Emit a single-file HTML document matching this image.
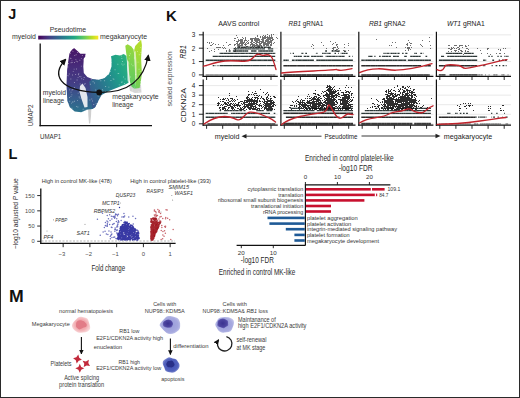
<!DOCTYPE html>
<html><head><meta charset="utf-8"><style>
html,body{margin:0;padding:0;background:#fff;width:520px;height:398px;overflow:hidden}
svg{display:block;font-family:"Liberation Sans", sans-serif}
</style></head><body>
<svg width="520" height="398" viewBox="0 0 520 398">
<rect width="520" height="398" fill="#fff"/>
<rect x="0.5" y="0.5" width="519" height="397" fill="none" stroke="#2a2a2a" stroke-width="1"/>
<text x="8.20" y="19.30" font-size="14.4" fill="#111" font-weight="bold">J</text>
<text x="49.80" y="31.80" font-size="7" fill="#333" textLength="36.20" lengthAdjust="spacingAndGlyphs">Pseudotime</text>
<text x="12.00" y="39.10" font-size="7" fill="#333" textLength="23.90" lengthAdjust="spacingAndGlyphs">myeloid</text>
<text x="100.10" y="39.10" font-size="7" fill="#333" textLength="46.90" lengthAdjust="spacingAndGlyphs">megakaryocyte</text>
<defs>
<linearGradient id="vir" x1="0" x2="1" y1="0" y2="0">
<stop offset="0" stop-color="#440154"/><stop offset="0.1" stop-color="#482475"/><stop offset="0.2" stop-color="#414487"/>
<stop offset="0.3" stop-color="#355f8d"/><stop offset="0.4" stop-color="#2a788e"/><stop offset="0.5" stop-color="#21918c"/>
<stop offset="0.6" stop-color="#22a884"/><stop offset="0.7" stop-color="#44bf70"/><stop offset="0.8" stop-color="#7ad151"/>
<stop offset="0.9" stop-color="#bddf26"/><stop offset="1" stop-color="#fde725"/></linearGradient>
<linearGradient id="lobeL" x1="0" x2="0" y1="0" y2="1">
<stop offset="0" stop-color="#471365"/><stop offset="0.3" stop-color="#472d7b"/><stop offset="0.55" stop-color="#433e85"/><stop offset="0.75" stop-color="#38598c"/><stop offset="1" stop-color="#2c748e"/></linearGradient>
<linearGradient id="lobeM" x1="0" x2="1" y1="0.8" y2="0.2">
<stop offset="0" stop-color="#39568c"/><stop offset="0.25" stop-color="#2e6d8e"/><stop offset="0.5" stop-color="#24878e"/><stop offset="0.75" stop-color="#1fa088"/><stop offset="1" stop-color="#2cb17e"/></linearGradient>
<linearGradient id="lobeR" x1="0" x2="0" y1="1" y2="0">
<stop offset="0" stop-color="#5ec962"/><stop offset="0.6" stop-color="#7bd250"/><stop offset="1" stop-color="#9ad93c"/></linearGradient>
<linearGradient id="lobeR2" x1="0" x2="0" y1="1" y2="0">
<stop offset="0" stop-color="#6fcf57"/><stop offset="0.5" stop-color="#98d83e"/><stop offset="1" stop-color="#b8de29"/></linearGradient>
<marker id="ah" viewBox="0 0 10 10" refX="8" refY="5" markerWidth="5.2" markerHeight="5.2" orient="auto-start-reverse"><path d="M0,0 L10,5 L0,10 z" fill="#111"/></marker>
</defs>
<rect x="38.20" y="35.70" width="60.10" height="3.80" fill="url(#vir)"/>
<line x1="40.20" y1="43.40" x2="40.20" y2="126.20" stroke="#111" stroke-width="1.3"/>
<line x1="39.50" y1="125.60" x2="152.00" y2="125.60" stroke="#111" stroke-width="1.3"/>
<text x="32.90" y="126.20" font-size="7.2" fill="#333" textLength="21.60" lengthAdjust="spacingAndGlyphs" transform="rotate(-90 32.90 126.20)">UMAP2</text>
<text x="40.00" y="139.40" font-size="7.2" fill="#333" textLength="21.20" lengthAdjust="spacingAndGlyphs">UMAP1</text>
<polygon points="88.0,106.0 91.5,106.0 91.0,116.0 90.2,123.5 89.0,123.5 88.3,115.0" fill="#cfcfcf"/>
<polygon points="129.0,86.0 141.0,85.0 141.5,92.5 135.0,93.0 130.0,91.0" fill="#d6d6d6"/>
<polygon points="74.0,48.1 78.1,51.5 80.4,53.8 85.6,53.8 85.2,56.7 83.8,58.5 83.3,66.5 83.8,72.9 87.3,76.9 93.1,79.2 98.0,80.0 99.5,88.0 99.0,95.0 98.4,100.8 95.1,107.3 92.7,109.0 87.8,109.5 81.2,112.2 74.7,111.4 69.8,107.3 67.3,100.8 66.5,85.0 67.1,70.0 68.3,60.8 69.4,53.8 71.1,50.4" fill="url(#lobeL)"/>
<polygon points="92.0,79.2 98.8,79.8 104.6,78.1 109.2,73.4 111.5,66.5 111.5,59.6 111.0,56.3 115.5,54.8 120.0,55.6 123.8,54.1 126.5,56.0 127.5,70.0 129.0,82.5 125.3,84.5 117.1,87.8 109.0,91.0 101.6,95.1 98.4,100.8 95.1,107.3 92.5,108.5 91.0,100.0 90.5,90.0 89.0,82.0" fill="url(#lobeM)"/>
<polygon points="125.3,45.8 127.6,44.3 131.4,46.5 133.6,49.5 134.8,60.0 135.2,75.0 136.0,88.5 134.0,88.5 131.4,86.5 129.8,81.2 128.0,65.0 126.1,52.6" fill="url(#lobeR)"/>
<polygon points="135.2,46.0 138.9,42.0 141.1,39.8 141.9,45.0 141.1,58.6 141.9,73.7 140.4,84.2 139.6,88.0 136.0,88.5 135.2,75.0 134.8,60.0 134.2,50.0" fill="url(#lobeR2)"/>
<polygon points="134.2,52.0 135.6,51.0 136.4,62.0 136.6,78.0 135.6,80.0 134.8,68.0" fill="#eef6e0" opacity="0.75"/>
<polygon points="80.0,86.0 82.5,83.5 85.5,88.0 87.5,97.0 87.5,107.0 84.5,107.5 81.5,99.0 79.5,92.0" fill="#f2f4f6" opacity="0.92"/>
<polygon points="127.0,60.0 128.5,62.0 129.5,78.0 128.5,84.0 127.5,80.0" fill="#e8f0e8" opacity="0.8"/>
<path d="M90.6 54.3h0.9v0.9h-0.9zM115.5 48.9h0.9v0.9h-0.9zM106.7 68.9h0.9v0.9h-0.9zM70.4 78.5h0.9v0.9h-0.9zM68.8 73.5h0.9v0.9h-0.9zM71.3 50.2h0.9v0.9h-0.9zM98.3 100.2h0.9v0.9h-0.9zM75.4 59.2h0.9v0.9h-0.9zM113.7 108.4h0.9v0.9h-0.9zM109.9 71.0h0.9v0.9h-0.9zM140.2 47.2h0.9v0.9h-0.9zM131.2 63.7h0.9v0.9h-0.9zM77.0 52.0h0.9v0.9h-0.9zM89.4 99.5h0.9v0.9h-0.9zM79.7 83.5h0.9v0.9h-0.9zM114.6 69.3h0.9v0.9h-0.9zM107.6 48.3h0.9v0.9h-0.9zM70.5 58.0h0.9v0.9h-0.9zM117.7 73.1h0.9v0.9h-0.9zM89.9 83.8h0.9v0.9h-0.9zM100.4 64.4h0.9v0.9h-0.9zM126.4 91.5h0.9v0.9h-0.9zM84.6 83.1h0.9v0.9h-0.9zM105.9 103.5h0.9v0.9h-0.9zM121.4 63.6h0.9v0.9h-0.9zM140.5 52.0h0.9v0.9h-0.9zM97.8 95.5h0.9v0.9h-0.9zM77.6 77.2h0.9v0.9h-0.9zM69.0 89.4h0.9v0.9h-0.9zM124.1 83.0h0.9v0.9h-0.9zM132.5 65.3h0.9v0.9h-0.9zM118.8 84.4h0.9v0.9h-0.9zM110.1 75.0h0.9v0.9h-0.9zM129.8 108.2h0.9v0.9h-0.9zM102.0 89.2h0.9v0.9h-0.9zM70.6 91.7h0.9v0.9h-0.9zM115.2 111.5h0.9v0.9h-0.9zM128.5 63.4h0.9v0.9h-0.9zM95.3 89.5h0.9v0.9h-0.9zM67.7 75.4h0.9v0.9h-0.9zM78.8 52.0h0.9v0.9h-0.9zM70.5 96.2h0.9v0.9h-0.9zM75.8 60.8h0.9v0.9h-0.9zM95.7 103.3h0.9v0.9h-0.9zM72.1 74.5h0.9v0.9h-0.9zM107.8 104.1h0.9v0.9h-0.9zM128.3 102.8h0.9v0.9h-0.9zM87.2 72.2h0.9v0.9h-0.9zM93.3 104.1h0.9v0.9h-0.9zM138.8 54.3h0.9v0.9h-0.9zM79.4 59.8h0.9v0.9h-0.9zM83.7 77.0h0.9v0.9h-0.9zM110.8 61.9h0.9v0.9h-0.9zM66.3 72.5h0.9v0.9h-0.9zM94.1 82.5h0.9v0.9h-0.9zM138.4 91.0h0.9v0.9h-0.9zM105.2 86.0h0.9v0.9h-0.9zM117.4 47.7h0.9v0.9h-0.9zM134.4 97.0h0.9v0.9h-0.9zM132.5 98.3h0.9v0.9h-0.9zM95.8 71.1h0.9v0.9h-0.9zM73.9 87.1h0.9v0.9h-0.9zM70.7 48.6h0.9v0.9h-0.9zM81.9 55.0h0.9v0.9h-0.9zM91.8 47.6h0.9v0.9h-0.9zM66.0 54.3h0.9v0.9h-0.9zM73.7 68.7h0.9v0.9h-0.9zM67.9 103.5h0.9v0.9h-0.9zM112.7 54.1h0.9v0.9h-0.9zM85.2 67.6h0.9v0.9h-0.9zM93.7 52.4h0.9v0.9h-0.9zM130.5 111.5h0.9v0.9h-0.9zM101.4 76.9h0.9v0.9h-0.9zM72.5 50.9h0.9v0.9h-0.9zM92.0 62.0h0.9v0.9h-0.9zM129.0 55.0h0.9v0.9h-0.9zM67.8 108.7h0.9v0.9h-0.9zM106.1 54.0h0.9v0.9h-0.9zM107.3 45.8h0.9v0.9h-0.9zM106.1 110.5h0.9v0.9h-0.9zM131.6 91.3h0.9v0.9h-0.9zM85.8 68.9h0.9v0.9h-0.9zM78.7 96.5h0.9v0.9h-0.9zM106.5 97.0h0.9v0.9h-0.9zM91.1 59.2h0.9v0.9h-0.9zM127.7 111.0h0.9v0.9h-0.9zM130.8 98.8h0.9v0.9h-0.9zM128.2 94.3h0.9v0.9h-0.9zM83.2 79.2h0.9v0.9h-0.9zM93.0 46.0h0.9v0.9h-0.9zM68.1 63.0h0.9v0.9h-0.9zM85.7 91.1h0.9v0.9h-0.9zM138.7 74.4h0.9v0.9h-0.9zM137.2 111.2h0.9v0.9h-0.9zM138.6 68.8h0.9v0.9h-0.9zM82.8 59.4h0.9v0.9h-0.9zM80.9 57.9h0.9v0.9h-0.9zM113.4 105.2h0.9v0.9h-0.9zM129.9 76.6h0.9v0.9h-0.9zM115.6 98.4h0.9v0.9h-0.9zM72.4 88.9h0.9v0.9h-0.9zM135.1 97.2h0.9v0.9h-0.9zM123.0 76.5h0.9v0.9h-0.9zM79.6 97.7h0.9v0.9h-0.9zM91.3 98.5h0.9v0.9h-0.9zM139.8 70.9h0.9v0.9h-0.9zM96.5 108.4h0.9v0.9h-0.9zM121.1 55.6h0.9v0.9h-0.9zM75.7 54.3h0.9v0.9h-0.9zM134.8 98.8h0.9v0.9h-0.9zM77.1 100.2h0.9v0.9h-0.9zM140.5 88.7h0.9v0.9h-0.9zM92.6 81.3h0.9v0.9h-0.9zM76.0 45.0h0.9v0.9h-0.9zM139.8 88.2h0.9v0.9h-0.9zM106.0 107.5h0.9v0.9h-0.9zM99.0 103.3h0.9v0.9h-0.9zM128.8 58.4h0.9v0.9h-0.9zM85.1 63.9h0.9v0.9h-0.9zM84.3 83.9h0.9v0.9h-0.9zM85.7 72.5h0.9v0.9h-0.9zM76.0 105.9h0.9v0.9h-0.9zM92.9 75.2h0.9v0.9h-0.9zM110.3 105.5h0.9v0.9h-0.9zM98.0 106.4h0.9v0.9h-0.9zM104.1 80.2h0.9v0.9h-0.9zM105.8 45.3h0.9v0.9h-0.9zM99.4 56.5h0.9v0.9h-0.9zM66.3 98.3h0.9v0.9h-0.9zM79.1 76.2h0.9v0.9h-0.9zM121.1 81.8h0.9v0.9h-0.9zM90.8 79.2h0.9v0.9h-0.9zM108.2 97.3h0.9v0.9h-0.9zM74.1 82.1h0.9v0.9h-0.9zM84.9 62.8h0.9v0.9h-0.9zM124.7 78.5h0.9v0.9h-0.9zM108.7 95.7h0.9v0.9h-0.9zM135.3 74.1h0.9v0.9h-0.9zM112.6 78.4h0.9v0.9h-0.9zM104.9 91.1h0.9v0.9h-0.9zM100.4 80.3h0.9v0.9h-0.9zM102.3 108.0h0.9v0.9h-0.9zM119.1 103.6h0.9v0.9h-0.9zM137.6 61.7h0.9v0.9h-0.9zM108.5 108.1h0.9v0.9h-0.9zM129.8 53.3h0.9v0.9h-0.9zM75.2 74.1h0.9v0.9h-0.9zM71.5 60.4h0.9v0.9h-0.9zM71.6 89.5h0.9v0.9h-0.9zM125.6 105.0h0.9v0.9h-0.9zM77.7 92.7h0.9v0.9h-0.9zM116.2 53.7h0.9v0.9h-0.9zM133.1 109.8h0.9v0.9h-0.9zM82.7 108.8h0.9v0.9h-0.9zM96.3 77.1h0.9v0.9h-0.9zM141.2 100.6h0.9v0.9h-0.9zM78.3 73.3h0.9v0.9h-0.9zM105.2 67.1h0.9v0.9h-0.9zM80.9 65.7h0.9v0.9h-0.9zM120.9 45.3h0.9v0.9h-0.9zM108.1 74.0h0.9v0.9h-0.9zM67.4 66.5h0.9v0.9h-0.9zM113.4 78.8h0.9v0.9h-0.9zM70.9 111.0h0.9v0.9h-0.9zM125.9 110.1h0.9v0.9h-0.9zM74.0 62.1h0.9v0.9h-0.9zM69.0 97.0h0.9v0.9h-0.9zM86.6 52.8h0.9v0.9h-0.9zM98.1 106.0h0.9v0.9h-0.9zM128.2 61.6h0.9v0.9h-0.9zM77.4 106.5h0.9v0.9h-0.9zM109.4 91.6h0.9v0.9h-0.9zM72.8 47.9h0.9v0.9h-0.9zM118.3 72.9h0.9v0.9h-0.9zM71.5 107.8h0.9v0.9h-0.9zM114.2 98.5h0.9v0.9h-0.9zM72.4 102.2h0.9v0.9h-0.9zM71.1 102.7h0.9v0.9h-0.9zM100.5 67.1h0.9v0.9h-0.9zM108.0 107.0h0.9v0.9h-0.9zM86.4 52.8h0.9v0.9h-0.9zM106.0 60.2h0.9v0.9h-0.9zM74.3 55.0h0.9v0.9h-0.9zM69.8 57.7h0.9v0.9h-0.9zM89.7 64.7h0.9v0.9h-0.9zM123.7 63.7h0.9v0.9h-0.9zM104.0 56.1h0.9v0.9h-0.9zM92.4 45.2h0.9v0.9h-0.9zM85.0 45.0h0.9v0.9h-0.9zM121.7 81.5h0.9v0.9h-0.9zM80.4 76.3h0.9v0.9h-0.9zM137.0 51.2h0.9v0.9h-0.9zM128.2 73.4h0.9v0.9h-0.9zM103.6 100.8h0.9v0.9h-0.9zM95.9 78.5h0.9v0.9h-0.9zM118.3 110.8h0.9v0.9h-0.9zM92.0 100.6h0.9v0.9h-0.9zM119.7 87.2h0.9v0.9h-0.9zM96.8 67.6h0.9v0.9h-0.9zM70.1 52.8h0.9v0.9h-0.9zM71.4 94.4h0.9v0.9h-0.9zM85.4 55.1h0.9v0.9h-0.9zM72.4 101.2h0.9v0.9h-0.9zM132.2 89.6h0.9v0.9h-0.9zM87.4 60.5h0.9v0.9h-0.9zM88.3 75.2h0.9v0.9h-0.9zM78.0 74.3h0.9v0.9h-0.9zM86.0 109.4h0.9v0.9h-0.9zM139.9 81.2h0.9v0.9h-0.9zM84.6 109.7h0.9v0.9h-0.9zM89.5 68.2h0.9v0.9h-0.9zM66.1 70.0h0.9v0.9h-0.9zM102.1 78.2h0.9v0.9h-0.9zM81.3 78.3h0.9v0.9h-0.9zM66.4 62.0h0.9v0.9h-0.9zM72.8 71.2h0.9v0.9h-0.9zM69.2 45.5h0.9v0.9h-0.9zM89.1 59.8h0.9v0.9h-0.9zM110.5 80.0h0.9v0.9h-0.9zM123.0 88.7h0.9v0.9h-0.9zM120.4 103.8h0.9v0.9h-0.9zM95.6 66.2h0.9v0.9h-0.9zM140.8 54.2h0.9v0.9h-0.9zM121.0 87.7h0.9v0.9h-0.9zM69.3 100.8h0.9v0.9h-0.9zM133.8 86.7h0.9v0.9h-0.9zM121.8 99.2h0.9v0.9h-0.9zM76.6 79.6h0.9v0.9h-0.9zM104.3 100.8h0.9v0.9h-0.9zM127.2 100.2h0.9v0.9h-0.9zM110.4 104.7h0.9v0.9h-0.9zM117.9 91.1h0.9v0.9h-0.9zM83.5 46.1h0.9v0.9h-0.9zM76.1 68.5h0.9v0.9h-0.9zM74.0 100.8h0.9v0.9h-0.9zM108.4 86.7h0.9v0.9h-0.9zM113.6 90.3h0.9v0.9h-0.9zM103.2 44.2h0.9v0.9h-0.9zM126.6 94.9h0.9v0.9h-0.9zM104.2 80.4h0.9v0.9h-0.9zM116.1 48.5h0.9v0.9h-0.9zM122.0 61.1h0.9v0.9h-0.9zM71.7 62.1h0.9v0.9h-0.9zM121.4 58.0h0.9v0.9h-0.9zM122.2 110.3h0.9v0.9h-0.9zM103.5 70.0h0.9v0.9h-0.9zM102.4 90.5h0.9v0.9h-0.9zM124.3 86.0h0.9v0.9h-0.9zM114.8 49.3h0.9v0.9h-0.9zM77.2 61.3h0.9v0.9h-0.9zM122.5 64.7h0.9v0.9h-0.9zM109.1 44.8h0.9v0.9h-0.9zM70.6 62.3h0.9v0.9h-0.9zM117.1 91.1h0.9v0.9h-0.9zM117.4 63.8h0.9v0.9h-0.9zM105.3 75.6h0.9v0.9h-0.9zM101.4 52.1h0.9v0.9h-0.9zM133.9 57.5h0.9v0.9h-0.9zM140.3 107.7h0.9v0.9h-0.9zM67.3 75.2h0.9v0.9h-0.9z" fill="#fff" opacity="0.45"/>
<path d="M 65.5,59.5 C 52,74 57,91 99,92.4 C 128,93 144,80 148.3,55.5" fill="none" stroke="#111" stroke-width="1.3" marker-start="url(#ah)" marker-end="url(#ah)"/>
<circle cx="99.2" cy="92.5" r="2.9" fill="#111"/>
<text x="42.80" y="95.30" font-size="7.0" fill="#333" textLength="23.20" lengthAdjust="spacingAndGlyphs">myeloid</text>
<text x="43.00" y="102.90" font-size="7.0" fill="#333" textLength="21.20" lengthAdjust="spacingAndGlyphs">lineage</text>
<text x="112.20" y="98.80" font-size="7.0" fill="#333" textLength="46.40" lengthAdjust="spacingAndGlyphs">megakaryocyte</text>
<text x="112.20" y="106.80" font-size="7.0" fill="#333" textLength="21.10" lengthAdjust="spacingAndGlyphs">lineage</text>
<text x="166.00" y="20.80" font-size="14.4" fill="#111" font-weight="bold" textLength="10.80" lengthAdjust="spacingAndGlyphs">K</text>
<text x="218.20" y="26.10" font-size="7" fill="#222" textLength="41.10" lengthAdjust="spacingAndGlyphs">AAVS control</text>
<text x="288.6" y="26.1" font-size="7" fill="#222" textLength="34.7" lengthAdjust="spacingAndGlyphs"><tspan font-style="italic">RB1</tspan> gRNA1</text>
<text x="369.0" y="26.1" font-size="7" fill="#222" textLength="36.5" lengthAdjust="spacingAndGlyphs"><tspan font-style="italic">RB1</tspan> gRNA2</text>
<text x="446.9" y="26.1" font-size="7" fill="#222" textLength="37.8" lengthAdjust="spacingAndGlyphs"><tspan font-style="italic">WT1</tspan> gRNA1</text>
<text x="172.00" y="106.50" font-size="6.4" fill="#555" textLength="55.10" lengthAdjust="spacingAndGlyphs" transform="rotate(-90 172.00 106.50)">scaled expression</text>
<text x="186.20" y="58.70" font-size="8.2" fill="#222" font-style="italic" textLength="13.60" lengthAdjust="spacingAndGlyphs" transform="rotate(-90 186.20 58.70)">RB1</text>
<text x="186.40" y="122.50" font-size="8.0" fill="#222" textLength="34.30" lengthAdjust="spacingAndGlyphs" transform="rotate(-90 186.40 122.50)">CDKN2A</text>
<line x1="204.20" y1="74.90" x2="277.80" y2="74.90" stroke="#e2e2e2" stroke-width="0.8"/>
<line x1="281.90" y1="74.90" x2="355.50" y2="74.90" stroke="#e2e2e2" stroke-width="0.8"/>
<line x1="359.80" y1="74.90" x2="433.40" y2="74.90" stroke="#e2e2e2" stroke-width="0.8"/>
<line x1="437.40" y1="74.90" x2="511.00" y2="74.90" stroke="#e2e2e2" stroke-width="0.8"/>
<line x1="204.20" y1="61.55" x2="277.80" y2="61.55" stroke="#e2e2e2" stroke-width="0.8"/>
<line x1="281.90" y1="61.55" x2="355.50" y2="61.55" stroke="#e2e2e2" stroke-width="0.8"/>
<line x1="359.80" y1="61.55" x2="433.40" y2="61.55" stroke="#e2e2e2" stroke-width="0.8"/>
<line x1="437.40" y1="61.55" x2="511.00" y2="61.55" stroke="#e2e2e2" stroke-width="0.8"/>
<line x1="204.20" y1="48.20" x2="277.80" y2="48.20" stroke="#e2e2e2" stroke-width="0.8"/>
<line x1="281.90" y1="48.20" x2="355.50" y2="48.20" stroke="#e2e2e2" stroke-width="0.8"/>
<line x1="359.80" y1="48.20" x2="433.40" y2="48.20" stroke="#e2e2e2" stroke-width="0.8"/>
<line x1="437.40" y1="48.20" x2="511.00" y2="48.20" stroke="#e2e2e2" stroke-width="0.8"/>
<line x1="204.20" y1="34.85" x2="277.80" y2="34.85" stroke="#e2e2e2" stroke-width="0.8"/>
<line x1="281.90" y1="34.85" x2="355.50" y2="34.85" stroke="#e2e2e2" stroke-width="0.8"/>
<line x1="359.80" y1="34.85" x2="433.40" y2="34.85" stroke="#e2e2e2" stroke-width="0.8"/>
<line x1="437.40" y1="34.85" x2="511.00" y2="34.85" stroke="#e2e2e2" stroke-width="0.8"/>
<line x1="204.20" y1="123.80" x2="277.80" y2="123.80" stroke="#e2e2e2" stroke-width="0.8"/>
<line x1="281.90" y1="123.80" x2="355.50" y2="123.80" stroke="#e2e2e2" stroke-width="0.8"/>
<line x1="359.80" y1="123.80" x2="433.40" y2="123.80" stroke="#e2e2e2" stroke-width="0.8"/>
<line x1="437.40" y1="123.80" x2="511.00" y2="123.80" stroke="#e2e2e2" stroke-width="0.8"/>
<line x1="204.20" y1="114.25" x2="277.80" y2="114.25" stroke="#e2e2e2" stroke-width="0.8"/>
<line x1="281.90" y1="114.25" x2="355.50" y2="114.25" stroke="#e2e2e2" stroke-width="0.8"/>
<line x1="359.80" y1="114.25" x2="433.40" y2="114.25" stroke="#e2e2e2" stroke-width="0.8"/>
<line x1="437.40" y1="114.25" x2="511.00" y2="114.25" stroke="#e2e2e2" stroke-width="0.8"/>
<line x1="204.20" y1="104.70" x2="277.80" y2="104.70" stroke="#e2e2e2" stroke-width="0.8"/>
<line x1="281.90" y1="104.70" x2="355.50" y2="104.70" stroke="#e2e2e2" stroke-width="0.8"/>
<line x1="359.80" y1="104.70" x2="433.40" y2="104.70" stroke="#e2e2e2" stroke-width="0.8"/>
<line x1="437.40" y1="104.70" x2="511.00" y2="104.70" stroke="#e2e2e2" stroke-width="0.8"/>
<line x1="204.20" y1="95.15" x2="277.80" y2="95.15" stroke="#e2e2e2" stroke-width="0.8"/>
<line x1="281.90" y1="95.15" x2="355.50" y2="95.15" stroke="#e2e2e2" stroke-width="0.8"/>
<line x1="359.80" y1="95.15" x2="433.40" y2="95.15" stroke="#e2e2e2" stroke-width="0.8"/>
<line x1="437.40" y1="95.15" x2="511.00" y2="95.15" stroke="#e2e2e2" stroke-width="0.8"/>
<line x1="204.20" y1="85.60" x2="277.80" y2="85.60" stroke="#e2e2e2" stroke-width="0.8"/>
<line x1="281.90" y1="85.60" x2="355.50" y2="85.60" stroke="#e2e2e2" stroke-width="0.8"/>
<line x1="359.80" y1="85.60" x2="433.40" y2="85.60" stroke="#e2e2e2" stroke-width="0.8"/>
<line x1="437.40" y1="85.60" x2="511.00" y2="85.60" stroke="#e2e2e2" stroke-width="0.8"/>
<path d="M205.7 74.90h4.1M209.9 74.90h3.1M213.1 74.90h1.6M214.8 74.90h3.6M218.5 74.90h1.4M220.0 74.90h3.3M223.4 74.90h2.0M225.4 74.90h1.7M227.2 74.90h4.4M231.7 74.90h3.8M235.5 74.90h3.2M238.8 74.90h4.0M242.9 74.90h3.7M246.7 74.90h1.5M248.2 74.90h2.7M250.9 74.90h3.0M254.0 74.90h2.7M256.8 74.90h4.3M261.2 74.90h1.9M263.2 74.90h1.1M264.4 74.90h4.3M268.7 74.90h3.8M272.7 74.90h2.2M274.9 74.90h0.4" stroke="#8a8a8a" stroke-width="1.5" fill="none"/>
<path d="M205.7 65.65h0.8M212.7 65.65h1.5M214.7 65.65h0.7M216.8 65.65h0.5M217.8 65.65h0.7" stroke="#2d3838" stroke-width="1.3" fill="none"/>
<path d="M219.6 65.65h4.0M223.7 65.65h3.9M227.6 65.65h4.6M232.3 65.65h2.8M235.1 65.65h2.0M237.1 65.65h3.5M240.7 65.65h2.9M243.7 65.65h3.7M247.4 65.65h2.8M250.3 65.65h2.5M252.9 65.65h3.5M256.4 65.65h3.5M260.0 65.65h4.1M264.1 65.65h2.5M266.8 65.65h4.1M271.0 65.65h2.2M273.2 65.65h1.3M274.6 65.65h0.7" stroke="#2d3838" stroke-width="1.3" fill="none"/>
<path d="M205.7 60.23h3.9M209.7 60.23h3.8M213.6 60.23h2.5M216.1 60.23h1.1M217.3 60.23h2.2M219.6 60.23h3.8M223.5 60.23h2.3M225.9 60.23h2.0M227.9 60.23h2.0M230.0 60.23h1.4M231.5 60.23h3.5M235.1 60.23h2.2M237.4 60.23h3.3M240.8 60.23h1.9M242.8 60.23h2.6M245.4 60.23h2.8M248.4 60.23h3.3M251.7 60.23h4.4M256.2 60.23h1.6M257.9 60.23h1.4M259.3 60.23h1.8M261.2 60.23h1.4M262.7 60.23h1.2M264.0 60.23h3.4M267.6 60.23h4.1M271.8 60.23h1.3M273.1 60.23h2.2" stroke="#2d3838" stroke-width="1.3" fill="none"/>
<path d="M212.7 56.40h2.1M214.8 56.40h2.2M217.1 56.40h1.5M218.8 56.40h2.5M221.4 56.40h3.3M224.8 56.40h1.5M226.4 56.40h3.2M229.7 56.40h3.5M233.3 56.40h2.7M236.0 56.40h2.8M238.9 56.40h1.9M240.9 56.40h3.6M244.5 56.40h3.8M248.5 56.40h4.4M252.9 56.40h3.6M256.6 56.40h2.6M259.3 56.40h1.5M260.8 56.40h2.2M263.1 56.40h4.1M267.2 56.40h1.2M268.5 56.40h2.6M271.2 56.40h3.8M275.1 56.40h0.2" stroke="#2d3838" stroke-width="1.3" fill="none"/>
<path d="M219.6 53.42h1.2M220.9 53.42h2.6M223.7 53.42h4.1M227.9 53.42h1.6M229.5 53.42h3.7M233.3 53.42h1.4M234.8 53.42h2.2M237.1 53.42h1.9M239.1 53.42h1.6M240.8 53.42h3.2M244.1 53.42h1.7M246.0 53.42h1.5M247.6 53.42h1.2M249.0 53.42h4.0M253.1 53.42h2.5M255.7 53.42h3.2M259.0 53.42h4.1M263.3 53.42h4.1M267.5 53.42h2.8M270.4 53.42h1.6M272.2 53.42h2.0M274.3 53.42h1.0" stroke="#2d3838" stroke-width="1.3" fill="none"/>
<path d="M228.7 50.98h1.9M232.9 50.98h3.1M236.1 50.98h2.3M238.5 50.98h3.8M242.5 50.98h1.7M244.4 50.98h1.7M246.2 50.98h2.0M251.1 50.98h2.8M254.0 50.98h2.5M258.3 50.98h1.3M259.7 50.98h3.2M263.0 50.98h2.0M265.1 50.98h3.2M268.5 50.98h1.6M270.2 50.98h3.0" stroke="#2d3838" stroke-width="1.3" fill="none"/>
<path d="M233.5 48.92h3.5M237.1 48.92h2.4M239.7 48.92h2.9M242.7 48.92h1.8M244.7 48.92h2.3M247.1 48.92h2.6M249.8 48.92h1.9M251.9 48.92h3.5M255.5 48.92h3.5M259.2 48.92h2.3M261.7 48.92h3.3M267.9 48.92h2.3M270.3 48.92h1.6M272.0 48.92h1.2" stroke="#2d3838" stroke-width="1.3" fill="none"/>
<path d="M237.0 47.15h1.7M239.0 47.15h1.5M240.8 47.15h2.4M243.4 47.15h1.7M245.3 47.15h2.5M247.9 47.15h2.0M250.1 47.15h1.8M252.1 47.15h2.7M255.1 47.15h2.0M257.5 47.15h2.5M260.1 47.15h1.3M261.6 47.15h1.9M263.8 47.15h1.4M265.5 47.15h1.7M267.6 47.15h1.7M269.5 47.15h1.1" stroke="#2d3838" stroke-width="1.3" fill="none"/>
<path d="M283.4 74.90h2.6M286.1 74.90h4.1M290.2 74.90h2.7M293.0 74.90h2.0M295.1 74.90h3.1M298.2 74.90h3.1M301.4 74.90h3.5M304.9 74.90h1.8M306.9 74.90h1.4M308.3 74.90h2.8M311.2 74.90h4.3M315.5 74.90h2.7M318.2 74.90h4.2M322.5 74.90h4.2M326.8 74.90h1.9M328.7 74.90h2.8M331.5 74.90h1.8M333.4 74.90h2.2M335.7 74.90h3.6M339.4 74.90h3.9M343.4 74.90h3.1M346.4 74.90h2.7M349.2 74.90h1.4M350.7 74.90h2.3" stroke="#555" stroke-width="2.0" fill="none"/>
<path d="M283.4 65.65h3.7M287.2 65.65h2.6M289.9 65.65h2.7M292.6 65.65h3.6M296.3 65.65h1.3M297.7 65.65h3.8M301.5 65.65h4.3M305.9 65.65h4.5M310.4 65.65h4.1M314.5 65.65h3.3M317.8 65.65h2.1M320.1 65.65h3.4M323.5 65.65h2.7M326.3 65.65h2.5M328.9 65.65h3.4M332.4 65.65h3.0M335.5 65.65h3.7M339.2 65.65h2.3M341.6 65.65h4.4M346.1 65.65h2.1M348.2 65.65h1.8M350.2 65.65h2.4M352.7 65.65h0.3" stroke="#2a2a2a" stroke-width="1.5" fill="none"/>
<path d="M283.4 60.23h1.8M285.4 60.23h2.4M288.1 60.23h0.7M291.9 60.23h2.1M294.3 60.23h1.2M295.8 60.23h1.5" stroke="#2d3838" stroke-width="1.3" fill="none"/>
<path d="M297.3 60.23h4.1M301.5 60.23h1.2M302.8 60.23h2.7M305.5 60.23h2.0M307.6 60.23h1.6M309.3 60.23h4.6M316.3 60.23h2.1M318.5 60.23h2.1M320.7 60.23h1.4M322.1 60.23h3.0M325.2 60.23h2.1M327.4 60.23h4.2M331.7 60.23h2.2M333.9 60.23h3.6M337.5 60.23h3.6M341.2 60.23h4.4M345.6 60.23h3.0M348.7 60.23h4.2M353.0 60.23h0.0" stroke="#2d3838" stroke-width="1.3" fill="none"/>
<path d="M293.8 56.40h1.8M295.9 56.40h1.1M297.4 56.40h1.8M299.4 56.40h2.5M303.7 56.40h2.7M306.8 56.40h2.5M311.1 56.40h1.9M313.2 56.40h2.9M316.4 56.40h1.5M318.1 56.40h1.2M319.5 56.40h1.6M321.2 56.40h0.8M322.2 56.40h0.9M325.6 56.40h0.8M326.7 56.40h2.2M329.0 56.40h2.3M331.5 56.40h0.8M332.4 56.40h2.8M335.5 56.40h1.4M337.3 56.40h1.4M339.1 56.40h2.5M341.8 56.40h2.8M348.7 56.40h1.5M352.4 56.40h0.6" stroke="#2d3838" stroke-width="1.3" fill="none"/>
<path d="M290.4 53.42h0.7M292.7 53.42h1.3M301.1 53.42h0.6M302.1 53.42h1.3M305.3 53.42h1.7M315.9 53.42h0.8M317.0 53.42h0.5M322.1 53.42h1.4M323.8 53.42h0.8M324.8 53.42h0.9M325.9 53.42h0.6M326.9 53.42h0.8M328.2 53.42h1.8M330.2 53.42h0.7M334.5 53.42h1.5M338.1 53.42h0.7M340.7 53.42h0.5M341.7 53.42h1.7M343.6 53.42h1.8M345.7 53.42h1.9" stroke="#2d3838" stroke-width="1.3" fill="none"/>
<path d="M325.2 50.98h1.8M331.6 50.98h2.1M334.3 50.98h1.1M335.6 50.98h1.5M337.4 50.98h1.4M339.2 50.98h0.7M344.2 50.98h1.0M345.7 50.98h0.4" stroke="#2d3838" stroke-width="1.3" fill="none"/>
<path d="M361.3 74.90h2.3M363.6 74.90h2.9M366.6 74.90h4.4M371.1 74.90h4.6M375.7 74.90h4.3M380.1 74.90h2.4M382.5 74.90h3.9M386.5 74.90h2.7M389.3 74.90h3.1M392.4 74.90h2.2M394.7 74.90h2.8M397.6 74.90h1.7M399.4 74.90h1.5M401.0 74.90h2.6M403.7 74.90h2.0M405.8 74.90h3.5M409.3 74.90h2.4M411.8 74.90h3.1M414.9 74.90h1.5M416.5 74.90h2.6M419.1 74.90h4.4M423.6 74.90h2.9M426.5 74.90h1.5M428.1 74.90h1.6" stroke="#606060" stroke-width="2.0" fill="none"/>
<path d="M361.3 65.65h4.3M365.7 65.65h4.3M370.1 65.65h2.9M373.0 65.65h2.0M375.1 65.65h2.1M377.3 65.65h3.6M380.9 65.65h4.4M385.4 65.65h2.9M388.3 65.65h4.8M393.1 65.65h3.0M396.2 65.65h3.4M399.7 65.65h2.8M402.6 65.65h3.5M406.1 65.65h2.8M408.9 65.65h3.2M412.2 65.65h2.9M415.1 65.65h2.8M418.0 65.65h3.2M424.4 65.65h3.4M428.0 65.65h2.0M430.1 65.65h0.8" stroke="#2a2a2a" stroke-width="1.5" fill="none"/>
<path d="M361.3 60.23h1.7M363.1 60.23h1.1M364.4 60.23h1.0M365.6 60.23h1.8M367.5 60.23h3.8M371.4 60.23h1.3M372.8 60.23h2.2M375.2 60.23h1.3M376.5 60.23h3.2M379.9 60.23h1.4M381.4 60.23h2.6M384.1 60.23h2.1M386.2 60.23h1.9M388.2 60.23h3.8M392.2 60.23h2.6M394.9 60.23h2.8M397.9 60.23h1.0M399.0 60.23h3.0M402.1 60.23h1.2M403.4 60.23h2.8M407.8 60.23h4.0M411.8 60.23h1.2M413.2 60.23h2.2M415.5 60.23h3.9M419.5 60.23h2.8M422.4 60.23h1.9M424.5 60.23h3.6M428.2 60.23h2.7" stroke="#2d3838" stroke-width="1.3" fill="none"/>
<path d="M368.3 56.40h1.4M369.8 56.40h2.7M374.3 56.40h1.2M379.1 56.40h1.6M381.9 56.40h1.0M383.1 56.40h2.6M385.9 56.40h2.7M389.0 56.40h1.9M393.0 56.40h2.9M396.2 56.40h2.7M404.2 56.40h2.6M410.2 56.40h2.4M412.8 56.40h2.5M415.4 56.40h2.8M418.4 56.40h2.3M425.5 56.40h1.7" stroke="#2d3838" stroke-width="1.3" fill="none"/>
<path d="M383.4 53.42h0.9M384.6 53.42h0.7M385.6 53.42h0.8M386.8 53.42h1.1M388.1 53.42h1.0M389.6 53.42h0.9M390.9 53.42h1.6M392.7 53.42h1.2M394.2 53.42h1.8M396.4 53.42h1.0M397.8 53.42h1.8M402.1 53.42h1.5M405.3 53.42h2.1M414.3 53.42h1.4M416.0 53.42h0.9M420.3 53.42h1.9M423.6 53.42h0.4" stroke="#2d3838" stroke-width="1.3" fill="none"/>
<path d="M438.9 74.90h2.1M441.1 74.90h4.4M449.5 74.90h2.5M452.1 74.90h2.9M455.1 74.90h2.8M458.0 74.90h1.8M459.9 74.90h2.4M462.3 74.90h1.2M463.6 74.90h3.7M467.3 74.90h1.5M468.9 74.90h2.7M471.7 74.90h4.6M476.3 74.90h0.9" stroke="#5a5a5a" stroke-width="1.6" fill="none"/>
<path d="M477.2 74.90h0.7M478.2 74.90h1.9M480.5 74.90h2.2M485.0 74.90h0.8M488.7 74.90h0.8M493.3 74.90h2.3M495.9 74.90h1.6M501.1 74.90h0.6M502.2 74.90h2.3M507.6 74.90h0.9" stroke="#777" stroke-width="1.4" fill="none"/>
<path d="M438.9 65.65h2.2M441.1 65.65h2.8M444.0 65.65h1.6M445.7 65.65h2.8M448.6 65.65h3.2M451.8 65.65h4.4M456.3 65.65h2.2M458.6 65.65h2.0M460.6 65.65h3.9M464.6 65.65h4.4M469.0 65.65h1.9M471.0 65.65h3.9M475.0 65.65h2.2" stroke="#2a2a2a" stroke-width="1.5" fill="none"/>
<path d="M479.5 65.65h0.7M482.9 65.65h1.0M484.2 65.65h1.1M491.6 65.65h1.1M495.6 65.65h1.7M499.0 65.65h1.3M502.5 65.65h1.8M505.7 65.65h0.9" stroke="#2d3838" stroke-width="1.3" fill="none"/>
<path d="M438.9 60.23h3.2M442.2 60.23h3.7M445.9 60.23h4.3M450.3 60.23h3.6M454.0 60.23h2.6M456.7 60.23h2.6M459.3 60.23h4.2M463.6 60.23h3.0M466.8 60.23h4.3M471.2 60.23h2.6M473.8 60.23h3.4" stroke="#2d3838" stroke-width="1.3" fill="none"/>
<path d="M483.1 60.23h1.8M485.4 60.23h0.8M492.3 60.23h1.8M498.8 60.23h1.2M502.0 60.23h1.7M504.8 60.23h2.0" stroke="#2d3838" stroke-width="1.3" fill="none"/>
<path d="M441.0 56.40h3.1M447.2 56.40h2.1M449.5 56.40h2.0M451.5 56.40h2.6M454.3 56.40h3.2M457.6 56.40h2.3M460.0 56.40h1.3M461.4 56.40h3.6M465.0 56.40h1.4M466.5 56.40h4.4M471.0 56.40h1.7M472.8 56.40h1.3M474.1 56.40h3.1" stroke="#2d3838" stroke-width="1.3" fill="none"/>
<path d="M488.4 56.40h1.4M491.3 56.40h1.3M497.4 56.40h1.3M500.0 56.40h0.6M501.1 56.40h0.8M504.4 56.40h1.1M506.0 56.40h0.8M507.3 56.40h1.2" stroke="#2d3838" stroke-width="1.3" fill="none"/>
<path d="M445.9 53.42h1.0M447.1 53.42h2.1M449.2 53.42h3.3M452.7 53.42h2.0M454.8 53.42h3.6M458.5 53.42h1.9M460.5 53.42h1.7M464.1 53.42h3.6M467.8 53.42h3.6M471.7 53.42h2.0" stroke="#2d3838" stroke-width="1.3" fill="none"/>
<path d="M207.4 123.80h2.8M210.3 123.80h3.2M213.5 123.80h3.8M217.3 123.80h2.9M220.3 123.80h2.6M223.0 123.80h1.2M224.3 123.80h3.1M227.5 123.80h3.8M231.4 123.80h1.5M233.0 123.80h3.6M236.6 123.80h2.9M239.6 123.80h1.5M241.2 123.80h4.2M245.5 123.80h2.1M247.7 123.80h4.1M251.9 123.80h2.3M254.3 123.80h3.6M258.1 123.80h4.6M262.7 123.80h4.8M267.5 123.80h4.0M271.6 123.80h3.7" stroke="#6a6a6a" stroke-width="1.8" fill="none"/>
<path d="M205.7 117.18h3.2M209.0 117.18h1.3M210.4 117.18h3.8M214.4 117.18h4.2M218.6 117.18h3.8M222.5 117.18h3.0M225.5 117.18h4.1M229.7 117.18h4.5M234.3 117.18h1.2M235.7 117.18h3.9M239.7 117.18h3.0M242.7 117.18h2.5M245.3 117.18h2.0M247.3 117.18h4.5M251.9 117.18h4.6M256.5 117.18h3.3M260.0 117.18h1.3M261.3 117.18h2.8M264.1 117.18h2.4M266.6 117.18h1.9M268.5 117.18h1.8M270.4 117.18h3.9M274.4 117.18h0.9" stroke="#2f3a3a" stroke-width="1.6" fill="none"/>
<path d="M205.7 113.30h2.4M208.3 113.30h3.8M212.1 113.30h2.3M214.7 113.30h2.6M217.4 113.30h1.7M219.2 113.30h3.0M222.3 113.30h2.7M225.1 113.30h1.1M226.3 113.30h1.4M231.1 113.30h1.2M232.5 113.30h2.8M235.6 113.30h2.1M237.8 113.30h2.7M240.7 113.30h2.9M243.8 113.30h2.7M246.6 113.30h3.7M250.5 113.30h1.5M252.1 113.30h3.1M255.4 113.30h1.5M257.0 113.30h3.0M260.2 113.30h2.0M262.3 113.30h3.0M265.4 113.30h2.4M268.0 113.30h2.0M273.7 113.30h1.6" stroke="#2d3838" stroke-width="1.3" fill="none"/>
<path d="M219.6 110.56h1.5M224.1 110.56h3.0M227.2 110.56h1.8M229.2 110.56h2.9M232.4 110.56h2.4M235.1 110.56h3.1M238.5 110.56h0.8M239.6 110.56h2.6M243.5 110.56h2.0M256.3 110.56h1.6M258.1 110.56h2.9M261.2 110.56h2.6M266.5 110.56h3.0M269.7 110.56h2.6" stroke="#2d3838" stroke-width="1.3" fill="none"/>
<path d="M283.4 123.80h1.6M285.1 123.80h2.0M287.1 123.80h3.9M291.0 123.80h3.4M294.5 123.80h3.1M297.7 123.80h2.4M300.2 123.80h4.4M304.7 123.80h1.8M306.5 123.80h1.3M307.9 123.80h3.2M311.2 123.80h4.6M315.9 123.80h4.6M320.5 123.80h3.2M323.7 123.80h4.7M328.5 123.80h4.2M332.8 123.80h3.2M336.0 123.80h3.8M339.9 123.80h1.8M341.7 123.80h3.3M345.1 123.80h2.9M348.0 123.80h2.8M350.9 123.80h2.1" stroke="#333" stroke-width="2.0" fill="none"/>
<path d="M285.9 117.18h1.6M287.5 117.18h2.5M290.0 117.18h1.6M291.6 117.18h1.3M293.0 117.18h1.9M294.9 117.18h4.1M299.1 117.18h1.9M301.1 117.18h4.5M305.7 117.18h4.3M310.1 117.18h3.0M313.2 117.18h1.6M314.8 117.18h2.9M317.8 117.18h1.7M319.6 117.18h4.1M323.8 117.18h3.9M327.8 117.18h1.5M329.4 117.18h3.7M333.2 117.18h3.6M336.9 117.18h2.7M342.9 117.18h4.2M347.2 117.18h4.5M351.8 117.18h1.2" stroke="#2a2a2a" stroke-width="1.6" fill="none"/>
<path d="M283.4 113.30h2.0M285.4 113.30h3.6M289.1 113.30h1.5M290.7 113.30h1.7M292.4 113.30h1.5M293.9 113.30h4.4M298.4 113.30h2.1M300.5 113.30h2.9M303.5 113.30h4.1M307.7 113.30h3.6M311.4 113.30h4.4M315.8 113.30h1.5M317.4 113.30h3.4M320.9 113.30h4.0M325.0 113.30h1.6M326.7 113.30h2.6M329.4 113.30h3.1M332.5 113.30h2.0M334.5 113.30h4.8M339.4 113.30h4.1M343.5 113.30h3.3M346.9 113.30h4.0M351.0 113.30h2.0" stroke="#2a2a2a" stroke-width="1.4" fill="none"/>
<path d="M283.4 110.56h4.0M287.6 110.56h2.7M290.3 110.56h4.0M294.4 110.56h2.2M296.8 110.56h2.4M299.3 110.56h3.5M302.9 110.56h1.1M304.0 110.56h2.1M306.2 110.56h3.2M309.5 110.56h1.3M310.9 110.56h3.6M316.8 110.56h2.5M319.4 110.56h1.9M321.5 110.56h2.3M324.0 110.56h1.2M325.3 110.56h2.5M327.9 110.56h1.8M329.8 110.56h2.9M332.9 110.56h2.8M335.8 110.56h3.3M339.1 110.56h3.8M343.2 110.56h1.6M344.8 110.56h2.7M347.6 110.56h3.4M351.1 110.56h1.9" stroke="#2d3838" stroke-width="1.3" fill="none"/>
<path d="M290.4 108.43h1.3M291.8 108.43h3.2M295.1 108.43h2.7M298.0 108.43h3.1M305.2 108.43h2.8M308.1 108.43h3.7M311.9 108.43h2.3M314.3 108.43h2.9M317.4 108.43h2.6M320.0 108.43h3.8M324.0 108.43h1.6M325.7 108.43h2.6M328.3 108.43h2.3M330.8 108.43h1.5M332.4 108.43h1.4M333.9 108.43h3.6M337.6 108.43h3.8M341.5 108.43h1.0M342.6 108.43h1.7M344.4 108.43h2.9M347.5 108.43h3.0M350.6 108.43h2.4" stroke="#2d3838" stroke-width="1.3" fill="none"/>
<path d="M361.3 123.80h4.2M365.6 123.80h2.3M367.9 123.80h2.3M370.3 123.80h1.4M371.8 123.80h1.7M373.5 123.80h4.3M377.9 123.80h3.8M381.8 123.80h3.1M385.0 123.80h1.6M386.7 123.80h3.4M390.2 123.80h2.6M392.8 123.80h4.6M397.5 123.80h3.8M401.4 123.80h2.7M404.1 123.80h2.8M407.0 123.80h2.3M409.4 123.80h3.0M414.2 123.80h1.9M416.2 123.80h4.5M420.7 123.80h1.2M422.0 123.80h4.7M426.8 123.80h1.2M428.1 123.80h2.8" stroke="#3a3a3a" stroke-width="2.0" fill="none"/>
<path d="M361.3 117.18h4.1M365.5 117.18h4.8M370.3 117.18h3.9M374.3 117.18h3.4M377.8 117.18h3.7M381.6 117.18h3.8M385.5 117.18h1.5M387.0 117.18h1.7M388.8 117.18h3.1M392.0 117.18h4.8M396.8 117.18h3.9M400.8 117.18h3.4M404.3 117.18h4.5M408.8 117.18h4.0M412.9 117.18h4.0M417.0 117.18h3.3M420.3 117.18h2.3M422.7 117.18h3.0M425.8 117.18h3.9M429.7 117.18h1.2" stroke="#2a2a2a" stroke-width="1.6" fill="none"/>
<path d="M361.3 113.30h3.9M365.3 113.30h2.6M367.9 113.30h1.4M369.4 113.30h3.7M373.2 113.30h1.7M375.0 113.30h4.2M379.3 113.30h1.5M380.9 113.30h4.1M385.1 113.30h1.8M387.0 113.30h2.3M389.4 113.30h2.8M392.3 113.30h3.2M395.6 113.30h4.3M400.0 113.30h1.2M401.3 113.30h2.0M403.4 113.30h2.0M405.5 113.30h3.6M409.1 113.30h1.9M411.1 113.30h1.6M412.8 113.30h2.3M415.2 113.30h1.7M416.9 113.30h2.8M419.8 113.30h2.3M422.2 113.30h2.0M424.2 113.30h3.7M428.0 113.30h2.9" stroke="#2d3838" stroke-width="1.3" fill="none"/>
<path d="M364.8 110.56h1.4M366.3 110.56h3.1M369.6 110.56h3.0M372.6 110.56h1.1M373.9 110.56h1.7M375.8 110.56h2.0M377.9 110.56h1.2M379.2 110.56h2.9M382.3 110.56h2.7M385.1 110.56h4.0M389.3 110.56h1.4M390.7 110.56h3.2M394.0 110.56h3.6M397.8 110.56h2.5M400.4 110.56h2.8M403.4 110.56h3.0M406.5 110.56h1.8M408.5 110.56h2.8M411.4 110.56h3.9M415.4 110.56h1.5M417.0 110.56h4.0M421.1 110.56h1.7M423.0 110.56h3.0M426.2 110.56h3.9M430.2 110.56h0.7" stroke="#2d3838" stroke-width="1.3" fill="none"/>
<path d="M375.8 108.43h1.6M381.1 108.43h1.9M383.2 108.43h1.1M384.6 108.43h1.9M386.7 108.43h1.2M388.1 108.43h3.2M391.5 108.43h2.6M396.6 108.43h1.0M398.0 108.43h2.9M401.1 108.43h2.9M404.1 108.43h1.3M405.6 108.43h1.8M407.5 108.43h3.6M411.3 108.43h3.3M414.8 108.43h3.3M418.3 108.43h1.8M420.2 108.43h3.5M423.8 108.43h3.4M427.3 108.43h1.6M429.1 108.43h1.8" stroke="#2d3838" stroke-width="1.3" fill="none"/>
<path d="M438.9 123.80h1.6M440.8 123.80h3.2M444.2 123.80h3.1M449.1 123.80h1.5M451.0 123.80h1.8M456.3 123.80h2.8M459.5 123.80h1.8M461.6 123.80h1.2M462.9 123.80h1.1M464.3 123.80h2.4M466.9 123.80h1.2M468.2 123.80h2.0" stroke="#b0a0a0" stroke-width="1.4" fill="none"/>
<path d="M470.2 123.80h0.7M473.9 123.80h2.5M476.8 123.80h1.3M480.1 123.80h1.4M481.7 123.80h1.4M483.3 123.80h2.5M486.0 123.80h2.6M488.7 123.80h1.5M490.5 123.80h1.4M492.1 123.80h2.6M494.9 123.80h2.3M497.4 123.80h1.8M499.5 123.80h1.4M505.5 123.80h2.5M508.4 123.80h0.1" stroke="#8a8a8a" stroke-width="1.3" fill="none"/>
<path d="M438.9 117.18h2.5M441.5 117.18h4.2M445.7 117.18h2.5M448.3 117.18h2.1M450.5 117.18h2.9M453.5 117.18h3.2M456.8 117.18h4.2M461.0 117.18h2.6M463.7 117.18h3.0M466.7 117.18h4.2M471.0 117.18h2.4M473.5 117.18h1.6" stroke="#2a2a2a" stroke-width="1.5" fill="none"/>
<path d="M475.1 117.18h1.6M478.1 117.18h0.9M479.4 117.18h1.5M481.1 117.18h1.8M483.1 117.18h2.0M485.6 117.18h0.9M491.5 117.18h0.6M493.1 117.18h1.9M497.6 117.18h1.2M502.4 117.18h0.7M505.6 117.18h1.4M507.4 117.18h0.6M508.5 117.18h0.0" stroke="#2d3838" stroke-width="1.3" fill="none"/>
<path d="M447.3 113.30h1.5M449.2 113.30h1.2M455.1 113.30h1.6M457.1 113.30h0.6M459.8 113.30h1.6M463.0 113.30h1.6M466.1 113.30h1.8" stroke="#2d3838" stroke-width="1.3" fill="none"/>
<path d="M491.1 113.30h1.2M496.2 113.30h1.4M504.2 113.30h0.8" stroke="#2d3838" stroke-width="1.3" fill="none"/>
<path d="M241 39h1v1h-1zM240 43h1v1h-1zM237 45h1v1h-1zM241 40h1v1h-1zM242 45h1v1h-1zM245 44h1v1h-1zM241 45h1v1h-1zM237 43h1v1h-1zM243 42h1v1h-1zM238 40h1v1h-1zM238 44h1v1h-1zM244 44h1v1h-1zM245 47h1v1h-1zM237 44h1v1h-1zM242 39h1v1h-1zM244 42h1v1h-1zM242 44h1v1h-1zM241 44h1v1h-1zM240 39h1v1h-1zM244 47h1v1h-1zM242 41h1v1h-1zM244 41h1v1h-1zM241 43h1v1h-1zM238 41h1v1h-1zM239 44h1v1h-1zM246 40h1v1h-1zM239 40h1v1h-1zM240 40h1v1h-1zM246 44h1v1h-1zM240 45h1v1h-1zM245 45h1v1h-1zM240 42h1v1h-1zM241 47h1v1h-1zM244 40h1v1h-1zM239 47h1v1h-1zM238 47h1v1h-1zM245 39h1v1h-1zM241 42h1v1h-1zM239 43h1v1h-1zM238 45h1v1h-1zM245 40h1v1h-1zM242 47h1v1h-1zM238 39h1v1h-1zM243 47h1v1h-1zM243 43h1v1h-1zM239 46h1v1h-1zM236 41h1v1h-1zM238 46h1v1h-1zM237 41h1v1h-1zM239 45h1v1h-1zM245 43h1v1h-1zM251 39h1v1h-1zM254 39h1v1h-1zM257 40h1v1h-1zM253 44h1v1h-1zM250 38h1v1h-1zM258 39h1v1h-1zM252 39h1v1h-1zM251 41h1v1h-1zM255 45h1v1h-1zM254 42h1v1h-1zM253 42h1v1h-1zM250 39h1v1h-1zM258 45h1v1h-1zM257 42h1v1h-1zM254 40h1v1h-1zM253 47h1v1h-1zM259 40h1v1h-1zM250 45h1v1h-1zM257 38h1v1h-1zM251 38h1v1h-1zM258 47h1v1h-1zM256 44h1v1h-1zM255 40h1v1h-1zM252 44h1v1h-1zM255 47h1v1h-1zM260 44h1v1h-1zM253 45h1v1h-1zM254 45h1v1h-1zM252 38h1v1h-1zM256 38h1v1h-1zM256 41h1v1h-1zM252 41h1v1h-1zM252 43h1v1h-1zM255 43h1v1h-1zM256 45h1v1h-1zM258 42h1v1h-1zM259 47h1v1h-1zM252 46h1v1h-1zM259 43h1v1h-1zM254 44h1v1h-1zM251 47h1v1h-1zM252 40h1v1h-1zM251 43h1v1h-1zM256 47h1v1h-1zM257 39h1v1h-1zM251 42h1v1h-1zM255 39h1v1h-1zM257 41h1v1h-1zM256 40h1v1h-1zM256 39h1v1h-1zM251 44h1v1h-1zM256 43h1v1h-1zM259 44h1v1h-1zM259 45h1v1h-1zM259 39h1v1h-1zM251 40h1v1h-1zM250 42h1v1h-1zM257 47h1v1h-1zM255 38h1v1h-1zM258 38h1v1h-1zM250 47h1v1h-1zM258 40h1v1h-1zM257 46h1v1h-1zM250 44h1v1h-1zM252 45h1v1h-1zM253 38h1v1h-1zM257 44h1v1h-1zM263 41h1v1h-1zM271 41h1v1h-1zM267 41h1v1h-1zM268 42h1v1h-1zM265 43h1v1h-1zM266 44h1v1h-1zM269 41h1v1h-1zM270 44h1v1h-1zM262 37h1v1h-1zM267 38h1v1h-1zM264 45h1v1h-1zM269 39h1v1h-1zM272 39h1v1h-1zM265 40h1v1h-1zM263 42h1v1h-1zM264 47h1v1h-1zM268 41h1v1h-1zM271 36h1v1h-1zM269 47h1v1h-1zM265 38h1v1h-1zM264 38h1v1h-1zM262 47h1v1h-1zM262 41h1v1h-1zM266 43h1v1h-1zM263 44h1v1h-1zM263 39h1v1h-1zM269 42h1v1h-1zM268 45h1v1h-1zM265 41h1v1h-1zM268 40h1v1h-1zM271 37h1v1h-1zM263 43h1v1h-1zM267 47h1v1h-1zM261 45h1v1h-1zM268 37h1v1h-1zM270 39h1v1h-1zM263 38h1v1h-1zM264 42h1v1h-1zM271 40h1v1h-1zM269 37h1v1h-1zM272 38h1v1h-1zM262 42h1v1h-1zM264 44h1v1h-1zM271 42h1v1h-1zM263 40h1v1h-1zM264 36h1v1h-1zM266 37h1v1h-1zM270 47h1v1h-1zM267 43h1v1h-1zM265 42h1v1h-1zM265 44h1v1h-1zM261 47h1v1h-1zM270 45h1v1h-1zM270 42h1v1h-1zM271 45h1v1h-1zM262 39h1v1h-1zM266 41h1v1h-1zM264 43h1v1h-1zM261 41h1v1h-1zM270 40h1v1h-1zM270 38h1v1h-1zM267 45h1v1h-1zM261 39h1v1h-1zM269 38h1v1h-1zM268 38h1v1h-1zM264 37h1v1h-1zM270 41h1v1h-1zM266 45h1v1h-1zM270 37h1v1h-1zM262 40h1v1h-1zM267 37h1v1h-1zM271 43h1v1h-1zM269 36h1v1h-1zM265 47h1v1h-1zM271 44h1v1h-1zM263 37h1v1h-1zM263 45h1v1h-1zM268 47h1v1h-1zM269 43h1v1h-1zM267 40h1v1h-1zM267 39h1v1h-1zM265 37h1v1h-1zM272 37h1v1h-1zM266 39h1v1h-1zM266 40h1v1h-1zM247 46h1v1h-1zM247 41h1v1h-1zM246 46h1v1h-1zM245 38h1v1h-1zM242 37h1v1h-1zM240 41h1v1h-1zM245 37h1v1h-1zM243 38h1v1h-1zM235 44h1v1h-1zM234 40h1v1h-1zM241 41h1v1h-1zM234 45h1v1h-1zM248 43h1v1h-1zM237 42h1v1h-1zM242 43h1v1h-1zM246 42h1v1h-1zM236 35h1v1h-1zM237 37h1v1h-1zM242 40h1v1h-1zM257 45h1v1h-1zM258 46h1v1h-1zM247 43h1v1h-1zM255 37h1v1h-1zM259 46h1v1h-1zM259 41h1v1h-1zM260 45h1v1h-1zM254 46h1v1h-1zM254 38h1v1h-1zM260 41h1v1h-1zM259 42h1v1h-1zM260 43h1v1h-1zM255 41h1v1h-1zM256 42h1v1h-1zM261 42h1v1h-1zM263 35h1v1h-1zM262 38h1v1h-1zM248 40h1v1h-1zM267 42h1v1h-1zM272 40h1v1h-1zM268 43h1v1h-1zM265 35h1v1h-1zM271 34h1v1h-1zM271 35h1v1h-1zM262 36h1v1h-1zM273 43h1v1h-1zM276 37h1v1h-1zM265 36h1v1h-1zM274 42h1v1h-1zM260 37h1v1h-1zM261 46h1v1h-1zM268 44h1v1h-1zM273 39h1v1h-1zM261 43h1v1h-1zM269 35h1v1h-1zM267 34h1v1h-1zM267 44h1v1h-1zM268 39h1v1h-1zM271 38h1v1h-1zM277 38h1v1h-1zM273 34h1v1h-1zM267 36h1v1h-1zM209 42h1v1h-1zM218 44h1v1h-1zM218 49h1v1h-1zM213 43h1v1h-1zM235 47h1v1h-1zM234 44h1v1h-1zM214 51h1v1h-1zM226 42h1v1h-1zM209 51h1v1h-1zM235 50h1v1h-1zM224 47h1v1h-1zM209 43h1v1h-1zM218 47h1v1h-1zM211 45h1v1h-1zM234 48h1v1h-1zM228 45h1v1h-1zM211 50h1v1h-1zM211 42h1v1h-1zM235 51h1v1h-1zM226 51h1v1h-1zM216 47h1v1h-1zM229 49h1v1h-1zM223 45h1v1h-1zM214 49h1v1h-1zM207 48h1v1h-1zM217 47h1v1h-1zM210 45h1v1h-1zM226 50h1v1h-1zM223 48h1v1h-1zM220 47h1v1h-1zM235 49h1v1h-1zM219 47h1v1h-1zM236 43h1v1h-1zM207 42h1v1h-1zM222 47h1v1h-1zM215 44h1v1h-1zM234 51h1v1h-1zM212 44h1v1h-1zM230 44h1v1h-1zM225 48h1v1h-1zM229 44h1v1h-1zM242 42h1v1h-1zM234 38h1v1h-1zM248 42h1v1h-1zM260 36h1v1h-1zM257 35h1v1h-1zM235 38h1v1h-1zM257 36h1v1h-1zM335 47h1v1h-1zM332 44h1v1h-1zM338 48h1v1h-1zM337 46h1v1h-1zM337 44h1v1h-1zM338 51h1v1h-1zM332 48h1v1h-1zM336 49h1v1h-1zM334 47h1v1h-1zM332 50h1v1h-1zM333 43h1v1h-1zM336 44h1v1h-1zM337 49h1v1h-1zM337 51h1v1h-1zM335 50h1v1h-1zM333 47h1v1h-1zM333 48h1v1h-1zM335 42h1v1h-1zM336 45h1v1h-1zM337 47h1v1h-1zM348 43h1v1h-1zM348 45h1v1h-1zM344 44h1v1h-1zM344 47h1v1h-1zM345 51h1v1h-1zM344 51h1v1h-1zM348 50h1v1h-1zM343 50h1v1h-1zM312 44h1v1h-1zM313 45h1v1h-1zM311 46h1v1h-1zM321 42h1v1h-1zM313 48h1v1h-1zM333 49h1v1h-1zM330 41h1v1h-1zM326 48h1v1h-1zM323 45h1v1h-1zM408 48h1v1h-1zM411 47h1v1h-1zM407 47h1v1h-1zM407 44h1v1h-1zM409 42h1v1h-1zM408 49h1v1h-1zM405 47h1v1h-1zM407 43h1v1h-1zM410 49h1v1h-1zM407 48h1v1h-1zM408 47h1v1h-1zM410 45h1v1h-1zM408 50h1v1h-1zM410 43h1v1h-1zM409 47h1v1h-1zM409 48h1v1h-1zM406 44h1v1h-1zM407 45h1v1h-1zM411 43h1v1h-1zM405 50h1v1h-1zM430 48h1v1h-1zM422 46h1v1h-1zM422 40h1v1h-1zM391 45h1v1h-1zM395 42h1v1h-1zM408 40h1v1h-1zM376 39h1v1h-1zM430 45h1v1h-1zM392 42h1v1h-1zM420 44h1v1h-1zM396 47h1v1h-1zM421 45h1v1h-1zM429 41h1v1h-1zM389 45h1v1h-1zM429 37h1v1h-1zM448 51h1v1h-1zM454 45h1v1h-1zM459 46h1v1h-1zM456 45h1v1h-1zM457 47h1v1h-1zM458 51h1v1h-1zM458 47h1v1h-1zM466 48h1v1h-1zM462 47h1v1h-1zM451 51h1v1h-1zM465 51h1v1h-1zM461 51h1v1h-1zM465 46h1v1h-1zM461 45h1v1h-1zM458 49h1v1h-1zM449 48h1v1h-1zM455 50h1v1h-1zM462 51h1v1h-1zM454 50h1v1h-1zM467 51h1v1h-1zM460 50h1v1h-1zM451 48h1v1h-1zM466 46h1v1h-1zM459 49h1v1h-1zM465 45h1v1h-1zM461 50h1v1h-1zM451 47h1v1h-1zM465 50h1v1h-1zM455 51h1v1h-1zM448 45h1v1h-1zM460 45h1v1h-1zM449 45h1v1h-1zM454 48h1v1h-1zM468 45h1v1h-1zM462 45h1v1h-1zM448 48h1v1h-1zM459 45h1v1h-1zM455 45h1v1h-1zM456 50h1v1h-1zM456 48h1v1h-1zM453 47h1v1h-1zM450 49h1v1h-1zM459 48h1v1h-1zM451 49h1v1h-1zM452 48h1v1h-1zM467 48h1v1h-1zM504 53h1v1h-1zM477 48h1v1h-1zM500 49h1v1h-1zM498 49h1v1h-1zM487 53h1v1h-1zM500 53h1v1h-1zM496 53h1v1h-1zM505 48h1v1h-1zM480 50h1v1h-1zM481 53h1v1h-1zM487 49h1v1h-1zM500 50h1v1h-1zM499 53h1v1h-1zM463 54h1v1h-1zM488 48h1v1h-1zM468 51h1v1h-1zM487 48h1v1h-1zM468 49h1v1h-1zM457 53h1v1h-1zM503 48h1v1h-1zM490 54h1v1h-1z" fill="#111" opacity="0.6" shape-rendering="crispEdges"/>
<path d="M244 106h1v1h-1zM241 103h1v1h-1zM236 105h1v1h-1zM232 101h1v1h-1zM247 100h1v1h-1zM222 109h1v1h-1zM238 102h1v1h-1zM234 109h1v1h-1zM259 106h1v1h-1zM239 109h1v1h-1zM259 104h1v1h-1zM235 107h1v1h-1zM238 104h1v1h-1zM240 109h1v1h-1zM254 109h1v1h-1zM253 103h1v1h-1zM224 102h1v1h-1zM242 109h1v1h-1zM260 101h1v1h-1zM234 106h1v1h-1zM251 101h1v1h-1zM254 104h1v1h-1zM241 109h1v1h-1zM238 105h1v1h-1zM231 103h1v1h-1zM249 102h1v1h-1zM239 102h1v1h-1zM232 104h1v1h-1zM243 108h1v1h-1zM229 107h1v1h-1zM238 108h1v1h-1zM220 105h1v1h-1zM241 108h1v1h-1zM235 103h1v1h-1zM239 105h1v1h-1zM237 104h1v1h-1zM245 104h1v1h-1zM228 105h1v1h-1zM240 105h1v1h-1zM272 105h1v1h-1zM233 107h1v1h-1zM226 106h1v1h-1zM243 102h1v1h-1zM263 106h1v1h-1zM253 108h1v1h-1zM238 103h1v1h-1zM236 104h1v1h-1zM244 107h1v1h-1zM246 100h1v1h-1zM233 103h1v1h-1zM228 107h1v1h-1zM252 105h1v1h-1zM250 108h1v1h-1zM232 106h1v1h-1zM234 101h1v1h-1zM244 103h1v1h-1zM243 106h1v1h-1zM249 105h1v1h-1zM244 100h1v1h-1zM230 105h1v1h-1zM229 104h1v1h-1zM223 104h1v1h-1zM243 103h1v1h-1zM225 104h1v1h-1zM234 104h1v1h-1zM246 104h1v1h-1zM266 108h1v1h-1zM253 104h1v1h-1zM231 108h1v1h-1zM222 105h1v1h-1zM240 107h1v1h-1zM244 101h1v1h-1zM232 109h1v1h-1zM228 108h1v1h-1zM224 107h1v1h-1zM234 105h1v1h-1zM248 99h1v1h-1zM249 103h1v1h-1zM231 107h1v1h-1zM223 107h1v1h-1zM248 104h1v1h-1zM249 104h1v1h-1zM263 98h1v1h-1zM237 108h1v1h-1zM243 109h1v1h-1zM251 98h1v1h-1zM220 109h1v1h-1zM250 101h1v1h-1zM246 105h1v1h-1zM237 106h1v1h-1zM232 108h1v1h-1zM233 100h1v1h-1zM217 103h1v1h-1zM225 102h1v1h-1zM255 108h1v1h-1zM240 108h1v1h-1zM253 109h1v1h-1zM218 104h1v1h-1zM252 100h1v1h-1zM222 108h1v1h-1zM248 106h1v1h-1zM246 102h1v1h-1zM245 106h1v1h-1zM228 103h1v1h-1zM250 100h1v1h-1zM220 101h1v1h-1zM250 109h1v1h-1zM244 105h1v1h-1zM230 103h1v1h-1zM227 105h1v1h-1zM222 107h1v1h-1zM237 105h1v1h-1zM235 100h1v1h-1zM227 102h1v1h-1zM219 107h1v1h-1zM252 109h1v1h-1zM223 108h1v1h-1zM225 98h1v1h-1zM225 108h1v1h-1zM217 105h1v1h-1zM222 101h1v1h-1zM226 104h1v1h-1zM224 103h1v1h-1zM229 101h1v1h-1zM229 105h1v1h-1zM218 103h1v1h-1zM226 103h1v1h-1zM223 99h1v1h-1zM218 97h1v1h-1zM225 106h1v1h-1zM235 105h1v1h-1zM230 106h1v1h-1zM233 105h1v1h-1zM227 98h1v1h-1zM230 101h1v1h-1zM231 100h1v1h-1zM232 99h1v1h-1zM239 106h1v1h-1zM241 101h1v1h-1zM233 108h1v1h-1zM218 102h1v1h-1zM227 104h1v1h-1zM228 100h1v1h-1zM227 109h1v1h-1zM237 99h1v1h-1zM240 101h1v1h-1zM219 103h1v1h-1zM219 108h1v1h-1zM222 99h1v1h-1zM223 98h1v1h-1zM226 100h1v1h-1zM230 98h1v1h-1zM230 104h1v1h-1zM218 105h1v1h-1zM236 96h1v1h-1zM225 103h1v1h-1zM234 99h1v1h-1zM242 104h1v1h-1zM229 93h1v1h-1zM220 99h1v1h-1zM221 104h1v1h-1zM231 106h1v1h-1zM223 109h1v1h-1zM220 107h1v1h-1zM228 102h1v1h-1zM232 98h1v1h-1zM224 108h1v1h-1zM224 106h1v1h-1zM223 101h1v1h-1zM232 107h1v1h-1zM253 107h1v1h-1zM254 108h1v1h-1zM254 95h1v1h-1zM252 104h1v1h-1zM253 106h1v1h-1zM251 107h1v1h-1zM254 97h1v1h-1zM254 102h1v1h-1zM257 108h1v1h-1zM254 103h1v1h-1zM256 103h1v1h-1zM251 99h1v1h-1zM252 106h1v1h-1zM250 107h1v1h-1zM254 101h1v1h-1zM249 101h1v1h-1zM251 108h1v1h-1zM252 101h1v1h-1zM247 104h1v1h-1zM247 106h1v1h-1zM257 104h1v1h-1zM245 107h1v1h-1zM259 105h1v1h-1zM249 99h1v1h-1zM255 105h1v1h-1zM248 101h1v1h-1zM260 89h1v1h-1zM256 104h1v1h-1zM254 106h1v1h-1zM248 107h1v1h-1zM257 97h1v1h-1zM257 102h1v1h-1zM248 97h1v1h-1zM251 104h1v1h-1zM246 98h1v1h-1zM246 109h1v1h-1zM249 98h1v1h-1zM248 105h1v1h-1zM249 107h1v1h-1zM255 107h1v1h-1zM257 95h1v1h-1zM255 103h1v1h-1zM253 102h1v1h-1zM251 102h1v1h-1zM247 97h1v1h-1zM247 105h1v1h-1zM247 102h1v1h-1zM255 98h1v1h-1zM249 100h1v1h-1zM250 105h1v1h-1zM251 94h1v1h-1zM256 100h1v1h-1zM245 100h1v1h-1zM248 108h1v1h-1zM247 98h1v1h-1zM250 99h1v1h-1zM255 91h1v1h-1zM249 108h1v1h-1zM257 100h1v1h-1zM251 105h1v1h-1zM247 107h1v1h-1zM244 102h1v1h-1zM247 101h1v1h-1zM250 104h1v1h-1zM249 109h1v1h-1zM253 100h1v1h-1zM251 100h1v1h-1zM250 103h1v1h-1zM248 94h1v1h-1zM256 102h1v1h-1zM248 100h1v1h-1zM246 97h1v1h-1zM254 93h1v1h-1zM252 108h1v1h-1zM255 106h1v1h-1zM246 101h1v1h-1zM259 101h1v1h-1zM256 101h1v1h-1zM255 93h1v1h-1zM244 108h1v1h-1zM253 94h1v1h-1zM256 95h1v1h-1zM257 99h1v1h-1zM256 109h1v1h-1zM252 103h1v1h-1zM251 106h1v1h-1zM252 97h1v1h-1zM248 95h1v1h-1zM255 97h1v1h-1zM245 102h1v1h-1zM257 98h1v1h-1zM258 96h1v1h-1zM260 105h1v1h-1zM255 101h1v1h-1zM253 101h1v1h-1zM252 92h1v1h-1zM256 107h1v1h-1zM248 103h1v1h-1zM255 100h1v1h-1zM250 106h1v1h-1zM247 99h1v1h-1zM258 98h1v1h-1zM254 100h1v1h-1zM246 106h1v1h-1zM251 103h1v1h-1zM249 94h1v1h-1zM247 96h1v1h-1zM242 101h1v1h-1zM260 103h1v1h-1zM265 107h1v1h-1zM244 104h1v1h-1zM257 109h1v1h-1zM256 93h1v1h-1zM256 97h1v1h-1zM259 109h1v1h-1zM248 91h1v1h-1zM242 107h1v1h-1zM259 95h1v1h-1zM252 99h1v1h-1zM265 104h1v1h-1zM268 100h1v1h-1zM267 103h1v1h-1zM267 97h1v1h-1zM263 102h1v1h-1zM268 107h1v1h-1zM267 106h1v1h-1zM266 93h1v1h-1zM266 102h1v1h-1zM271 109h1v1h-1zM270 108h1v1h-1zM258 105h1v1h-1zM270 96h1v1h-1zM270 100h1v1h-1zM269 105h1v1h-1zM271 106h1v1h-1zM268 108h1v1h-1zM261 108h1v1h-1zM264 105h1v1h-1zM274 109h1v1h-1zM265 108h1v1h-1zM270 106h1v1h-1zM265 101h1v1h-1zM264 107h1v1h-1zM270 104h1v1h-1zM273 96h1v1h-1zM269 106h1v1h-1zM264 108h1v1h-1zM271 103h1v1h-1zM266 97h1v1h-1zM266 99h1v1h-1zM260 98h1v1h-1zM266 109h1v1h-1zM272 106h1v1h-1zM267 108h1v1h-1zM270 99h1v1h-1zM266 103h1v1h-1zM261 106h1v1h-1zM270 98h1v1h-1zM269 101h1v1h-1zM270 103h1v1h-1zM261 96h1v1h-1zM270 105h1v1h-1zM265 94h1v1h-1zM268 101h1v1h-1zM266 104h1v1h-1zM267 100h1v1h-1zM261 97h1v1h-1zM267 101h1v1h-1zM268 109h1v1h-1zM271 98h1v1h-1zM263 104h1v1h-1zM271 108h1v1h-1zM266 98h1v1h-1zM267 96h1v1h-1zM273 102h1v1h-1zM265 106h1v1h-1zM268 103h1v1h-1zM262 107h1v1h-1zM262 98h1v1h-1zM267 109h1v1h-1zM263 99h1v1h-1zM270 109h1v1h-1zM264 102h1v1h-1zM261 105h1v1h-1zM272 109h1v1h-1zM266 107h1v1h-1zM271 102h1v1h-1zM269 108h1v1h-1zM271 101h1v1h-1zM273 106h1v1h-1zM264 99h1v1h-1zM273 101h1v1h-1zM267 104h1v1h-1zM264 103h1v1h-1zM268 106h1v1h-1zM268 98h1v1h-1zM266 101h1v1h-1zM267 105h1v1h-1zM272 102h1v1h-1zM264 101h1v1h-1zM266 106h1v1h-1zM263 92h1v1h-1zM270 101h1v1h-1zM265 103h1v1h-1zM269 100h1v1h-1zM267 102h1v1h-1zM267 99h1v1h-1zM272 108h1v1h-1zM268 104h1v1h-1zM269 103h1v1h-1zM275 105h1v1h-1zM265 105h1v1h-1zM274 104h1v1h-1zM274 102h1v1h-1zM266 105h1v1h-1zM268 94h1v1h-1zM264 100h1v1h-1zM275 97h1v1h-1zM273 104h1v1h-1zM274 97h1v1h-1zM268 105h1v1h-1zM264 109h1v1h-1zM273 103h1v1h-1zM271 100h1v1h-1zM274 96h1v1h-1zM272 100h1v1h-1zM270 102h1v1h-1zM272 103h1v1h-1zM269 109h1v1h-1zM269 107h1v1h-1zM259 100h1v1h-1zM273 105h1v1h-1zM268 95h1v1h-1zM270 107h1v1h-1zM259 108h1v1h-1zM271 107h1v1h-1zM267 92h1v1h-1zM269 104h1v1h-1zM271 104h1v1h-1zM224 99h1v1h-1zM229 95h1v1h-1zM225 109h1v1h-1zM228 99h1v1h-1zM262 101h1v1h-1zM255 109h1v1h-1zM254 99h1v1h-1zM231 98h1v1h-1zM258 108h1v1h-1zM257 101h1v1h-1zM309 107h1v1h-1zM318 101h1v1h-1zM343 108h1v1h-1zM342 101h1v1h-1zM303 106h1v1h-1zM328 100h1v1h-1zM315 105h1v1h-1zM311 99h1v1h-1zM290 105h1v1h-1zM329 104h1v1h-1zM310 104h1v1h-1zM307 109h1v1h-1zM346 100h1v1h-1zM305 106h1v1h-1zM336 106h1v1h-1zM311 106h1v1h-1zM303 107h1v1h-1zM294 106h1v1h-1zM309 108h1v1h-1zM292 101h1v1h-1zM318 104h1v1h-1zM323 105h1v1h-1zM330 105h1v1h-1zM320 104h1v1h-1zM328 107h1v1h-1zM313 107h1v1h-1zM324 107h1v1h-1zM296 106h1v1h-1zM331 107h1v1h-1zM335 106h1v1h-1zM320 100h1v1h-1zM332 94h1v1h-1zM304 105h1v1h-1zM327 107h1v1h-1zM303 104h1v1h-1zM312 107h1v1h-1zM308 105h1v1h-1zM314 106h1v1h-1zM305 108h1v1h-1zM296 105h1v1h-1zM312 108h1v1h-1zM314 104h1v1h-1zM322 107h1v1h-1zM326 103h1v1h-1zM324 105h1v1h-1zM324 102h1v1h-1zM299 105h1v1h-1zM331 109h1v1h-1zM310 98h1v1h-1zM310 106h1v1h-1zM320 107h1v1h-1zM326 106h1v1h-1zM305 98h1v1h-1zM325 109h1v1h-1zM307 106h1v1h-1zM315 101h1v1h-1zM291 109h1v1h-1zM316 105h1v1h-1zM330 109h1v1h-1zM324 101h1v1h-1zM302 103h1v1h-1zM311 107h1v1h-1zM292 105h1v1h-1zM315 107h1v1h-1zM330 98h1v1h-1zM316 108h1v1h-1zM318 103h1v1h-1zM345 108h1v1h-1zM317 101h1v1h-1zM300 102h1v1h-1zM315 108h1v1h-1zM316 104h1v1h-1zM314 105h1v1h-1zM324 104h1v1h-1zM309 105h1v1h-1zM302 108h1v1h-1zM322 103h1v1h-1zM339 107h1v1h-1zM315 109h1v1h-1zM313 100h1v1h-1zM328 109h1v1h-1zM315 106h1v1h-1zM290 107h1v1h-1zM313 105h1v1h-1zM323 106h1v1h-1zM315 104h1v1h-1zM321 106h1v1h-1zM322 104h1v1h-1zM301 107h1v1h-1zM299 104h1v1h-1zM322 105h1v1h-1zM332 104h1v1h-1zM310 109h1v1h-1zM304 103h1v1h-1zM327 99h1v1h-1zM327 102h1v1h-1zM296 103h1v1h-1zM317 100h1v1h-1zM306 107h1v1h-1zM317 108h1v1h-1zM332 103h1v1h-1zM321 102h1v1h-1zM331 103h1v1h-1zM298 104h1v1h-1zM309 101h1v1h-1zM306 102h1v1h-1zM313 104h1v1h-1zM318 100h1v1h-1zM340 108h1v1h-1zM309 103h1v1h-1zM331 105h1v1h-1zM334 100h1v1h-1zM326 109h1v1h-1zM298 102h1v1h-1zM289 107h1v1h-1zM318 105h1v1h-1zM301 104h1v1h-1zM314 101h1v1h-1zM316 103h1v1h-1zM291 105h1v1h-1zM316 109h1v1h-1zM333 108h1v1h-1zM327 104h1v1h-1zM306 108h1v1h-1zM321 107h1v1h-1zM294 105h1v1h-1zM312 105h1v1h-1zM308 106h1v1h-1zM319 106h1v1h-1zM308 101h1v1h-1zM319 105h1v1h-1zM319 104h1v1h-1zM310 105h1v1h-1zM316 97h1v1h-1zM323 104h1v1h-1zM328 108h1v1h-1zM334 107h1v1h-1zM310 102h1v1h-1zM321 105h1v1h-1zM319 109h1v1h-1zM332 101h1v1h-1zM314 109h1v1h-1zM320 103h1v1h-1zM312 106h1v1h-1zM300 100h1v1h-1zM319 108h1v1h-1zM304 104h1v1h-1zM305 104h1v1h-1zM327 108h1v1h-1zM338 109h1v1h-1zM338 106h1v1h-1zM293 102h1v1h-1zM300 101h1v1h-1zM298 101h1v1h-1zM319 95h1v1h-1zM311 102h1v1h-1zM316 106h1v1h-1zM320 102h1v1h-1zM319 100h1v1h-1zM315 98h1v1h-1zM309 98h1v1h-1zM317 104h1v1h-1zM307 101h1v1h-1zM314 107h1v1h-1zM318 99h1v1h-1zM310 103h1v1h-1zM318 108h1v1h-1zM315 99h1v1h-1zM308 94h1v1h-1zM313 106h1v1h-1zM313 108h1v1h-1zM312 101h1v1h-1zM315 94h1v1h-1zM313 99h1v1h-1zM329 109h1v1h-1zM317 94h1v1h-1zM316 107h1v1h-1zM318 102h1v1h-1zM320 109h1v1h-1zM318 106h1v1h-1zM317 98h1v1h-1zM313 98h1v1h-1zM314 103h1v1h-1zM311 97h1v1h-1zM314 97h1v1h-1zM322 100h1v1h-1zM313 103h1v1h-1zM309 102h1v1h-1zM317 103h1v1h-1zM310 100h1v1h-1zM313 101h1v1h-1zM312 103h1v1h-1zM312 99h1v1h-1zM312 102h1v1h-1zM321 103h1v1h-1zM314 108h1v1h-1zM311 100h1v1h-1zM313 97h1v1h-1zM309 96h1v1h-1zM320 96h1v1h-1zM312 98h1v1h-1zM311 103h1v1h-1zM317 106h1v1h-1zM306 105h1v1h-1zM309 109h1v1h-1zM314 99h1v1h-1zM314 102h1v1h-1zM314 96h1v1h-1zM316 96h1v1h-1zM320 98h1v1h-1zM315 103h1v1h-1zM316 102h1v1h-1zM319 102h1v1h-1zM310 108h1v1h-1zM315 90h1v1h-1zM319 103h1v1h-1zM316 100h1v1h-1zM307 100h1v1h-1zM307 96h1v1h-1zM312 104h1v1h-1zM316 99h1v1h-1zM312 109h1v1h-1zM322 106h1v1h-1zM313 93h1v1h-1zM321 98h1v1h-1zM318 107h1v1h-1zM307 98h1v1h-1zM319 99h1v1h-1zM316 101h1v1h-1zM319 97h1v1h-1zM309 100h1v1h-1zM308 103h1v1h-1zM315 96h1v1h-1zM321 109h1v1h-1zM308 107h1v1h-1zM318 98h1v1h-1zM324 99h1v1h-1zM318 97h1v1h-1zM318 94h1v1h-1zM308 102h1v1h-1zM314 93h1v1h-1zM315 93h1v1h-1zM307 105h1v1h-1zM313 102h1v1h-1zM314 98h1v1h-1zM317 99h1v1h-1zM318 95h1v1h-1zM306 109h1v1h-1zM331 100h1v1h-1zM334 99h1v1h-1zM331 91h1v1h-1zM335 90h1v1h-1zM327 109h1v1h-1zM340 109h1v1h-1zM331 99h1v1h-1zM322 91h1v1h-1zM328 91h1v1h-1zM334 105h1v1h-1zM330 100h1v1h-1zM331 95h1v1h-1zM331 102h1v1h-1zM333 102h1v1h-1zM333 105h1v1h-1zM326 93h1v1h-1zM336 94h1v1h-1zM332 100h1v1h-1zM341 100h1v1h-1zM326 107h1v1h-1zM333 90h1v1h-1zM331 96h1v1h-1zM333 92h1v1h-1zM325 100h1v1h-1zM329 100h1v1h-1zM333 97h1v1h-1zM330 87h1v1h-1zM330 86h1v1h-1zM330 96h1v1h-1zM327 98h1v1h-1zM327 89h1v1h-1zM331 89h1v1h-1zM332 106h1v1h-1zM328 102h1v1h-1zM331 98h1v1h-1zM329 97h1v1h-1zM328 105h1v1h-1zM332 102h1v1h-1zM327 85h1v1h-1zM329 107h1v1h-1zM329 103h1v1h-1zM329 101h1v1h-1zM327 100h1v1h-1zM335 92h1v1h-1zM329 108h1v1h-1zM325 95h1v1h-1zM336 91h1v1h-1zM332 99h1v1h-1zM328 97h1v1h-1zM335 94h1v1h-1zM333 100h1v1h-1zM329 89h1v1h-1zM331 92h1v1h-1zM329 106h1v1h-1zM331 97h1v1h-1zM320 105h1v1h-1zM331 101h1v1h-1zM326 100h1v1h-1zM332 89h1v1h-1zM332 107h1v1h-1zM333 93h1v1h-1zM334 92h1v1h-1zM332 95h1v1h-1zM334 96h1v1h-1zM329 105h1v1h-1zM334 108h1v1h-1zM333 95h1v1h-1zM333 98h1v1h-1zM322 109h1v1h-1zM328 101h1v1h-1zM328 94h1v1h-1zM330 94h1v1h-1zM325 94h1v1h-1zM332 91h1v1h-1zM329 87h1v1h-1zM334 103h1v1h-1zM328 95h1v1h-1zM330 104h1v1h-1zM327 97h1v1h-1zM329 93h1v1h-1zM331 94h1v1h-1zM339 96h1v1h-1zM325 101h1v1h-1zM336 102h1v1h-1zM330 93h1v1h-1zM335 91h1v1h-1zM330 108h1v1h-1zM335 108h1v1h-1zM327 96h1v1h-1zM327 87h1v1h-1zM333 104h1v1h-1zM332 88h1v1h-1zM326 94h1v1h-1zM327 95h1v1h-1zM333 99h1v1h-1zM330 106h1v1h-1zM329 95h1v1h-1zM330 90h1v1h-1zM331 93h1v1h-1zM327 103h1v1h-1zM336 96h1v1h-1zM328 96h1v1h-1zM326 108h1v1h-1zM325 91h1v1h-1zM332 96h1v1h-1zM330 107h1v1h-1zM328 98h1v1h-1zM333 96h1v1h-1zM326 96h1v1h-1zM320 101h1v1h-1zM332 92h1v1h-1zM338 90h1v1h-1zM329 94h1v1h-1zM332 105h1v1h-1zM328 106h1v1h-1zM330 101h1v1h-1zM326 99h1v1h-1zM330 89h1v1h-1zM329 102h1v1h-1zM328 89h1v1h-1zM325 102h1v1h-1zM332 108h1v1h-1zM321 93h1v1h-1zM332 109h1v1h-1zM334 93h1v1h-1zM338 96h1v1h-1zM336 101h1v1h-1zM329 86h1v1h-1zM333 87h1v1h-1zM333 109h1v1h-1zM323 102h1v1h-1zM334 95h1v1h-1zM337 107h1v1h-1zM324 95h1v1h-1zM334 104h1v1h-1zM333 91h1v1h-1zM324 97h1v1h-1zM333 101h1v1h-1zM330 88h1v1h-1zM327 93h1v1h-1zM329 99h1v1h-1zM326 95h1v1h-1zM334 86h1v1h-1zM326 98h1v1h-1zM331 104h1v1h-1zM330 99h1v1h-1zM326 105h1v1h-1zM334 91h1v1h-1zM328 86h1v1h-1zM331 106h1v1h-1zM336 97h1v1h-1zM331 87h1v1h-1zM331 90h1v1h-1zM330 103h1v1h-1zM332 97h1v1h-1zM334 102h1v1h-1zM328 99h1v1h-1zM324 91h1v1h-1zM326 102h1v1h-1zM335 99h1v1h-1zM330 102h1v1h-1zM332 93h1v1h-1zM327 94h1v1h-1zM328 90h1v1h-1zM323 95h1v1h-1zM323 92h1v1h-1zM334 98h1v1h-1zM333 103h1v1h-1zM325 105h1v1h-1zM337 93h1v1h-1zM334 89h1v1h-1zM337 90h1v1h-1zM335 95h1v1h-1zM329 91h1v1h-1zM329 90h1v1h-1zM325 98h1v1h-1zM326 92h1v1h-1zM339 105h1v1h-1zM323 96h1v1h-1zM326 90h1v1h-1zM330 92h1v1h-1zM339 99h1v1h-1zM327 101h1v1h-1zM324 109h1v1h-1zM327 90h1v1h-1zM335 104h1v1h-1zM329 96h1v1h-1zM325 108h1v1h-1zM329 92h1v1h-1zM337 102h1v1h-1zM326 104h1v1h-1zM329 98h1v1h-1zM324 108h1v1h-1zM336 100h1v1h-1zM337 95h1v1h-1zM328 88h1v1h-1zM328 104h1v1h-1zM320 108h1v1h-1zM325 103h1v1h-1zM335 101h1v1h-1zM327 86h1v1h-1zM336 95h1v1h-1zM335 97h1v1h-1zM328 103h1v1h-1zM323 109h1v1h-1zM330 91h1v1h-1zM331 108h1v1h-1zM336 104h1v1h-1zM334 109h1v1h-1zM333 107h1v1h-1zM326 87h1v1h-1zM329 88h1v1h-1zM329 85h1v1h-1zM343 106h1v1h-1zM341 92h1v1h-1zM348 104h1v1h-1zM340 106h1v1h-1zM345 97h1v1h-1zM348 97h1v1h-1zM346 105h1v1h-1zM338 94h1v1h-1zM343 101h1v1h-1zM344 99h1v1h-1zM342 108h1v1h-1zM349 105h1v1h-1zM344 95h1v1h-1zM345 95h1v1h-1zM351 109h1v1h-1zM338 99h1v1h-1zM350 91h1v1h-1zM338 92h1v1h-1zM351 100h1v1h-1zM347 106h1v1h-1zM346 108h1v1h-1zM352 93h1v1h-1zM346 96h1v1h-1zM342 97h1v1h-1zM344 105h1v1h-1zM342 102h1v1h-1zM343 99h1v1h-1zM344 100h1v1h-1zM349 104h1v1h-1zM343 103h1v1h-1zM345 96h1v1h-1zM349 102h1v1h-1zM347 97h1v1h-1zM346 91h1v1h-1zM342 99h1v1h-1zM345 102h1v1h-1zM349 98h1v1h-1zM344 107h1v1h-1zM350 107h1v1h-1zM345 99h1v1h-1zM342 104h1v1h-1zM345 101h1v1h-1zM345 109h1v1h-1zM346 98h1v1h-1zM348 92h1v1h-1zM341 99h1v1h-1zM343 93h1v1h-1zM342 106h1v1h-1zM343 97h1v1h-1zM348 87h1v1h-1zM344 108h1v1h-1zM345 103h1v1h-1zM344 98h1v1h-1zM346 102h1v1h-1zM340 97h1v1h-1zM345 106h1v1h-1zM345 107h1v1h-1zM346 109h1v1h-1zM340 90h1v1h-1zM351 101h1v1h-1zM349 100h1v1h-1zM342 95h1v1h-1zM345 98h1v1h-1zM350 99h1v1h-1zM346 95h1v1h-1zM348 101h1v1h-1zM344 106h1v1h-1zM342 107h1v1h-1zM346 97h1v1h-1zM343 94h1v1h-1zM344 103h1v1h-1zM345 104h1v1h-1zM347 99h1v1h-1zM343 102h1v1h-1zM345 92h1v1h-1zM345 87h1v1h-1zM344 97h1v1h-1zM347 98h1v1h-1zM345 94h1v1h-1zM343 100h1v1h-1zM341 103h1v1h-1zM350 106h1v1h-1zM343 104h1v1h-1zM348 107h1v1h-1zM351 94h1v1h-1zM345 105h1v1h-1zM340 104h1v1h-1zM344 96h1v1h-1zM347 102h1v1h-1zM348 96h1v1h-1zM349 97h1v1h-1zM346 104h1v1h-1zM346 92h1v1h-1zM348 103h1v1h-1zM351 104h1v1h-1zM347 94h1v1h-1zM348 109h1v1h-1zM351 93h1v1h-1zM349 95h1v1h-1zM346 103h1v1h-1zM347 107h1v1h-1zM346 106h1v1h-1zM344 101h1v1h-1zM348 108h1v1h-1zM339 94h1v1h-1zM352 106h1v1h-1zM352 100h1v1h-1zM342 98h1v1h-1zM352 99h1v1h-1zM345 100h1v1h-1zM351 87h1v1h-1zM349 92h1v1h-1zM346 101h1v1h-1zM347 101h1v1h-1zM340 102h1v1h-1zM349 93h1v1h-1zM343 107h1v1h-1zM348 106h1v1h-1zM337 103h1v1h-1zM340 100h1v1h-1zM343 92h1v1h-1zM349 96h1v1h-1zM343 105h1v1h-1zM343 98h1v1h-1zM351 97h1v1h-1zM347 105h1v1h-1zM347 109h1v1h-1zM340 99h1v1h-1zM350 105h1v1h-1zM343 95h1v1h-1zM344 94h1v1h-1zM348 98h1v1h-1zM344 104h1v1h-1zM347 103h1v1h-1zM348 105h1v1h-1zM344 102h1v1h-1zM350 101h1v1h-1zM347 108h1v1h-1zM349 107h1v1h-1zM340 103h1v1h-1zM346 85h1v1h-1zM346 107h1v1h-1zM353 97h1v1h-1zM345 90h1v1h-1zM342 92h1v1h-1zM347 91h1v1h-1zM347 96h1v1h-1zM348 94h1v1h-1zM348 91h1v1h-1zM346 94h1v1h-1zM342 100h1v1h-1zM341 95h1v1h-1zM348 99h1v1h-1zM351 106h1v1h-1zM341 104h1v1h-1zM349 108h1v1h-1zM342 103h1v1h-1zM348 95h1v1h-1zM342 109h1v1h-1zM350 104h1v1h-1zM340 101h1v1h-1zM339 88h1v1h-1zM351 95h1v1h-1zM352 104h1v1h-1zM347 100h1v1h-1zM338 93h1v1h-1zM305 105h1v1h-1zM306 104h1v1h-1zM302 100h1v1h-1zM299 107h1v1h-1zM301 99h1v1h-1zM300 104h1v1h-1zM304 109h1v1h-1zM304 102h1v1h-1zM303 105h1v1h-1zM301 102h1v1h-1zM302 106h1v1h-1zM305 107h1v1h-1zM298 107h1v1h-1zM305 103h1v1h-1zM303 100h1v1h-1zM297 101h1v1h-1zM303 102h1v1h-1zM307 103h1v1h-1zM302 101h1v1h-1zM300 103h1v1h-1zM304 107h1v1h-1zM299 106h1v1h-1zM307 102h1v1h-1zM295 101h1v1h-1zM302 102h1v1h-1zM301 105h1v1h-1zM299 102h1v1h-1zM301 108h1v1h-1zM304 106h1v1h-1zM302 104h1v1h-1zM299 109h1v1h-1zM300 106h1v1h-1zM304 100h1v1h-1zM303 108h1v1h-1zM297 99h1v1h-1zM299 103h1v1h-1zM298 96h1v1h-1zM302 105h1v1h-1zM296 100h1v1h-1zM384 107h1v1h-1zM395 106h1v1h-1zM395 103h1v1h-1zM408 109h1v1h-1zM407 105h1v1h-1zM415 102h1v1h-1zM381 104h1v1h-1zM429 107h1v1h-1zM416 109h1v1h-1zM392 108h1v1h-1zM423 105h1v1h-1zM390 104h1v1h-1zM411 108h1v1h-1zM409 106h1v1h-1zM392 105h1v1h-1zM427 107h1v1h-1zM396 106h1v1h-1zM389 105h1v1h-1zM397 106h1v1h-1zM419 103h1v1h-1zM398 100h1v1h-1zM405 104h1v1h-1zM373 103h1v1h-1zM421 107h1v1h-1zM417 103h1v1h-1zM397 103h1v1h-1zM371 98h1v1h-1zM410 105h1v1h-1zM431 98h1v1h-1zM372 106h1v1h-1zM370 107h1v1h-1zM387 103h1v1h-1zM405 108h1v1h-1zM381 108h1v1h-1zM390 107h1v1h-1zM406 104h1v1h-1zM398 105h1v1h-1zM387 108h1v1h-1zM381 107h1v1h-1zM394 104h1v1h-1zM403 107h1v1h-1zM393 102h1v1h-1zM378 107h1v1h-1zM412 108h1v1h-1zM398 109h1v1h-1zM397 108h1v1h-1zM403 105h1v1h-1zM391 108h1v1h-1zM412 106h1v1h-1zM407 106h1v1h-1zM387 105h1v1h-1zM396 103h1v1h-1zM383 104h1v1h-1zM394 106h1v1h-1zM398 99h1v1h-1zM385 106h1v1h-1zM408 103h1v1h-1zM388 107h1v1h-1zM386 102h1v1h-1zM384 108h1v1h-1zM400 107h1v1h-1zM396 108h1v1h-1zM389 104h1v1h-1zM402 109h1v1h-1zM406 107h1v1h-1zM375 108h1v1h-1zM398 104h1v1h-1zM391 101h1v1h-1zM383 109h1v1h-1zM400 102h1v1h-1zM400 104h1v1h-1zM399 105h1v1h-1zM377 100h1v1h-1zM391 107h1v1h-1zM399 102h1v1h-1zM392 106h1v1h-1zM411 104h1v1h-1zM397 109h1v1h-1zM379 108h1v1h-1zM376 99h1v1h-1zM367 108h1v1h-1zM372 107h1v1h-1zM420 107h1v1h-1zM385 105h1v1h-1zM374 104h1v1h-1zM422 106h1v1h-1zM393 101h1v1h-1zM382 105h1v1h-1zM412 105h1v1h-1zM382 107h1v1h-1zM409 104h1v1h-1zM377 106h1v1h-1zM414 106h1v1h-1zM407 107h1v1h-1zM387 104h1v1h-1zM402 104h1v1h-1zM385 104h1v1h-1zM377 104h1v1h-1zM416 107h1v1h-1zM393 105h1v1h-1zM413 107h1v1h-1zM395 109h1v1h-1zM408 108h1v1h-1zM390 99h1v1h-1zM397 107h1v1h-1zM372 103h1v1h-1zM418 101h1v1h-1zM378 101h1v1h-1zM384 106h1v1h-1zM405 103h1v1h-1zM404 105h1v1h-1zM409 109h1v1h-1zM401 108h1v1h-1zM378 106h1v1h-1zM404 104h1v1h-1zM374 106h1v1h-1zM396 104h1v1h-1zM375 106h1v1h-1zM379 105h1v1h-1zM410 102h1v1h-1zM409 105h1v1h-1zM384 105h1v1h-1zM406 103h1v1h-1zM426 108h1v1h-1zM388 106h1v1h-1zM378 105h1v1h-1zM387 97h1v1h-1zM416 106h1v1h-1zM416 103h1v1h-1zM400 99h1v1h-1zM396 105h1v1h-1zM400 105h1v1h-1zM380 102h1v1h-1zM413 105h1v1h-1zM382 101h1v1h-1zM389 107h1v1h-1zM397 104h1v1h-1zM379 109h1v1h-1zM394 103h1v1h-1zM376 108h1v1h-1zM415 106h1v1h-1zM399 101h1v1h-1zM391 100h1v1h-1zM390 91h1v1h-1zM390 94h1v1h-1zM386 98h1v1h-1zM395 102h1v1h-1zM392 94h1v1h-1zM388 95h1v1h-1zM390 102h1v1h-1zM387 102h1v1h-1zM385 108h1v1h-1zM386 100h1v1h-1zM389 97h1v1h-1zM391 92h1v1h-1zM387 101h1v1h-1zM390 90h1v1h-1zM396 109h1v1h-1zM393 108h1v1h-1zM388 96h1v1h-1zM386 94h1v1h-1zM388 108h1v1h-1zM392 99h1v1h-1zM390 100h1v1h-1zM387 107h1v1h-1zM394 105h1v1h-1zM393 104h1v1h-1zM383 98h1v1h-1zM390 101h1v1h-1zM389 98h1v1h-1zM387 106h1v1h-1zM383 99h1v1h-1zM395 100h1v1h-1zM386 106h1v1h-1zM389 101h1v1h-1zM384 98h1v1h-1zM389 102h1v1h-1zM395 93h1v1h-1zM388 102h1v1h-1zM384 99h1v1h-1zM389 99h1v1h-1zM383 106h1v1h-1zM385 109h1v1h-1zM393 97h1v1h-1zM391 97h1v1h-1zM392 96h1v1h-1zM394 99h1v1h-1zM393 107h1v1h-1zM394 97h1v1h-1zM394 87h1v1h-1zM387 109h1v1h-1zM388 100h1v1h-1zM386 97h1v1h-1zM390 98h1v1h-1zM385 100h1v1h-1zM392 102h1v1h-1zM390 106h1v1h-1zM393 98h1v1h-1zM394 109h1v1h-1zM395 99h1v1h-1zM392 93h1v1h-1zM392 98h1v1h-1zM392 107h1v1h-1zM385 102h1v1h-1zM389 100h1v1h-1zM397 102h1v1h-1zM392 109h1v1h-1zM386 107h1v1h-1zM389 91h1v1h-1zM391 105h1v1h-1zM387 98h1v1h-1zM396 96h1v1h-1zM393 99h1v1h-1zM388 101h1v1h-1zM391 93h1v1h-1zM386 90h1v1h-1zM389 95h1v1h-1zM395 104h1v1h-1zM388 98h1v1h-1zM391 102h1v1h-1zM397 95h1v1h-1zM384 103h1v1h-1zM392 104h1v1h-1zM396 101h1v1h-1zM382 99h1v1h-1zM390 105h1v1h-1zM384 104h1v1h-1zM393 103h1v1h-1zM385 94h1v1h-1zM386 103h1v1h-1zM387 99h1v1h-1zM392 103h1v1h-1zM391 99h1v1h-1zM384 102h1v1h-1zM390 95h1v1h-1zM393 96h1v1h-1zM387 94h1v1h-1zM385 91h1v1h-1zM389 96h1v1h-1zM389 93h1v1h-1zM391 98h1v1h-1zM386 91h1v1h-1zM390 97h1v1h-1zM387 95h1v1h-1zM395 96h1v1h-1zM387 96h1v1h-1zM393 95h1v1h-1zM382 102h1v1h-1zM392 101h1v1h-1zM388 103h1v1h-1zM386 101h1v1h-1zM396 98h1v1h-1zM392 95h1v1h-1zM384 101h1v1h-1zM388 109h1v1h-1zM388 104h1v1h-1zM387 100h1v1h-1zM391 109h1v1h-1zM391 103h1v1h-1zM394 94h1v1h-1zM394 96h1v1h-1zM391 104h1v1h-1zM384 100h1v1h-1zM388 99h1v1h-1zM392 100h1v1h-1zM388 90h1v1h-1zM389 103h1v1h-1zM388 93h1v1h-1zM390 103h1v1h-1zM388 105h1v1h-1zM388 91h1v1h-1zM393 93h1v1h-1zM390 108h1v1h-1zM393 90h1v1h-1zM393 106h1v1h-1zM391 94h1v1h-1zM390 93h1v1h-1zM386 96h1v1h-1zM388 92h1v1h-1zM395 101h1v1h-1zM391 89h1v1h-1zM386 92h1v1h-1zM385 101h1v1h-1zM388 89h1v1h-1zM400 89h1v1h-1zM407 94h1v1h-1zM402 87h1v1h-1zM401 106h1v1h-1zM406 106h1v1h-1zM410 100h1v1h-1zM401 105h1v1h-1zM402 94h1v1h-1zM401 109h1v1h-1zM402 100h1v1h-1zM403 92h1v1h-1zM404 97h1v1h-1zM402 101h1v1h-1zM404 103h1v1h-1zM405 102h1v1h-1zM395 94h1v1h-1zM398 102h1v1h-1zM402 99h1v1h-1zM402 96h1v1h-1zM403 104h1v1h-1zM406 102h1v1h-1zM404 90h1v1h-1zM400 92h1v1h-1zM403 108h1v1h-1zM404 95h1v1h-1zM402 108h1v1h-1zM403 96h1v1h-1zM401 99h1v1h-1zM405 97h1v1h-1zM406 89h1v1h-1zM405 91h1v1h-1zM404 100h1v1h-1zM404 101h1v1h-1zM400 97h1v1h-1zM401 103h1v1h-1zM407 100h1v1h-1zM396 100h1v1h-1zM405 94h1v1h-1zM401 102h1v1h-1zM398 97h1v1h-1zM411 102h1v1h-1zM402 97h1v1h-1zM402 92h1v1h-1zM404 99h1v1h-1zM398 98h1v1h-1zM403 97h1v1h-1zM401 97h1v1h-1zM407 96h1v1h-1zM404 107h1v1h-1zM400 88h1v1h-1zM403 98h1v1h-1zM406 105h1v1h-1zM403 99h1v1h-1zM400 108h1v1h-1zM403 86h1v1h-1zM399 107h1v1h-1zM401 101h1v1h-1zM397 99h1v1h-1zM400 101h1v1h-1zM400 100h1v1h-1zM406 99h1v1h-1zM405 107h1v1h-1zM399 104h1v1h-1zM399 97h1v1h-1zM397 101h1v1h-1zM400 93h1v1h-1zM402 106h1v1h-1zM404 91h1v1h-1zM405 101h1v1h-1zM406 108h1v1h-1zM401 96h1v1h-1zM403 106h1v1h-1zM403 94h1v1h-1zM402 89h1v1h-1zM402 98h1v1h-1zM405 109h1v1h-1zM407 86h1v1h-1zM400 106h1v1h-1zM404 98h1v1h-1zM395 91h1v1h-1zM404 92h1v1h-1zM409 91h1v1h-1zM401 100h1v1h-1zM398 91h1v1h-1zM406 93h1v1h-1zM397 100h1v1h-1zM403 87h1v1h-1zM400 98h1v1h-1zM406 97h1v1h-1zM402 107h1v1h-1zM406 98h1v1h-1zM400 96h1v1h-1zM403 102h1v1h-1zM399 106h1v1h-1zM405 106h1v1h-1zM402 103h1v1h-1zM406 100h1v1h-1zM406 94h1v1h-1zM403 101h1v1h-1zM405 96h1v1h-1zM398 94h1v1h-1zM406 90h1v1h-1zM404 96h1v1h-1zM398 101h1v1h-1zM405 95h1v1h-1zM407 102h1v1h-1zM397 85h1v1h-1zM394 90h1v1h-1zM399 95h1v1h-1zM399 91h1v1h-1zM408 98h1v1h-1zM408 90h1v1h-1zM396 95h1v1h-1zM407 97h1v1h-1zM399 109h1v1h-1zM395 107h1v1h-1zM405 87h1v1h-1zM398 89h1v1h-1zM397 86h1v1h-1zM401 98h1v1h-1zM403 90h1v1h-1zM399 99h1v1h-1zM405 99h1v1h-1zM399 100h1v1h-1zM405 100h1v1h-1zM396 99h1v1h-1zM395 95h1v1h-1zM405 88h1v1h-1zM403 100h1v1h-1zM407 101h1v1h-1zM402 95h1v1h-1zM397 94h1v1h-1zM408 107h1v1h-1zM398 106h1v1h-1zM402 86h1v1h-1zM398 107h1v1h-1zM399 90h1v1h-1zM401 104h1v1h-1zM407 99h1v1h-1zM402 105h1v1h-1zM402 93h1v1h-1zM403 91h1v1h-1zM406 95h1v1h-1zM399 94h1v1h-1zM412 104h1v1h-1zM411 105h1v1h-1zM409 94h1v1h-1zM409 103h1v1h-1zM413 101h1v1h-1zM410 107h1v1h-1zM413 99h1v1h-1zM409 102h1v1h-1zM414 101h1v1h-1zM409 100h1v1h-1zM410 95h1v1h-1zM408 100h1v1h-1zM408 106h1v1h-1zM407 91h1v1h-1zM411 91h1v1h-1zM415 100h1v1h-1zM407 98h1v1h-1zM409 86h1v1h-1zM418 106h1v1h-1zM411 97h1v1h-1zM411 94h1v1h-1zM411 100h1v1h-1zM409 97h1v1h-1zM406 109h1v1h-1zM411 103h1v1h-1zM413 89h1v1h-1zM414 97h1v1h-1zM415 99h1v1h-1zM411 106h1v1h-1zM414 100h1v1h-1zM408 96h1v1h-1zM405 98h1v1h-1zM408 97h1v1h-1zM413 103h1v1h-1zM419 100h1v1h-1zM408 87h1v1h-1zM413 100h1v1h-1zM414 94h1v1h-1zM405 105h1v1h-1zM410 106h1v1h-1zM415 109h1v1h-1zM408 95h1v1h-1zM409 101h1v1h-1zM415 95h1v1h-1zM414 92h1v1h-1zM411 93h1v1h-1zM416 102h1v1h-1zM412 91h1v1h-1zM407 95h1v1h-1zM409 92h1v1h-1zM407 92h1v1h-1zM412 100h1v1h-1zM416 100h1v1h-1zM404 88h1v1h-1zM415 101h1v1h-1zM409 90h1v1h-1zM410 88h1v1h-1zM408 102h1v1h-1zM410 90h1v1h-1zM407 93h1v1h-1zM415 98h1v1h-1zM407 103h1v1h-1zM409 108h1v1h-1zM410 101h1v1h-1zM414 102h1v1h-1zM405 93h1v1h-1zM410 99h1v1h-1zM412 97h1v1h-1zM403 103h1v1h-1zM411 96h1v1h-1zM411 99h1v1h-1zM414 105h1v1h-1zM412 95h1v1h-1zM407 90h1v1h-1zM406 101h1v1h-1zM413 102h1v1h-1zM411 95h1v1h-1zM410 104h1v1h-1zM412 96h1v1h-1zM412 92h1v1h-1zM407 89h1v1h-1zM413 108h1v1h-1zM411 101h1v1h-1zM409 98h1v1h-1zM409 107h1v1h-1zM410 92h1v1h-1zM416 96h1v1h-1zM411 98h1v1h-1zM411 107h1v1h-1zM408 93h1v1h-1zM407 104h1v1h-1zM412 109h1v1h-1zM413 90h1v1h-1zM410 109h1v1h-1zM412 93h1v1h-1zM410 98h1v1h-1zM412 99h1v1h-1zM407 109h1v1h-1zM413 92h1v1h-1zM415 108h1v1h-1zM414 89h1v1h-1zM409 95h1v1h-1zM409 99h1v1h-1zM412 101h1v1h-1zM414 95h1v1h-1zM416 105h1v1h-1zM414 99h1v1h-1zM408 99h1v1h-1zM414 103h1v1h-1zM408 104h1v1h-1zM412 102h1v1h-1zM411 92h1v1h-1zM413 94h1v1h-1zM413 104h1v1h-1zM415 94h1v1h-1zM459 108h1v1h-1zM465 106h1v1h-1zM468 105h1v1h-1zM464 106h1v1h-1zM459 110h1v1h-1zM466 108h1v1h-1zM469 106h1v1h-1zM460 108h1v1h-1zM463 103h1v1h-1zM465 103h1v1h-1zM468 103h1v1h-1zM472 105h1v1h-1zM466 105h1v1h-1zM473 110h1v1h-1zM469 105h1v1h-1zM457 105h1v1h-1zM470 105h1v1h-1zM459 106h1v1h-1zM460 104h1v1h-1zM470 103h1v1h-1zM490 106h1v1h-1zM489 110h1v1h-1zM488 108h1v1h-1zM488 106h1v1h-1zM488 110h1v1h-1zM490 108h1v1h-1zM502 105h1v1h-1zM500 108h1v1h-1zM500 110h1v1h-1zM501 110h1v1h-1zM503 110h1v1h-1zM503 105h1v1h-1z" fill="#111" opacity="0.88" shape-rendering="crispEdges"/>
<line x1="203.20" y1="31.70" x2="203.20" y2="77.00" stroke="#111" stroke-width="1.2"/>
<line x1="202.60" y1="76.40" x2="277.80" y2="76.40" stroke="#111" stroke-width="1.2"/>
<line x1="206.60" y1="76.40" x2="206.60" y2="80.00" stroke="#111" stroke-width="0.9"/>
<line x1="222.70" y1="76.40" x2="222.70" y2="80.00" stroke="#111" stroke-width="0.9"/>
<line x1="238.80" y1="76.40" x2="238.80" y2="80.00" stroke="#111" stroke-width="0.9"/>
<line x1="254.90" y1="76.40" x2="254.90" y2="80.00" stroke="#111" stroke-width="0.9"/>
<line x1="271.00" y1="76.40" x2="271.00" y2="80.00" stroke="#111" stroke-width="0.9"/>
<line x1="280.90" y1="31.70" x2="280.90" y2="77.00" stroke="#111" stroke-width="1.2"/>
<line x1="280.30" y1="76.40" x2="355.50" y2="76.40" stroke="#111" stroke-width="1.2"/>
<line x1="284.30" y1="76.40" x2="284.30" y2="80.00" stroke="#111" stroke-width="0.9"/>
<line x1="300.40" y1="76.40" x2="300.40" y2="80.00" stroke="#111" stroke-width="0.9"/>
<line x1="316.50" y1="76.40" x2="316.50" y2="80.00" stroke="#111" stroke-width="0.9"/>
<line x1="332.60" y1="76.40" x2="332.60" y2="80.00" stroke="#111" stroke-width="0.9"/>
<line x1="348.70" y1="76.40" x2="348.70" y2="80.00" stroke="#111" stroke-width="0.9"/>
<line x1="358.80" y1="31.70" x2="358.80" y2="77.00" stroke="#111" stroke-width="1.2"/>
<line x1="358.20" y1="76.40" x2="433.40" y2="76.40" stroke="#111" stroke-width="1.2"/>
<line x1="362.20" y1="76.40" x2="362.20" y2="80.00" stroke="#111" stroke-width="0.9"/>
<line x1="378.30" y1="76.40" x2="378.30" y2="80.00" stroke="#111" stroke-width="0.9"/>
<line x1="394.40" y1="76.40" x2="394.40" y2="80.00" stroke="#111" stroke-width="0.9"/>
<line x1="410.50" y1="76.40" x2="410.50" y2="80.00" stroke="#111" stroke-width="0.9"/>
<line x1="426.60" y1="76.40" x2="426.60" y2="80.00" stroke="#111" stroke-width="0.9"/>
<line x1="436.40" y1="31.70" x2="436.40" y2="77.00" stroke="#111" stroke-width="1.2"/>
<line x1="435.80" y1="76.40" x2="511.00" y2="76.40" stroke="#111" stroke-width="1.2"/>
<line x1="439.80" y1="76.40" x2="439.80" y2="80.00" stroke="#111" stroke-width="0.9"/>
<line x1="455.90" y1="76.40" x2="455.90" y2="80.00" stroke="#111" stroke-width="0.9"/>
<line x1="472.00" y1="76.40" x2="472.00" y2="80.00" stroke="#111" stroke-width="0.9"/>
<line x1="488.10" y1="76.40" x2="488.10" y2="80.00" stroke="#111" stroke-width="0.9"/>
<line x1="504.20" y1="76.40" x2="504.20" y2="80.00" stroke="#111" stroke-width="0.9"/>
<line x1="198.90" y1="74.90" x2="203.20" y2="74.90" stroke="#111" stroke-width="0.9"/>
<text x="195.20" y="77.20" font-size="6.4" fill="#222" text-anchor="end">0</text>
<line x1="198.90" y1="61.55" x2="203.20" y2="61.55" stroke="#111" stroke-width="0.9"/>
<text x="195.20" y="63.85" font-size="6.4" fill="#222" text-anchor="end">1</text>
<line x1="198.90" y1="48.20" x2="203.20" y2="48.20" stroke="#111" stroke-width="0.9"/>
<text x="195.20" y="50.50" font-size="6.4" fill="#222" text-anchor="end">2</text>
<line x1="198.90" y1="34.85" x2="203.20" y2="34.85" stroke="#111" stroke-width="0.9"/>
<text x="195.20" y="37.15" font-size="6.4" fill="#222" text-anchor="end">3</text>
<line x1="203.20" y1="79.60" x2="203.20" y2="125.80" stroke="#111" stroke-width="1.2"/>
<line x1="202.60" y1="125.20" x2="277.80" y2="125.20" stroke="#111" stroke-width="1.2"/>
<line x1="206.60" y1="125.20" x2="206.60" y2="128.80" stroke="#111" stroke-width="0.9"/>
<line x1="222.70" y1="125.20" x2="222.70" y2="128.80" stroke="#111" stroke-width="0.9"/>
<line x1="238.80" y1="125.20" x2="238.80" y2="128.80" stroke="#111" stroke-width="0.9"/>
<line x1="254.90" y1="125.20" x2="254.90" y2="128.80" stroke="#111" stroke-width="0.9"/>
<line x1="271.00" y1="125.20" x2="271.00" y2="128.80" stroke="#111" stroke-width="0.9"/>
<line x1="280.90" y1="79.60" x2="280.90" y2="125.80" stroke="#111" stroke-width="1.2"/>
<line x1="280.30" y1="125.20" x2="355.50" y2="125.20" stroke="#111" stroke-width="1.2"/>
<line x1="284.30" y1="125.20" x2="284.30" y2="128.80" stroke="#111" stroke-width="0.9"/>
<line x1="300.40" y1="125.20" x2="300.40" y2="128.80" stroke="#111" stroke-width="0.9"/>
<line x1="316.50" y1="125.20" x2="316.50" y2="128.80" stroke="#111" stroke-width="0.9"/>
<line x1="332.60" y1="125.20" x2="332.60" y2="128.80" stroke="#111" stroke-width="0.9"/>
<line x1="348.70" y1="125.20" x2="348.70" y2="128.80" stroke="#111" stroke-width="0.9"/>
<line x1="358.80" y1="79.60" x2="358.80" y2="125.80" stroke="#111" stroke-width="1.2"/>
<line x1="358.20" y1="125.20" x2="433.40" y2="125.20" stroke="#111" stroke-width="1.2"/>
<line x1="362.20" y1="125.20" x2="362.20" y2="128.80" stroke="#111" stroke-width="0.9"/>
<line x1="378.30" y1="125.20" x2="378.30" y2="128.80" stroke="#111" stroke-width="0.9"/>
<line x1="394.40" y1="125.20" x2="394.40" y2="128.80" stroke="#111" stroke-width="0.9"/>
<line x1="410.50" y1="125.20" x2="410.50" y2="128.80" stroke="#111" stroke-width="0.9"/>
<line x1="426.60" y1="125.20" x2="426.60" y2="128.80" stroke="#111" stroke-width="0.9"/>
<line x1="436.40" y1="79.60" x2="436.40" y2="125.80" stroke="#111" stroke-width="1.2"/>
<line x1="435.80" y1="125.20" x2="511.00" y2="125.20" stroke="#111" stroke-width="1.2"/>
<line x1="439.80" y1="125.20" x2="439.80" y2="128.80" stroke="#111" stroke-width="0.9"/>
<line x1="455.90" y1="125.20" x2="455.90" y2="128.80" stroke="#111" stroke-width="0.9"/>
<line x1="472.00" y1="125.20" x2="472.00" y2="128.80" stroke="#111" stroke-width="0.9"/>
<line x1="488.10" y1="125.20" x2="488.10" y2="128.80" stroke="#111" stroke-width="0.9"/>
<line x1="504.20" y1="125.20" x2="504.20" y2="128.80" stroke="#111" stroke-width="0.9"/>
<line x1="198.90" y1="123.80" x2="203.20" y2="123.80" stroke="#111" stroke-width="0.9"/>
<text x="195.20" y="126.10" font-size="6.4" fill="#222" text-anchor="end">0</text>
<line x1="198.90" y1="114.25" x2="203.20" y2="114.25" stroke="#111" stroke-width="0.9"/>
<text x="195.20" y="116.55" font-size="6.4" fill="#222" text-anchor="end">1</text>
<line x1="198.90" y1="104.70" x2="203.20" y2="104.70" stroke="#111" stroke-width="0.9"/>
<text x="195.20" y="107.00" font-size="6.4" fill="#222" text-anchor="end">2</text>
<line x1="198.90" y1="95.15" x2="203.20" y2="95.15" stroke="#111" stroke-width="0.9"/>
<text x="195.20" y="97.45" font-size="6.4" fill="#222" text-anchor="end">3</text>
<line x1="198.90" y1="85.60" x2="203.20" y2="85.60" stroke="#111" stroke-width="0.9"/>
<text x="195.20" y="87.90" font-size="6.4" fill="#222" text-anchor="end">4</text>
<path d="M203.5,66.2 C210,64.5 216,61.8 225,61 S240,61.5 246,61.2 S253,57 256,55 S260,55.2 263,55.3 S267,53.8 270,55.5 S273,60 276,69.5" fill="none" stroke="#c0242c" stroke-width="1.35" stroke-linecap="round"/>
<path d="M281.5,73 C295,71.8 315,71 328,70.2 S334,69 338,70 S346,70 352,68.7" fill="none" stroke="#c0242c" stroke-width="1.35" stroke-linecap="round"/>
<path d="M359.5,72.6 C364,70.5 370,69 378,68.8 S388,70.4 396,70.2 S406,69.5 412,68.4 S424,66 432,63.6" fill="none" stroke="#c0242c" stroke-width="1.35" stroke-linecap="round"/>
<path d="M437,69.6 C440,71.2 442.5,71 444,68 S445.5,65 448,64.8 S456,65 459,65.5 S462,68.3 465.5,68.3 S478,66 488,63.8 S501,60.4 507,59.6" fill="none" stroke="#c0242c" stroke-width="1.35" stroke-linecap="round"/>
<path d="M204,124 C211,119 217,116.6 224.6,116.5 S233,118.6 237.7,119.8 S245,112.5 250,112.2 S262,114.5 266,116.5 S272,119 275.5,122" fill="none" stroke="#c0242c" stroke-width="1.35" stroke-linecap="round"/>
<path d="M281.5,124.5 C286,121 292,118.5 300,116.5 S315,113.8 322,112.6 S327,105 329,105 S335,118 339.5,118.2 S345,114 348,114 S351,114.5 353,114.5" fill="none" stroke="#c0242c" stroke-width="1.35" stroke-linecap="round"/>
<path d="M359.5,123 C363,120.5 368,118.8 375,117.8 S385,116.5 390,113.5 S398,112.6 405,109.8 S410,111 418,112.5 S425,108.5 433,105.8" fill="none" stroke="#c0242c" stroke-width="1.35" stroke-linecap="round"/>
<path d="M437,124.3 C452,124.2 465,123 480,121 S498,118.2 506,117.5" fill="none" stroke="#c0242c" stroke-width="1.35" stroke-linecap="round"/>
<text x="214.80" y="139.20" font-size="7.2" fill="#222" textLength="24.60" lengthAdjust="spacingAndGlyphs">myeloid</text>
<line x1="245.00" y1="136.20" x2="321.50" y2="136.20" stroke="#222" stroke-width="0.9"/>
<path d="M241.5,136.2 L246.5,134 L246.5,138.4 z" fill="#222"/>
<text x="324.60" y="139.00" font-size="7.2" fill="#222" textLength="32.90" lengthAdjust="spacingAndGlyphs">Pseudotime</text>
<line x1="361.50" y1="136.00" x2="437.50" y2="136.00" stroke="#222" stroke-width="0.9"/>
<path d="M440.5,136 L435.5,133.8 L435.5,138.2 z" fill="#222"/>
<text x="443.80" y="139.20" font-size="7.2" fill="#222" textLength="48.40" lengthAdjust="spacingAndGlyphs">megakaryocyte</text>
<text x="8.40" y="158.80" font-size="14.6" fill="#111" font-weight="bold">L</text>
<text x="41.70" y="183.30" font-size="6" fill="#333" textLength="70.10" lengthAdjust="spacingAndGlyphs">High in control MK-like (478)</text>
<text x="130.30" y="183.30" font-size="6" fill="#333" textLength="80.70" lengthAdjust="spacingAndGlyphs">High in control platelet-like (393)</text>
<line x1="41.50" y1="241.00" x2="175.00" y2="241.00" stroke="#999" stroke-width="0.7" stroke-dasharray="2 1.5"/>
<path d="M104.7 222.6a0.75 0.75 0 1 0 1.5 0a0.75 0.75 0 1 0 -1.5 0M110.4 234.9a0.75 0.75 0 1 0 1.5 0a0.75 0.75 0 1 0 -1.5 0M124.2 222.0a0.75 0.75 0 1 0 1.5 0a0.75 0.75 0 1 0 -1.5 0M108.9 224.5a0.75 0.75 0 1 0 1.5 0a0.75 0.75 0 1 0 -1.5 0M99.5 235.3a0.75 0.75 0 1 0 1.5 0a0.75 0.75 0 1 0 -1.5 0M116.6 230.0a0.75 0.75 0 1 0 1.5 0a0.75 0.75 0 1 0 -1.5 0M116.2 214.4a0.75 0.75 0 1 0 1.5 0a0.75 0.75 0 1 0 -1.5 0M107.1 222.1a0.75 0.75 0 1 0 1.5 0a0.75 0.75 0 1 0 -1.5 0M116.2 214.5a0.75 0.75 0 1 0 1.5 0a0.75 0.75 0 1 0 -1.5 0M111.2 237.5a0.75 0.75 0 1 0 1.5 0a0.75 0.75 0 1 0 -1.5 0M111.1 218.9a0.75 0.75 0 1 0 1.5 0a0.75 0.75 0 1 0 -1.5 0M113.9 236.9a0.75 0.75 0 1 0 1.5 0a0.75 0.75 0 1 0 -1.5 0M108.2 231.1a0.75 0.75 0 1 0 1.5 0a0.75 0.75 0 1 0 -1.5 0M105.3 226.1a0.75 0.75 0 1 0 1.5 0a0.75 0.75 0 1 0 -1.5 0M96.7 219.3a0.75 0.75 0 1 0 1.5 0a0.75 0.75 0 1 0 -1.5 0M115.6 221.6a0.75 0.75 0 1 0 1.5 0a0.75 0.75 0 1 0 -1.5 0M101.8 213.2a0.75 0.75 0 1 0 1.5 0a0.75 0.75 0 1 0 -1.5 0M107.1 234.6a0.75 0.75 0 1 0 1.5 0a0.75 0.75 0 1 0 -1.5 0M117.1 222.7a0.75 0.75 0 1 0 1.5 0a0.75 0.75 0 1 0 -1.5 0M102.4 232.1a0.75 0.75 0 1 0 1.5 0a0.75 0.75 0 1 0 -1.5 0M111.2 227.5a0.75 0.75 0 1 0 1.5 0a0.75 0.75 0 1 0 -1.5 0M123.9 215.9a0.75 0.75 0 1 0 1.5 0a0.75 0.75 0 1 0 -1.5 0M113.3 217.3a0.75 0.75 0 1 0 1.5 0a0.75 0.75 0 1 0 -1.5 0M110.6 216.3a0.75 0.75 0 1 0 1.5 0a0.75 0.75 0 1 0 -1.5 0M114.1 231.3a0.75 0.75 0 1 0 1.5 0a0.75 0.75 0 1 0 -1.5 0M123.2 213.6a0.75 0.75 0 1 0 1.5 0a0.75 0.75 0 1 0 -1.5 0M109.6 238.7a0.75 0.75 0 1 0 1.5 0a0.75 0.75 0 1 0 -1.5 0M116.8 224.9a0.75 0.75 0 1 0 1.5 0a0.75 0.75 0 1 0 -1.5 0M123.1 222.6a0.75 0.75 0 1 0 1.5 0a0.75 0.75 0 1 0 -1.5 0M113.0 237.2a0.75 0.75 0 1 0 1.5 0a0.75 0.75 0 1 0 -1.5 0M115.0 229.5a0.75 0.75 0 1 0 1.5 0a0.75 0.75 0 1 0 -1.5 0M113.9 218.3a0.75 0.75 0 1 0 1.5 0a0.75 0.75 0 1 0 -1.5 0M106.6 226.3a0.75 0.75 0 1 0 1.5 0a0.75 0.75 0 1 0 -1.5 0M132.2 216.2a0.75 0.75 0 1 0 1.5 0a0.75 0.75 0 1 0 -1.5 0M106.5 215.6a0.75 0.75 0 1 0 1.5 0a0.75 0.75 0 1 0 -1.5 0M122.7 216.8a0.75 0.75 0 1 0 1.5 0a0.75 0.75 0 1 0 -1.5 0M134.8 218.6a0.75 0.75 0 1 0 1.5 0a0.75 0.75 0 1 0 -1.5 0M117.1 233.3a0.75 0.75 0 1 0 1.5 0a0.75 0.75 0 1 0 -1.5 0M110.3 231.9a0.75 0.75 0 1 0 1.5 0a0.75 0.75 0 1 0 -1.5 0M116.8 215.8a0.75 0.75 0 1 0 1.5 0a0.75 0.75 0 1 0 -1.5 0M104.3 231.2a0.75 0.75 0 1 0 1.5 0a0.75 0.75 0 1 0 -1.5 0M117.2 224.3a0.75 0.75 0 1 0 1.5 0a0.75 0.75 0 1 0 -1.5 0M124.1 221.6a0.75 0.75 0 1 0 1.5 0a0.75 0.75 0 1 0 -1.5 0M116.7 234.8a0.75 0.75 0 1 0 1.5 0a0.75 0.75 0 1 0 -1.5 0M120.4 220.6a0.75 0.75 0 1 0 1.5 0a0.75 0.75 0 1 0 -1.5 0M121.2 217.1a0.75 0.75 0 1 0 1.5 0a0.75 0.75 0 1 0 -1.5 0M115.2 238.6a0.75 0.75 0 1 0 1.5 0a0.75 0.75 0 1 0 -1.5 0M118.2 222.0a0.75 0.75 0 1 0 1.5 0a0.75 0.75 0 1 0 -1.5 0M128.0 217.0a0.75 0.75 0 1 0 1.5 0a0.75 0.75 0 1 0 -1.5 0M116.9 226.7a0.75 0.75 0 1 0 1.5 0a0.75 0.75 0 1 0 -1.5 0M111.8 224.5a0.75 0.75 0 1 0 1.5 0a0.75 0.75 0 1 0 -1.5 0M109.3 220.6a0.75 0.75 0 1 0 1.5 0a0.75 0.75 0 1 0 -1.5 0M111.1 234.0a0.75 0.75 0 1 0 1.5 0a0.75 0.75 0 1 0 -1.5 0M116.0 230.6a0.75 0.75 0 1 0 1.5 0a0.75 0.75 0 1 0 -1.5 0M108.9 214.8a0.75 0.75 0 1 0 1.5 0a0.75 0.75 0 1 0 -1.5 0M117.7 214.3a0.75 0.75 0 1 0 1.5 0a0.75 0.75 0 1 0 -1.5 0M114.7 215.1a0.75 0.75 0 1 0 1.5 0a0.75 0.75 0 1 0 -1.5 0M114.5 217.0a0.75 0.75 0 1 0 1.5 0a0.75 0.75 0 1 0 -1.5 0M112.4 223.9a0.75 0.75 0 1 0 1.5 0a0.75 0.75 0 1 0 -1.5 0M106.6 223.7a0.75 0.75 0 1 0 1.5 0a0.75 0.75 0 1 0 -1.5 0M105.6 233.9a0.75 0.75 0 1 0 1.5 0a0.75 0.75 0 1 0 -1.5 0M110.1 235.3a0.75 0.75 0 1 0 1.5 0a0.75 0.75 0 1 0 -1.5 0M106.2 221.1a0.75 0.75 0 1 0 1.5 0a0.75 0.75 0 1 0 -1.5 0M115.9 233.1a0.75 0.75 0 1 0 1.5 0a0.75 0.75 0 1 0 -1.5 0M117.6 220.7a0.75 0.75 0 1 0 1.5 0a0.75 0.75 0 1 0 -1.5 0M119.6 226.9a0.75 0.75 0 1 0 1.5 0a0.75 0.75 0 1 0 -1.5 0M123.1 217.2a0.75 0.75 0 1 0 1.5 0a0.75 0.75 0 1 0 -1.5 0M114.9 214.1a0.75 0.75 0 1 0 1.5 0a0.75 0.75 0 1 0 -1.5 0M116.4 226.1a0.75 0.75 0 1 0 1.5 0a0.75 0.75 0 1 0 -1.5 0M115.9 238.8a0.75 0.75 0 1 0 1.5 0a0.75 0.75 0 1 0 -1.5 0M113.5 216.2a0.75 0.75 0 1 0 1.5 0a0.75 0.75 0 1 0 -1.5 0M104.6 225.4a0.75 0.75 0 1 0 1.5 0a0.75 0.75 0 1 0 -1.5 0M107.7 218.7a0.75 0.75 0 1 0 1.5 0a0.75 0.75 0 1 0 -1.5 0M112.2 216.4a0.75 0.75 0 1 0 1.5 0a0.75 0.75 0 1 0 -1.5 0M103.6 227.5a0.75 0.75 0 1 0 1.5 0a0.75 0.75 0 1 0 -1.5 0M132.5 224.0a0.75 0.75 0 1 0 1.5 0a0.75 0.75 0 1 0 -1.5 0M117.7 221.9a0.75 0.75 0 1 0 1.5 0a0.75 0.75 0 1 0 -1.5 0M110.6 227.2a0.75 0.75 0 1 0 1.5 0a0.75 0.75 0 1 0 -1.5 0M116.0 226.9a0.75 0.75 0 1 0 1.5 0a0.75 0.75 0 1 0 -1.5 0M113.4 223.4a0.75 0.75 0 1 0 1.5 0a0.75 0.75 0 1 0 -1.5 0M109.5 236.4a0.75 0.75 0 1 0 1.5 0a0.75 0.75 0 1 0 -1.5 0M114.1 229.4a0.75 0.75 0 1 0 1.5 0a0.75 0.75 0 1 0 -1.5 0M106.6 224.9a0.75 0.75 0 1 0 1.5 0a0.75 0.75 0 1 0 -1.5 0M114.4 228.0a0.75 0.75 0 1 0 1.5 0a0.75 0.75 0 1 0 -1.5 0M116.0 218.8a0.75 0.75 0 1 0 1.5 0a0.75 0.75 0 1 0 -1.5 0" fill="#3b40a8" opacity="0.75"/>
<path d="M127.4 224.2a0.8 0.8 0 1 0 1.6 0a0.8 0.8 0 1 0 -1.6 0M127.0 239.7a0.8 0.8 0 1 0 1.6 0a0.8 0.8 0 1 0 -1.6 0M132.0 234.0a0.8 0.8 0 1 0 1.6 0a0.8 0.8 0 1 0 -1.6 0M135.0 234.8a0.8 0.8 0 1 0 1.6 0a0.8 0.8 0 1 0 -1.6 0M133.4 230.7a0.8 0.8 0 1 0 1.6 0a0.8 0.8 0 1 0 -1.6 0M120.8 230.5a0.8 0.8 0 1 0 1.6 0a0.8 0.8 0 1 0 -1.6 0M136.6 238.4a0.8 0.8 0 1 0 1.6 0a0.8 0.8 0 1 0 -1.6 0M121.9 232.1a0.8 0.8 0 1 0 1.6 0a0.8 0.8 0 1 0 -1.6 0M125.5 236.8a0.8 0.8 0 1 0 1.6 0a0.8 0.8 0 1 0 -1.6 0M137.6 238.8a0.8 0.8 0 1 0 1.6 0a0.8 0.8 0 1 0 -1.6 0M131.9 237.6a0.8 0.8 0 1 0 1.6 0a0.8 0.8 0 1 0 -1.6 0M129.1 230.6a0.8 0.8 0 1 0 1.6 0a0.8 0.8 0 1 0 -1.6 0M121.4 238.6a0.8 0.8 0 1 0 1.6 0a0.8 0.8 0 1 0 -1.6 0M121.1 230.4a0.8 0.8 0 1 0 1.6 0a0.8 0.8 0 1 0 -1.6 0M130.1 239.0a0.8 0.8 0 1 0 1.6 0a0.8 0.8 0 1 0 -1.6 0M123.6 223.0a0.8 0.8 0 1 0 1.6 0a0.8 0.8 0 1 0 -1.6 0M126.9 224.9a0.8 0.8 0 1 0 1.6 0a0.8 0.8 0 1 0 -1.6 0M117.6 233.6a0.8 0.8 0 1 0 1.6 0a0.8 0.8 0 1 0 -1.6 0M129.4 228.9a0.8 0.8 0 1 0 1.6 0a0.8 0.8 0 1 0 -1.6 0M121.4 232.8a0.8 0.8 0 1 0 1.6 0a0.8 0.8 0 1 0 -1.6 0M131.7 227.4a0.8 0.8 0 1 0 1.6 0a0.8 0.8 0 1 0 -1.6 0M120.2 234.9a0.8 0.8 0 1 0 1.6 0a0.8 0.8 0 1 0 -1.6 0M123.9 228.3a0.8 0.8 0 1 0 1.6 0a0.8 0.8 0 1 0 -1.6 0M127.1 234.6a0.8 0.8 0 1 0 1.6 0a0.8 0.8 0 1 0 -1.6 0M132.4 237.6a0.8 0.8 0 1 0 1.6 0a0.8 0.8 0 1 0 -1.6 0M125.4 227.8a0.8 0.8 0 1 0 1.6 0a0.8 0.8 0 1 0 -1.6 0M122.3 233.9a0.8 0.8 0 1 0 1.6 0a0.8 0.8 0 1 0 -1.6 0M118.2 236.9a0.8 0.8 0 1 0 1.6 0a0.8 0.8 0 1 0 -1.6 0M129.2 229.1a0.8 0.8 0 1 0 1.6 0a0.8 0.8 0 1 0 -1.6 0M117.2 237.0a0.8 0.8 0 1 0 1.6 0a0.8 0.8 0 1 0 -1.6 0M126.0 238.8a0.8 0.8 0 1 0 1.6 0a0.8 0.8 0 1 0 -1.6 0M122.5 231.2a0.8 0.8 0 1 0 1.6 0a0.8 0.8 0 1 0 -1.6 0M129.7 239.7a0.8 0.8 0 1 0 1.6 0a0.8 0.8 0 1 0 -1.6 0M131.8 226.1a0.8 0.8 0 1 0 1.6 0a0.8 0.8 0 1 0 -1.6 0M126.9 225.1a0.8 0.8 0 1 0 1.6 0a0.8 0.8 0 1 0 -1.6 0M123.1 224.7a0.8 0.8 0 1 0 1.6 0a0.8 0.8 0 1 0 -1.6 0M127.4 233.5a0.8 0.8 0 1 0 1.6 0a0.8 0.8 0 1 0 -1.6 0M123.0 239.0a0.8 0.8 0 1 0 1.6 0a0.8 0.8 0 1 0 -1.6 0M123.4 238.1a0.8 0.8 0 1 0 1.6 0a0.8 0.8 0 1 0 -1.6 0M132.3 234.7a0.8 0.8 0 1 0 1.6 0a0.8 0.8 0 1 0 -1.6 0M127.9 238.2a0.8 0.8 0 1 0 1.6 0a0.8 0.8 0 1 0 -1.6 0M134.9 239.4a0.8 0.8 0 1 0 1.6 0a0.8 0.8 0 1 0 -1.6 0M121.1 229.6a0.8 0.8 0 1 0 1.6 0a0.8 0.8 0 1 0 -1.6 0M120.3 230.7a0.8 0.8 0 1 0 1.6 0a0.8 0.8 0 1 0 -1.6 0M119.8 238.7a0.8 0.8 0 1 0 1.6 0a0.8 0.8 0 1 0 -1.6 0M121.6 239.8a0.8 0.8 0 1 0 1.6 0a0.8 0.8 0 1 0 -1.6 0M127.8 224.5a0.8 0.8 0 1 0 1.6 0a0.8 0.8 0 1 0 -1.6 0M124.6 236.1a0.8 0.8 0 1 0 1.6 0a0.8 0.8 0 1 0 -1.6 0M125.4 225.2a0.8 0.8 0 1 0 1.6 0a0.8 0.8 0 1 0 -1.6 0M118.6 235.0a0.8 0.8 0 1 0 1.6 0a0.8 0.8 0 1 0 -1.6 0M131.2 238.3a0.8 0.8 0 1 0 1.6 0a0.8 0.8 0 1 0 -1.6 0M132.3 231.5a0.8 0.8 0 1 0 1.6 0a0.8 0.8 0 1 0 -1.6 0M137.5 235.3a0.8 0.8 0 1 0 1.6 0a0.8 0.8 0 1 0 -1.6 0M117.3 235.4a0.8 0.8 0 1 0 1.6 0a0.8 0.8 0 1 0 -1.6 0M130.7 230.2a0.8 0.8 0 1 0 1.6 0a0.8 0.8 0 1 0 -1.6 0M125.3 239.2a0.8 0.8 0 1 0 1.6 0a0.8 0.8 0 1 0 -1.6 0M124.8 233.3a0.8 0.8 0 1 0 1.6 0a0.8 0.8 0 1 0 -1.6 0M130.3 228.7a0.8 0.8 0 1 0 1.6 0a0.8 0.8 0 1 0 -1.6 0M120.9 236.0a0.8 0.8 0 1 0 1.6 0a0.8 0.8 0 1 0 -1.6 0M126.3 238.8a0.8 0.8 0 1 0 1.6 0a0.8 0.8 0 1 0 -1.6 0M123.9 239.9a0.8 0.8 0 1 0 1.6 0a0.8 0.8 0 1 0 -1.6 0M127.2 237.8a0.8 0.8 0 1 0 1.6 0a0.8 0.8 0 1 0 -1.6 0M126.7 231.9a0.8 0.8 0 1 0 1.6 0a0.8 0.8 0 1 0 -1.6 0M121.5 234.7a0.8 0.8 0 1 0 1.6 0a0.8 0.8 0 1 0 -1.6 0M124.6 222.4a0.8 0.8 0 1 0 1.6 0a0.8 0.8 0 1 0 -1.6 0M133.3 231.5a0.8 0.8 0 1 0 1.6 0a0.8 0.8 0 1 0 -1.6 0M136.4 233.7a0.8 0.8 0 1 0 1.6 0a0.8 0.8 0 1 0 -1.6 0M121.8 228.4a0.8 0.8 0 1 0 1.6 0a0.8 0.8 0 1 0 -1.6 0M121.8 239.6a0.8 0.8 0 1 0 1.6 0a0.8 0.8 0 1 0 -1.6 0M123.7 227.1a0.8 0.8 0 1 0 1.6 0a0.8 0.8 0 1 0 -1.6 0M135.7 233.5a0.8 0.8 0 1 0 1.6 0a0.8 0.8 0 1 0 -1.6 0M136.1 230.0a0.8 0.8 0 1 0 1.6 0a0.8 0.8 0 1 0 -1.6 0M124.8 224.6a0.8 0.8 0 1 0 1.6 0a0.8 0.8 0 1 0 -1.6 0M118.4 236.4a0.8 0.8 0 1 0 1.6 0a0.8 0.8 0 1 0 -1.6 0M126.5 224.3a0.8 0.8 0 1 0 1.6 0a0.8 0.8 0 1 0 -1.6 0M137.0 235.6a0.8 0.8 0 1 0 1.6 0a0.8 0.8 0 1 0 -1.6 0M131.0 232.3a0.8 0.8 0 1 0 1.6 0a0.8 0.8 0 1 0 -1.6 0M127.3 223.7a0.8 0.8 0 1 0 1.6 0a0.8 0.8 0 1 0 -1.6 0M123.6 239.5a0.8 0.8 0 1 0 1.6 0a0.8 0.8 0 1 0 -1.6 0M126.8 234.5a0.8 0.8 0 1 0 1.6 0a0.8 0.8 0 1 0 -1.6 0M130.2 237.3a0.8 0.8 0 1 0 1.6 0a0.8 0.8 0 1 0 -1.6 0M118.0 239.0a0.8 0.8 0 1 0 1.6 0a0.8 0.8 0 1 0 -1.6 0M125.4 225.5a0.8 0.8 0 1 0 1.6 0a0.8 0.8 0 1 0 -1.6 0M131.0 230.8a0.8 0.8 0 1 0 1.6 0a0.8 0.8 0 1 0 -1.6 0M135.8 234.3a0.8 0.8 0 1 0 1.6 0a0.8 0.8 0 1 0 -1.6 0M123.7 231.1a0.8 0.8 0 1 0 1.6 0a0.8 0.8 0 1 0 -1.6 0M119.3 236.1a0.8 0.8 0 1 0 1.6 0a0.8 0.8 0 1 0 -1.6 0M127.3 230.0a0.8 0.8 0 1 0 1.6 0a0.8 0.8 0 1 0 -1.6 0M125.6 227.1a0.8 0.8 0 1 0 1.6 0a0.8 0.8 0 1 0 -1.6 0M133.2 235.6a0.8 0.8 0 1 0 1.6 0a0.8 0.8 0 1 0 -1.6 0M137.7 232.4a0.8 0.8 0 1 0 1.6 0a0.8 0.8 0 1 0 -1.6 0M119.2 236.0a0.8 0.8 0 1 0 1.6 0a0.8 0.8 0 1 0 -1.6 0M129.8 233.9a0.8 0.8 0 1 0 1.6 0a0.8 0.8 0 1 0 -1.6 0M134.6 231.0a0.8 0.8 0 1 0 1.6 0a0.8 0.8 0 1 0 -1.6 0M127.6 234.5a0.8 0.8 0 1 0 1.6 0a0.8 0.8 0 1 0 -1.6 0M126.7 232.3a0.8 0.8 0 1 0 1.6 0a0.8 0.8 0 1 0 -1.6 0M135.2 238.3a0.8 0.8 0 1 0 1.6 0a0.8 0.8 0 1 0 -1.6 0M132.8 231.0a0.8 0.8 0 1 0 1.6 0a0.8 0.8 0 1 0 -1.6 0M126.0 226.1a0.8 0.8 0 1 0 1.6 0a0.8 0.8 0 1 0 -1.6 0M129.7 232.4a0.8 0.8 0 1 0 1.6 0a0.8 0.8 0 1 0 -1.6 0M122.7 227.0a0.8 0.8 0 1 0 1.6 0a0.8 0.8 0 1 0 -1.6 0M128.3 235.0a0.8 0.8 0 1 0 1.6 0a0.8 0.8 0 1 0 -1.6 0M121.7 234.4a0.8 0.8 0 1 0 1.6 0a0.8 0.8 0 1 0 -1.6 0M134.8 230.2a0.8 0.8 0 1 0 1.6 0a0.8 0.8 0 1 0 -1.6 0M129.7 230.2a0.8 0.8 0 1 0 1.6 0a0.8 0.8 0 1 0 -1.6 0M127.2 232.5a0.8 0.8 0 1 0 1.6 0a0.8 0.8 0 1 0 -1.6 0M128.3 233.7a0.8 0.8 0 1 0 1.6 0a0.8 0.8 0 1 0 -1.6 0M136.7 232.7a0.8 0.8 0 1 0 1.6 0a0.8 0.8 0 1 0 -1.6 0M131.9 239.6a0.8 0.8 0 1 0 1.6 0a0.8 0.8 0 1 0 -1.6 0M126.4 228.7a0.8 0.8 0 1 0 1.6 0a0.8 0.8 0 1 0 -1.6 0M123.4 236.3a0.8 0.8 0 1 0 1.6 0a0.8 0.8 0 1 0 -1.6 0M120.1 239.9a0.8 0.8 0 1 0 1.6 0a0.8 0.8 0 1 0 -1.6 0M131.1 230.8a0.8 0.8 0 1 0 1.6 0a0.8 0.8 0 1 0 -1.6 0M129.3 233.9a0.8 0.8 0 1 0 1.6 0a0.8 0.8 0 1 0 -1.6 0M137.7 238.4a0.8 0.8 0 1 0 1.6 0a0.8 0.8 0 1 0 -1.6 0M135.0 236.0a0.8 0.8 0 1 0 1.6 0a0.8 0.8 0 1 0 -1.6 0M133.7 229.4a0.8 0.8 0 1 0 1.6 0a0.8 0.8 0 1 0 -1.6 0M126.2 238.4a0.8 0.8 0 1 0 1.6 0a0.8 0.8 0 1 0 -1.6 0M130.3 227.9a0.8 0.8 0 1 0 1.6 0a0.8 0.8 0 1 0 -1.6 0M120.7 232.3a0.8 0.8 0 1 0 1.6 0a0.8 0.8 0 1 0 -1.6 0M135.3 235.4a0.8 0.8 0 1 0 1.6 0a0.8 0.8 0 1 0 -1.6 0M125.3 222.9a0.8 0.8 0 1 0 1.6 0a0.8 0.8 0 1 0 -1.6 0M129.7 230.4a0.8 0.8 0 1 0 1.6 0a0.8 0.8 0 1 0 -1.6 0M124.5 240.0a0.8 0.8 0 1 0 1.6 0a0.8 0.8 0 1 0 -1.6 0M119.9 230.2a0.8 0.8 0 1 0 1.6 0a0.8 0.8 0 1 0 -1.6 0M122.6 230.7a0.8 0.8 0 1 0 1.6 0a0.8 0.8 0 1 0 -1.6 0M124.7 223.4a0.8 0.8 0 1 0 1.6 0a0.8 0.8 0 1 0 -1.6 0M130.1 231.6a0.8 0.8 0 1 0 1.6 0a0.8 0.8 0 1 0 -1.6 0M130.1 226.1a0.8 0.8 0 1 0 1.6 0a0.8 0.8 0 1 0 -1.6 0M134.7 238.4a0.8 0.8 0 1 0 1.6 0a0.8 0.8 0 1 0 -1.6 0M130.1 233.7a0.8 0.8 0 1 0 1.6 0a0.8 0.8 0 1 0 -1.6 0M125.2 238.8a0.8 0.8 0 1 0 1.6 0a0.8 0.8 0 1 0 -1.6 0M120.0 230.1a0.8 0.8 0 1 0 1.6 0a0.8 0.8 0 1 0 -1.6 0M120.3 236.3a0.8 0.8 0 1 0 1.6 0a0.8 0.8 0 1 0 -1.6 0M124.7 224.9a0.8 0.8 0 1 0 1.6 0a0.8 0.8 0 1 0 -1.6 0M133.1 236.1a0.8 0.8 0 1 0 1.6 0a0.8 0.8 0 1 0 -1.6 0M117.8 235.2a0.8 0.8 0 1 0 1.6 0a0.8 0.8 0 1 0 -1.6 0M131.9 227.4a0.8 0.8 0 1 0 1.6 0a0.8 0.8 0 1 0 -1.6 0M131.4 229.2a0.8 0.8 0 1 0 1.6 0a0.8 0.8 0 1 0 -1.6 0M125.3 238.6a0.8 0.8 0 1 0 1.6 0a0.8 0.8 0 1 0 -1.6 0M120.6 233.8a0.8 0.8 0 1 0 1.6 0a0.8 0.8 0 1 0 -1.6 0M130.4 232.8a0.8 0.8 0 1 0 1.6 0a0.8 0.8 0 1 0 -1.6 0M127.7 228.1a0.8 0.8 0 1 0 1.6 0a0.8 0.8 0 1 0 -1.6 0M119.1 232.1a0.8 0.8 0 1 0 1.6 0a0.8 0.8 0 1 0 -1.6 0M121.6 233.8a0.8 0.8 0 1 0 1.6 0a0.8 0.8 0 1 0 -1.6 0M136.5 233.3a0.8 0.8 0 1 0 1.6 0a0.8 0.8 0 1 0 -1.6 0M124.1 227.6a0.8 0.8 0 1 0 1.6 0a0.8 0.8 0 1 0 -1.6 0M118.5 236.0a0.8 0.8 0 1 0 1.6 0a0.8 0.8 0 1 0 -1.6 0M131.1 229.1a0.8 0.8 0 1 0 1.6 0a0.8 0.8 0 1 0 -1.6 0M127.4 235.8a0.8 0.8 0 1 0 1.6 0a0.8 0.8 0 1 0 -1.6 0M128.2 236.9a0.8 0.8 0 1 0 1.6 0a0.8 0.8 0 1 0 -1.6 0M124.8 228.4a0.8 0.8 0 1 0 1.6 0a0.8 0.8 0 1 0 -1.6 0M120.7 226.4a0.8 0.8 0 1 0 1.6 0a0.8 0.8 0 1 0 -1.6 0M119.9 227.1a0.8 0.8 0 1 0 1.6 0a0.8 0.8 0 1 0 -1.6 0M137.0 233.1a0.8 0.8 0 1 0 1.6 0a0.8 0.8 0 1 0 -1.6 0M119.5 229.8a0.8 0.8 0 1 0 1.6 0a0.8 0.8 0 1 0 -1.6 0M120.9 231.3a0.8 0.8 0 1 0 1.6 0a0.8 0.8 0 1 0 -1.6 0M121.8 238.8a0.8 0.8 0 1 0 1.6 0a0.8 0.8 0 1 0 -1.6 0M126.1 222.3a0.8 0.8 0 1 0 1.6 0a0.8 0.8 0 1 0 -1.6 0M134.4 232.7a0.8 0.8 0 1 0 1.6 0a0.8 0.8 0 1 0 -1.6 0M133.4 229.5a0.8 0.8 0 1 0 1.6 0a0.8 0.8 0 1 0 -1.6 0M116.9 238.1a0.8 0.8 0 1 0 1.6 0a0.8 0.8 0 1 0 -1.6 0M122.0 238.6a0.8 0.8 0 1 0 1.6 0a0.8 0.8 0 1 0 -1.6 0M130.3 228.6a0.8 0.8 0 1 0 1.6 0a0.8 0.8 0 1 0 -1.6 0M123.2 228.0a0.8 0.8 0 1 0 1.6 0a0.8 0.8 0 1 0 -1.6 0M123.8 225.3a0.8 0.8 0 1 0 1.6 0a0.8 0.8 0 1 0 -1.6 0M125.2 232.5a0.8 0.8 0 1 0 1.6 0a0.8 0.8 0 1 0 -1.6 0M126.1 231.6a0.8 0.8 0 1 0 1.6 0a0.8 0.8 0 1 0 -1.6 0M121.7 225.8a0.8 0.8 0 1 0 1.6 0a0.8 0.8 0 1 0 -1.6 0M128.8 226.9a0.8 0.8 0 1 0 1.6 0a0.8 0.8 0 1 0 -1.6 0M134.5 229.2a0.8 0.8 0 1 0 1.6 0a0.8 0.8 0 1 0 -1.6 0M122.9 231.8a0.8 0.8 0 1 0 1.6 0a0.8 0.8 0 1 0 -1.6 0M128.7 229.2a0.8 0.8 0 1 0 1.6 0a0.8 0.8 0 1 0 -1.6 0M118.9 230.9a0.8 0.8 0 1 0 1.6 0a0.8 0.8 0 1 0 -1.6 0M118.4 238.8a0.8 0.8 0 1 0 1.6 0a0.8 0.8 0 1 0 -1.6 0M117.4 234.3a0.8 0.8 0 1 0 1.6 0a0.8 0.8 0 1 0 -1.6 0M130.0 232.3a0.8 0.8 0 1 0 1.6 0a0.8 0.8 0 1 0 -1.6 0M129.8 225.0a0.8 0.8 0 1 0 1.6 0a0.8 0.8 0 1 0 -1.6 0M125.8 232.0a0.8 0.8 0 1 0 1.6 0a0.8 0.8 0 1 0 -1.6 0M121.2 226.9a0.8 0.8 0 1 0 1.6 0a0.8 0.8 0 1 0 -1.6 0M118.1 237.7a0.8 0.8 0 1 0 1.6 0a0.8 0.8 0 1 0 -1.6 0M124.8 234.4a0.8 0.8 0 1 0 1.6 0a0.8 0.8 0 1 0 -1.6 0M122.3 239.6a0.8 0.8 0 1 0 1.6 0a0.8 0.8 0 1 0 -1.6 0M118.4 237.0a0.8 0.8 0 1 0 1.6 0a0.8 0.8 0 1 0 -1.6 0M134.0 232.2a0.8 0.8 0 1 0 1.6 0a0.8 0.8 0 1 0 -1.6 0M125.4 238.4a0.8 0.8 0 1 0 1.6 0a0.8 0.8 0 1 0 -1.6 0M124.2 228.5a0.8 0.8 0 1 0 1.6 0a0.8 0.8 0 1 0 -1.6 0M124.7 223.0a0.8 0.8 0 1 0 1.6 0a0.8 0.8 0 1 0 -1.6 0M136.9 239.8a0.8 0.8 0 1 0 1.6 0a0.8 0.8 0 1 0 -1.6 0M125.0 226.8a0.8 0.8 0 1 0 1.6 0a0.8 0.8 0 1 0 -1.6 0M128.9 239.6a0.8 0.8 0 1 0 1.6 0a0.8 0.8 0 1 0 -1.6 0M132.4 226.9a0.8 0.8 0 1 0 1.6 0a0.8 0.8 0 1 0 -1.6 0M121.0 235.7a0.8 0.8 0 1 0 1.6 0a0.8 0.8 0 1 0 -1.6 0M121.6 225.0a0.8 0.8 0 1 0 1.6 0a0.8 0.8 0 1 0 -1.6 0M127.4 237.1a0.8 0.8 0 1 0 1.6 0a0.8 0.8 0 1 0 -1.6 0M130.2 237.9a0.8 0.8 0 1 0 1.6 0a0.8 0.8 0 1 0 -1.6 0M122.2 238.7a0.8 0.8 0 1 0 1.6 0a0.8 0.8 0 1 0 -1.6 0M120.8 236.5a0.8 0.8 0 1 0 1.6 0a0.8 0.8 0 1 0 -1.6 0M136.2 236.5a0.8 0.8 0 1 0 1.6 0a0.8 0.8 0 1 0 -1.6 0M125.2 231.9a0.8 0.8 0 1 0 1.6 0a0.8 0.8 0 1 0 -1.6 0M135.0 238.2a0.8 0.8 0 1 0 1.6 0a0.8 0.8 0 1 0 -1.6 0M124.9 236.0a0.8 0.8 0 1 0 1.6 0a0.8 0.8 0 1 0 -1.6 0M119.7 229.8a0.8 0.8 0 1 0 1.6 0a0.8 0.8 0 1 0 -1.6 0M137.2 231.1a0.8 0.8 0 1 0 1.6 0a0.8 0.8 0 1 0 -1.6 0M132.1 234.5a0.8 0.8 0 1 0 1.6 0a0.8 0.8 0 1 0 -1.6 0M135.9 237.3a0.8 0.8 0 1 0 1.6 0a0.8 0.8 0 1 0 -1.6 0M122.8 229.4a0.8 0.8 0 1 0 1.6 0a0.8 0.8 0 1 0 -1.6 0M124.7 235.8a0.8 0.8 0 1 0 1.6 0a0.8 0.8 0 1 0 -1.6 0M125.3 231.4a0.8 0.8 0 1 0 1.6 0a0.8 0.8 0 1 0 -1.6 0M128.9 236.4a0.8 0.8 0 1 0 1.6 0a0.8 0.8 0 1 0 -1.6 0M127.0 229.5a0.8 0.8 0 1 0 1.6 0a0.8 0.8 0 1 0 -1.6 0M132.4 230.2a0.8 0.8 0 1 0 1.6 0a0.8 0.8 0 1 0 -1.6 0M138.2 237.9a0.8 0.8 0 1 0 1.6 0a0.8 0.8 0 1 0 -1.6 0M119.9 239.0a0.8 0.8 0 1 0 1.6 0a0.8 0.8 0 1 0 -1.6 0M123.4 232.0a0.8 0.8 0 1 0 1.6 0a0.8 0.8 0 1 0 -1.6 0M135.3 236.8a0.8 0.8 0 1 0 1.6 0a0.8 0.8 0 1 0 -1.6 0M129.4 237.9a0.8 0.8 0 1 0 1.6 0a0.8 0.8 0 1 0 -1.6 0M125.8 225.9a0.8 0.8 0 1 0 1.6 0a0.8 0.8 0 1 0 -1.6 0M126.5 228.1a0.8 0.8 0 1 0 1.6 0a0.8 0.8 0 1 0 -1.6 0M119.3 237.5a0.8 0.8 0 1 0 1.6 0a0.8 0.8 0 1 0 -1.6 0M132.6 231.2a0.8 0.8 0 1 0 1.6 0a0.8 0.8 0 1 0 -1.6 0M130.3 231.0a0.8 0.8 0 1 0 1.6 0a0.8 0.8 0 1 0 -1.6 0M117.5 236.5a0.8 0.8 0 1 0 1.6 0a0.8 0.8 0 1 0 -1.6 0M118.2 234.3a0.8 0.8 0 1 0 1.6 0a0.8 0.8 0 1 0 -1.6 0M121.7 239.7a0.8 0.8 0 1 0 1.6 0a0.8 0.8 0 1 0 -1.6 0M134.1 235.3a0.8 0.8 0 1 0 1.6 0a0.8 0.8 0 1 0 -1.6 0M131.6 229.9a0.8 0.8 0 1 0 1.6 0a0.8 0.8 0 1 0 -1.6 0M129.1 227.6a0.8 0.8 0 1 0 1.6 0a0.8 0.8 0 1 0 -1.6 0M121.3 228.4a0.8 0.8 0 1 0 1.6 0a0.8 0.8 0 1 0 -1.6 0M125.5 231.9a0.8 0.8 0 1 0 1.6 0a0.8 0.8 0 1 0 -1.6 0M135.9 237.7a0.8 0.8 0 1 0 1.6 0a0.8 0.8 0 1 0 -1.6 0M124.6 224.4a0.8 0.8 0 1 0 1.6 0a0.8 0.8 0 1 0 -1.6 0M116.9 238.7a0.8 0.8 0 1 0 1.6 0a0.8 0.8 0 1 0 -1.6 0M129.5 229.5a0.8 0.8 0 1 0 1.6 0a0.8 0.8 0 1 0 -1.6 0M130.8 233.6a0.8 0.8 0 1 0 1.6 0a0.8 0.8 0 1 0 -1.6 0M136.9 239.9a0.8 0.8 0 1 0 1.6 0a0.8 0.8 0 1 0 -1.6 0M122.9 236.0a0.8 0.8 0 1 0 1.6 0a0.8 0.8 0 1 0 -1.6 0M122.1 238.2a0.8 0.8 0 1 0 1.6 0a0.8 0.8 0 1 0 -1.6 0M129.7 233.8a0.8 0.8 0 1 0 1.6 0a0.8 0.8 0 1 0 -1.6 0M129.3 234.2a0.8 0.8 0 1 0 1.6 0a0.8 0.8 0 1 0 -1.6 0M128.9 233.7a0.8 0.8 0 1 0 1.6 0a0.8 0.8 0 1 0 -1.6 0M130.0 228.3a0.8 0.8 0 1 0 1.6 0a0.8 0.8 0 1 0 -1.6 0M121.8 235.0a0.8 0.8 0 1 0 1.6 0a0.8 0.8 0 1 0 -1.6 0M122.6 235.2a0.8 0.8 0 1 0 1.6 0a0.8 0.8 0 1 0 -1.6 0M136.1 236.5a0.8 0.8 0 1 0 1.6 0a0.8 0.8 0 1 0 -1.6 0M127.6 239.2a0.8 0.8 0 1 0 1.6 0a0.8 0.8 0 1 0 -1.6 0M117.5 239.6a0.8 0.8 0 1 0 1.6 0a0.8 0.8 0 1 0 -1.6 0M129.7 234.5a0.8 0.8 0 1 0 1.6 0a0.8 0.8 0 1 0 -1.6 0M121.0 239.7a0.8 0.8 0 1 0 1.6 0a0.8 0.8 0 1 0 -1.6 0M124.2 225.1a0.8 0.8 0 1 0 1.6 0a0.8 0.8 0 1 0 -1.6 0M126.0 238.6a0.8 0.8 0 1 0 1.6 0a0.8 0.8 0 1 0 -1.6 0M137.5 233.6a0.8 0.8 0 1 0 1.6 0a0.8 0.8 0 1 0 -1.6 0M129.2 237.5a0.8 0.8 0 1 0 1.6 0a0.8 0.8 0 1 0 -1.6 0M120.1 230.2a0.8 0.8 0 1 0 1.6 0a0.8 0.8 0 1 0 -1.6 0M128.3 237.0a0.8 0.8 0 1 0 1.6 0a0.8 0.8 0 1 0 -1.6 0M125.7 234.8a0.8 0.8 0 1 0 1.6 0a0.8 0.8 0 1 0 -1.6 0M123.8 228.1a0.8 0.8 0 1 0 1.6 0a0.8 0.8 0 1 0 -1.6 0M123.7 235.6a0.8 0.8 0 1 0 1.6 0a0.8 0.8 0 1 0 -1.6 0M130.0 230.2a0.8 0.8 0 1 0 1.6 0a0.8 0.8 0 1 0 -1.6 0M123.7 229.7a0.8 0.8 0 1 0 1.6 0a0.8 0.8 0 1 0 -1.6 0M130.1 231.3a0.8 0.8 0 1 0 1.6 0a0.8 0.8 0 1 0 -1.6 0M120.7 239.0a0.8 0.8 0 1 0 1.6 0a0.8 0.8 0 1 0 -1.6 0M120.6 233.5a0.8 0.8 0 1 0 1.6 0a0.8 0.8 0 1 0 -1.6 0M119.3 232.1a0.8 0.8 0 1 0 1.6 0a0.8 0.8 0 1 0 -1.6 0M128.2 233.2a0.8 0.8 0 1 0 1.6 0a0.8 0.8 0 1 0 -1.6 0M133.7 234.8a0.8 0.8 0 1 0 1.6 0a0.8 0.8 0 1 0 -1.6 0M132.2 231.6a0.8 0.8 0 1 0 1.6 0a0.8 0.8 0 1 0 -1.6 0M122.7 237.8a0.8 0.8 0 1 0 1.6 0a0.8 0.8 0 1 0 -1.6 0M125.8 228.2a0.8 0.8 0 1 0 1.6 0a0.8 0.8 0 1 0 -1.6 0M118.9 238.1a0.8 0.8 0 1 0 1.6 0a0.8 0.8 0 1 0 -1.6 0M124.2 222.9a0.8 0.8 0 1 0 1.6 0a0.8 0.8 0 1 0 -1.6 0M121.9 227.4a0.8 0.8 0 1 0 1.6 0a0.8 0.8 0 1 0 -1.6 0M127.0 226.5a0.8 0.8 0 1 0 1.6 0a0.8 0.8 0 1 0 -1.6 0M126.4 226.9a0.8 0.8 0 1 0 1.6 0a0.8 0.8 0 1 0 -1.6 0M131.4 230.4a0.8 0.8 0 1 0 1.6 0a0.8 0.8 0 1 0 -1.6 0M119.5 236.9a0.8 0.8 0 1 0 1.6 0a0.8 0.8 0 1 0 -1.6 0M133.2 239.4a0.8 0.8 0 1 0 1.6 0a0.8 0.8 0 1 0 -1.6 0M135.6 234.4a0.8 0.8 0 1 0 1.6 0a0.8 0.8 0 1 0 -1.6 0M127.9 232.6a0.8 0.8 0 1 0 1.6 0a0.8 0.8 0 1 0 -1.6 0M132.5 233.8a0.8 0.8 0 1 0 1.6 0a0.8 0.8 0 1 0 -1.6 0M128.2 234.1a0.8 0.8 0 1 0 1.6 0a0.8 0.8 0 1 0 -1.6 0M126.6 227.5a0.8 0.8 0 1 0 1.6 0a0.8 0.8 0 1 0 -1.6 0M136.7 237.1a0.8 0.8 0 1 0 1.6 0a0.8 0.8 0 1 0 -1.6 0M124.7 227.4a0.8 0.8 0 1 0 1.6 0a0.8 0.8 0 1 0 -1.6 0M124.0 233.6a0.8 0.8 0 1 0 1.6 0a0.8 0.8 0 1 0 -1.6 0M118.7 230.9a0.8 0.8 0 1 0 1.6 0a0.8 0.8 0 1 0 -1.6 0M137.9 238.5a0.8 0.8 0 1 0 1.6 0a0.8 0.8 0 1 0 -1.6 0M117.5 235.7a0.8 0.8 0 1 0 1.6 0a0.8 0.8 0 1 0 -1.6 0M124.8 231.4a0.8 0.8 0 1 0 1.6 0a0.8 0.8 0 1 0 -1.6 0M119.9 235.4a0.8 0.8 0 1 0 1.6 0a0.8 0.8 0 1 0 -1.6 0M124.9 229.2a0.8 0.8 0 1 0 1.6 0a0.8 0.8 0 1 0 -1.6 0M125.9 226.7a0.8 0.8 0 1 0 1.6 0a0.8 0.8 0 1 0 -1.6 0M119.4 233.0a0.8 0.8 0 1 0 1.6 0a0.8 0.8 0 1 0 -1.6 0M131.6 235.7a0.8 0.8 0 1 0 1.6 0a0.8 0.8 0 1 0 -1.6 0M118.7 232.2a0.8 0.8 0 1 0 1.6 0a0.8 0.8 0 1 0 -1.6 0M122.4 228.9a0.8 0.8 0 1 0 1.6 0a0.8 0.8 0 1 0 -1.6 0M124.2 237.4a0.8 0.8 0 1 0 1.6 0a0.8 0.8 0 1 0 -1.6 0M134.9 235.4a0.8 0.8 0 1 0 1.6 0a0.8 0.8 0 1 0 -1.6 0M118.7 235.1a0.8 0.8 0 1 0 1.6 0a0.8 0.8 0 1 0 -1.6 0M134.0 238.4a0.8 0.8 0 1 0 1.6 0a0.8 0.8 0 1 0 -1.6 0M131.2 227.9a0.8 0.8 0 1 0 1.6 0a0.8 0.8 0 1 0 -1.6 0M127.8 226.1a0.8 0.8 0 1 0 1.6 0a0.8 0.8 0 1 0 -1.6 0M118.9 236.1a0.8 0.8 0 1 0 1.6 0a0.8 0.8 0 1 0 -1.6 0M126.4 229.5a0.8 0.8 0 1 0 1.6 0a0.8 0.8 0 1 0 -1.6 0M128.4 223.6a0.8 0.8 0 1 0 1.6 0a0.8 0.8 0 1 0 -1.6 0M125.4 228.7a0.8 0.8 0 1 0 1.6 0a0.8 0.8 0 1 0 -1.6 0M127.2 235.4a0.8 0.8 0 1 0 1.6 0a0.8 0.8 0 1 0 -1.6 0M135.3 233.3a0.8 0.8 0 1 0 1.6 0a0.8 0.8 0 1 0 -1.6 0M126.2 223.3a0.8 0.8 0 1 0 1.6 0a0.8 0.8 0 1 0 -1.6 0M121.3 236.2a0.8 0.8 0 1 0 1.6 0a0.8 0.8 0 1 0 -1.6 0M133.7 229.1a0.8 0.8 0 1 0 1.6 0a0.8 0.8 0 1 0 -1.6 0M126.9 226.9a0.8 0.8 0 1 0 1.6 0a0.8 0.8 0 1 0 -1.6 0M136.9 236.3a0.8 0.8 0 1 0 1.6 0a0.8 0.8 0 1 0 -1.6 0M138.0 233.7a0.8 0.8 0 1 0 1.6 0a0.8 0.8 0 1 0 -1.6 0M123.0 231.1a0.8 0.8 0 1 0 1.6 0a0.8 0.8 0 1 0 -1.6 0M133.9 234.7a0.8 0.8 0 1 0 1.6 0a0.8 0.8 0 1 0 -1.6 0M128.3 231.9a0.8 0.8 0 1 0 1.6 0a0.8 0.8 0 1 0 -1.6 0M131.6 234.0a0.8 0.8 0 1 0 1.6 0a0.8 0.8 0 1 0 -1.6 0M124.3 229.1a0.8 0.8 0 1 0 1.6 0a0.8 0.8 0 1 0 -1.6 0M128.0 234.3a0.8 0.8 0 1 0 1.6 0a0.8 0.8 0 1 0 -1.6 0M128.5 231.5a0.8 0.8 0 1 0 1.6 0a0.8 0.8 0 1 0 -1.6 0M135.1 237.5a0.8 0.8 0 1 0 1.6 0a0.8 0.8 0 1 0 -1.6 0M122.9 227.3a0.8 0.8 0 1 0 1.6 0a0.8 0.8 0 1 0 -1.6 0M129.2 226.3a0.8 0.8 0 1 0 1.6 0a0.8 0.8 0 1 0 -1.6 0M124.4 231.9a0.8 0.8 0 1 0 1.6 0a0.8 0.8 0 1 0 -1.6 0M127.3 224.3a0.8 0.8 0 1 0 1.6 0a0.8 0.8 0 1 0 -1.6 0M132.9 228.6a0.8 0.8 0 1 0 1.6 0a0.8 0.8 0 1 0 -1.6 0M129.5 228.2a0.8 0.8 0 1 0 1.6 0a0.8 0.8 0 1 0 -1.6 0M125.9 233.2a0.8 0.8 0 1 0 1.6 0a0.8 0.8 0 1 0 -1.6 0M120.7 226.2a0.8 0.8 0 1 0 1.6 0a0.8 0.8 0 1 0 -1.6 0M124.1 230.9a0.8 0.8 0 1 0 1.6 0a0.8 0.8 0 1 0 -1.6 0M122.5 226.2a0.8 0.8 0 1 0 1.6 0a0.8 0.8 0 1 0 -1.6 0M123.8 224.9a0.8 0.8 0 1 0 1.6 0a0.8 0.8 0 1 0 -1.6 0M123.9 224.7a0.8 0.8 0 1 0 1.6 0a0.8 0.8 0 1 0 -1.6 0M117.5 235.7a0.8 0.8 0 1 0 1.6 0a0.8 0.8 0 1 0 -1.6 0M122.0 227.7a0.8 0.8 0 1 0 1.6 0a0.8 0.8 0 1 0 -1.6 0M127.5 233.4a0.8 0.8 0 1 0 1.6 0a0.8 0.8 0 1 0 -1.6 0M136.4 238.3a0.8 0.8 0 1 0 1.6 0a0.8 0.8 0 1 0 -1.6 0M118.9 233.1a0.8 0.8 0 1 0 1.6 0a0.8 0.8 0 1 0 -1.6 0M130.8 225.5a0.8 0.8 0 1 0 1.6 0a0.8 0.8 0 1 0 -1.6 0M130.5 235.2a0.8 0.8 0 1 0 1.6 0a0.8 0.8 0 1 0 -1.6 0M129.9 228.6a0.8 0.8 0 1 0 1.6 0a0.8 0.8 0 1 0 -1.6 0M137.8 237.3a0.8 0.8 0 1 0 1.6 0a0.8 0.8 0 1 0 -1.6 0M125.5 239.4a0.8 0.8 0 1 0 1.6 0a0.8 0.8 0 1 0 -1.6 0M123.2 227.1a0.8 0.8 0 1 0 1.6 0a0.8 0.8 0 1 0 -1.6 0M130.2 229.8a0.8 0.8 0 1 0 1.6 0a0.8 0.8 0 1 0 -1.6 0M131.2 230.6a0.8 0.8 0 1 0 1.6 0a0.8 0.8 0 1 0 -1.6 0M124.0 227.7a0.8 0.8 0 1 0 1.6 0a0.8 0.8 0 1 0 -1.6 0M137.7 235.8a0.8 0.8 0 1 0 1.6 0a0.8 0.8 0 1 0 -1.6 0M121.8 228.0a0.8 0.8 0 1 0 1.6 0a0.8 0.8 0 1 0 -1.6 0M123.7 228.1a0.8 0.8 0 1 0 1.6 0a0.8 0.8 0 1 0 -1.6 0M121.5 225.1a0.8 0.8 0 1 0 1.6 0a0.8 0.8 0 1 0 -1.6 0M119.9 235.0a0.8 0.8 0 1 0 1.6 0a0.8 0.8 0 1 0 -1.6 0M129.3 230.7a0.8 0.8 0 1 0 1.6 0a0.8 0.8 0 1 0 -1.6 0M133.5 236.4a0.8 0.8 0 1 0 1.6 0a0.8 0.8 0 1 0 -1.6 0M126.3 239.9a0.8 0.8 0 1 0 1.6 0a0.8 0.8 0 1 0 -1.6 0M128.8 227.6a0.8 0.8 0 1 0 1.6 0a0.8 0.8 0 1 0 -1.6 0M130.7 231.0a0.8 0.8 0 1 0 1.6 0a0.8 0.8 0 1 0 -1.6 0M124.0 238.8a0.8 0.8 0 1 0 1.6 0a0.8 0.8 0 1 0 -1.6 0M130.1 230.8a0.8 0.8 0 1 0 1.6 0a0.8 0.8 0 1 0 -1.6 0M124.0 226.9a0.8 0.8 0 1 0 1.6 0a0.8 0.8 0 1 0 -1.6 0M132.3 236.5a0.8 0.8 0 1 0 1.6 0a0.8 0.8 0 1 0 -1.6 0M124.9 236.8a0.8 0.8 0 1 0 1.6 0a0.8 0.8 0 1 0 -1.6 0M118.0 233.6a0.8 0.8 0 1 0 1.6 0a0.8 0.8 0 1 0 -1.6 0M127.5 233.7a0.8 0.8 0 1 0 1.6 0a0.8 0.8 0 1 0 -1.6 0M134.2 228.7a0.8 0.8 0 1 0 1.6 0a0.8 0.8 0 1 0 -1.6 0M132.9 235.5a0.8 0.8 0 1 0 1.6 0a0.8 0.8 0 1 0 -1.6 0M127.1 238.7a0.8 0.8 0 1 0 1.6 0a0.8 0.8 0 1 0 -1.6 0M123.1 237.2a0.8 0.8 0 1 0 1.6 0a0.8 0.8 0 1 0 -1.6 0M130.6 229.6a0.8 0.8 0 1 0 1.6 0a0.8 0.8 0 1 0 -1.6 0M125.0 226.3a0.8 0.8 0 1 0 1.6 0a0.8 0.8 0 1 0 -1.6 0M128.5 230.6a0.8 0.8 0 1 0 1.6 0a0.8 0.8 0 1 0 -1.6 0M128.6 226.7a0.8 0.8 0 1 0 1.6 0a0.8 0.8 0 1 0 -1.6 0M120.8 234.8a0.8 0.8 0 1 0 1.6 0a0.8 0.8 0 1 0 -1.6 0M133.1 230.5a0.8 0.8 0 1 0 1.6 0a0.8 0.8 0 1 0 -1.6 0M121.6 229.6a0.8 0.8 0 1 0 1.6 0a0.8 0.8 0 1 0 -1.6 0M129.4 227.5a0.8 0.8 0 1 0 1.6 0a0.8 0.8 0 1 0 -1.6 0M117.2 239.3a0.8 0.8 0 1 0 1.6 0a0.8 0.8 0 1 0 -1.6 0M131.0 228.9a0.8 0.8 0 1 0 1.6 0a0.8 0.8 0 1 0 -1.6 0M120.6 229.5a0.8 0.8 0 1 0 1.6 0a0.8 0.8 0 1 0 -1.6 0M123.7 238.8a0.8 0.8 0 1 0 1.6 0a0.8 0.8 0 1 0 -1.6 0M120.2 228.2a0.8 0.8 0 1 0 1.6 0a0.8 0.8 0 1 0 -1.6 0M119.4 228.4a0.8 0.8 0 1 0 1.6 0a0.8 0.8 0 1 0 -1.6 0M121.7 239.5a0.8 0.8 0 1 0 1.6 0a0.8 0.8 0 1 0 -1.6 0M130.2 227.2a0.8 0.8 0 1 0 1.6 0a0.8 0.8 0 1 0 -1.6 0M133.3 231.9a0.8 0.8 0 1 0 1.6 0a0.8 0.8 0 1 0 -1.6 0M134.7 230.2a0.8 0.8 0 1 0 1.6 0a0.8 0.8 0 1 0 -1.6 0M125.3 236.0a0.8 0.8 0 1 0 1.6 0a0.8 0.8 0 1 0 -1.6 0M124.8 237.9a0.8 0.8 0 1 0 1.6 0a0.8 0.8 0 1 0 -1.6 0M124.4 233.0a0.8 0.8 0 1 0 1.6 0a0.8 0.8 0 1 0 -1.6 0M126.4 222.4a0.8 0.8 0 1 0 1.6 0a0.8 0.8 0 1 0 -1.6 0M135.5 233.9a0.8 0.8 0 1 0 1.6 0a0.8 0.8 0 1 0 -1.6 0M135.9 235.9a0.8 0.8 0 1 0 1.6 0a0.8 0.8 0 1 0 -1.6 0M133.3 237.7a0.8 0.8 0 1 0 1.6 0a0.8 0.8 0 1 0 -1.6 0M123.6 230.5a0.8 0.8 0 1 0 1.6 0a0.8 0.8 0 1 0 -1.6 0M132.5 230.0a0.8 0.8 0 1 0 1.6 0a0.8 0.8 0 1 0 -1.6 0M128.3 231.9a0.8 0.8 0 1 0 1.6 0a0.8 0.8 0 1 0 -1.6 0M122.7 228.4a0.8 0.8 0 1 0 1.6 0a0.8 0.8 0 1 0 -1.6 0M125.2 230.1a0.8 0.8 0 1 0 1.6 0a0.8 0.8 0 1 0 -1.6 0M126.7 224.2a0.8 0.8 0 1 0 1.6 0a0.8 0.8 0 1 0 -1.6 0M123.5 226.4a0.8 0.8 0 1 0 1.6 0a0.8 0.8 0 1 0 -1.6 0M125.7 226.0a0.8 0.8 0 1 0 1.6 0a0.8 0.8 0 1 0 -1.6 0M125.6 232.5a0.8 0.8 0 1 0 1.6 0a0.8 0.8 0 1 0 -1.6 0M122.2 228.7a0.8 0.8 0 1 0 1.6 0a0.8 0.8 0 1 0 -1.6 0M131.9 234.0a0.8 0.8 0 1 0 1.6 0a0.8 0.8 0 1 0 -1.6 0M117.8 234.6a0.8 0.8 0 1 0 1.6 0a0.8 0.8 0 1 0 -1.6 0M134.0 229.2a0.8 0.8 0 1 0 1.6 0a0.8 0.8 0 1 0 -1.6 0M119.6 229.2a0.8 0.8 0 1 0 1.6 0a0.8 0.8 0 1 0 -1.6 0M123.7 228.0a0.8 0.8 0 1 0 1.6 0a0.8 0.8 0 1 0 -1.6 0M119.2 235.7a0.8 0.8 0 1 0 1.6 0a0.8 0.8 0 1 0 -1.6 0M128.5 239.5a0.8 0.8 0 1 0 1.6 0a0.8 0.8 0 1 0 -1.6 0M133.8 230.2a0.8 0.8 0 1 0 1.6 0a0.8 0.8 0 1 0 -1.6 0M119.9 236.9a0.8 0.8 0 1 0 1.6 0a0.8 0.8 0 1 0 -1.6 0M120.0 233.5a0.8 0.8 0 1 0 1.6 0a0.8 0.8 0 1 0 -1.6 0M121.4 231.1a0.8 0.8 0 1 0 1.6 0a0.8 0.8 0 1 0 -1.6 0M124.3 230.5a0.8 0.8 0 1 0 1.6 0a0.8 0.8 0 1 0 -1.6 0M123.9 230.3a0.8 0.8 0 1 0 1.6 0a0.8 0.8 0 1 0 -1.6 0M126.3 239.6a0.8 0.8 0 1 0 1.6 0a0.8 0.8 0 1 0 -1.6 0M135.9 235.3a0.8 0.8 0 1 0 1.6 0a0.8 0.8 0 1 0 -1.6 0M134.8 238.4a0.8 0.8 0 1 0 1.6 0a0.8 0.8 0 1 0 -1.6 0M125.8 230.7a0.8 0.8 0 1 0 1.6 0a0.8 0.8 0 1 0 -1.6 0M130.6 232.2a0.8 0.8 0 1 0 1.6 0a0.8 0.8 0 1 0 -1.6 0M117.7 236.4a0.8 0.8 0 1 0 1.6 0a0.8 0.8 0 1 0 -1.6 0M121.8 234.5a0.8 0.8 0 1 0 1.6 0a0.8 0.8 0 1 0 -1.6 0M124.4 239.3a0.8 0.8 0 1 0 1.6 0a0.8 0.8 0 1 0 -1.6 0M131.0 233.1a0.8 0.8 0 1 0 1.6 0a0.8 0.8 0 1 0 -1.6 0M122.4 231.4a0.8 0.8 0 1 0 1.6 0a0.8 0.8 0 1 0 -1.6 0M132.7 230.7a0.8 0.8 0 1 0 1.6 0a0.8 0.8 0 1 0 -1.6 0M123.7 239.8a0.8 0.8 0 1 0 1.6 0a0.8 0.8 0 1 0 -1.6 0M136.9 232.6a0.8 0.8 0 1 0 1.6 0a0.8 0.8 0 1 0 -1.6 0M125.1 230.4a0.8 0.8 0 1 0 1.6 0a0.8 0.8 0 1 0 -1.6 0M121.4 235.2a0.8 0.8 0 1 0 1.6 0a0.8 0.8 0 1 0 -1.6 0M136.1 240.0a0.8 0.8 0 1 0 1.6 0a0.8 0.8 0 1 0 -1.6 0M119.5 238.1a0.8 0.8 0 1 0 1.6 0a0.8 0.8 0 1 0 -1.6 0M127.8 238.3a0.8 0.8 0 1 0 1.6 0a0.8 0.8 0 1 0 -1.6 0M132.1 228.1a0.8 0.8 0 1 0 1.6 0a0.8 0.8 0 1 0 -1.6 0M126.6 227.7a0.8 0.8 0 1 0 1.6 0a0.8 0.8 0 1 0 -1.6 0M129.1 233.0a0.8 0.8 0 1 0 1.6 0a0.8 0.8 0 1 0 -1.6 0M122.4 237.1a0.8 0.8 0 1 0 1.6 0a0.8 0.8 0 1 0 -1.6 0M131.9 230.5a0.8 0.8 0 1 0 1.6 0a0.8 0.8 0 1 0 -1.6 0M124.1 229.9a0.8 0.8 0 1 0 1.6 0a0.8 0.8 0 1 0 -1.6 0M122.1 236.6a0.8 0.8 0 1 0 1.6 0a0.8 0.8 0 1 0 -1.6 0M127.6 228.3a0.8 0.8 0 1 0 1.6 0a0.8 0.8 0 1 0 -1.6 0M130.5 235.9a0.8 0.8 0 1 0 1.6 0a0.8 0.8 0 1 0 -1.6 0M123.0 226.9a0.8 0.8 0 1 0 1.6 0a0.8 0.8 0 1 0 -1.6 0M118.6 239.1a0.8 0.8 0 1 0 1.6 0a0.8 0.8 0 1 0 -1.6 0M132.2 234.1a0.8 0.8 0 1 0 1.6 0a0.8 0.8 0 1 0 -1.6 0M126.6 229.5a0.8 0.8 0 1 0 1.6 0a0.8 0.8 0 1 0 -1.6 0M129.6 234.6a0.8 0.8 0 1 0 1.6 0a0.8 0.8 0 1 0 -1.6 0M129.8 231.0a0.8 0.8 0 1 0 1.6 0a0.8 0.8 0 1 0 -1.6 0M134.7 234.8a0.8 0.8 0 1 0 1.6 0a0.8 0.8 0 1 0 -1.6 0M136.4 232.8a0.8 0.8 0 1 0 1.6 0a0.8 0.8 0 1 0 -1.6 0M136.5 233.8a0.8 0.8 0 1 0 1.6 0a0.8 0.8 0 1 0 -1.6 0M138.3 238.4a0.8 0.8 0 1 0 1.6 0a0.8 0.8 0 1 0 -1.6 0M126.3 239.0a0.8 0.8 0 1 0 1.6 0a0.8 0.8 0 1 0 -1.6 0M118.9 234.8a0.8 0.8 0 1 0 1.6 0a0.8 0.8 0 1 0 -1.6 0M127.5 237.5a0.8 0.8 0 1 0 1.6 0a0.8 0.8 0 1 0 -1.6 0M120.9 232.9a0.8 0.8 0 1 0 1.6 0a0.8 0.8 0 1 0 -1.6 0M120.2 237.4a0.8 0.8 0 1 0 1.6 0a0.8 0.8 0 1 0 -1.6 0M133.5 233.8a0.8 0.8 0 1 0 1.6 0a0.8 0.8 0 1 0 -1.6 0M136.7 239.8a0.8 0.8 0 1 0 1.6 0a0.8 0.8 0 1 0 -1.6 0M128.1 239.0a0.8 0.8 0 1 0 1.6 0a0.8 0.8 0 1 0 -1.6 0M125.8 229.4a0.8 0.8 0 1 0 1.6 0a0.8 0.8 0 1 0 -1.6 0M120.7 227.9a0.8 0.8 0 1 0 1.6 0a0.8 0.8 0 1 0 -1.6 0M136.2 232.5a0.8 0.8 0 1 0 1.6 0a0.8 0.8 0 1 0 -1.6 0M132.5 236.7a0.8 0.8 0 1 0 1.6 0a0.8 0.8 0 1 0 -1.6 0M137.0 235.1a0.8 0.8 0 1 0 1.6 0a0.8 0.8 0 1 0 -1.6 0M132.8 227.9a0.8 0.8 0 1 0 1.6 0a0.8 0.8 0 1 0 -1.6 0M132.9 237.3a0.8 0.8 0 1 0 1.6 0a0.8 0.8 0 1 0 -1.6 0M130.4 231.8a0.8 0.8 0 1 0 1.6 0a0.8 0.8 0 1 0 -1.6 0M127.1 232.2a0.8 0.8 0 1 0 1.6 0a0.8 0.8 0 1 0 -1.6 0M131.8 239.9a0.8 0.8 0 1 0 1.6 0a0.8 0.8 0 1 0 -1.6 0M123.2 239.2a0.8 0.8 0 1 0 1.6 0a0.8 0.8 0 1 0 -1.6 0M123.4 228.5a0.8 0.8 0 1 0 1.6 0a0.8 0.8 0 1 0 -1.6 0M131.8 231.8a0.8 0.8 0 1 0 1.6 0a0.8 0.8 0 1 0 -1.6 0M117.8 237.7a0.8 0.8 0 1 0 1.6 0a0.8 0.8 0 1 0 -1.6 0M125.2 227.3a0.8 0.8 0 1 0 1.6 0a0.8 0.8 0 1 0 -1.6 0M131.0 225.2a0.8 0.8 0 1 0 1.6 0a0.8 0.8 0 1 0 -1.6 0M133.3 231.5a0.8 0.8 0 1 0 1.6 0a0.8 0.8 0 1 0 -1.6 0M128.3 234.7a0.8 0.8 0 1 0 1.6 0a0.8 0.8 0 1 0 -1.6 0M124.6 237.9a0.8 0.8 0 1 0 1.6 0a0.8 0.8 0 1 0 -1.6 0M121.8 237.1a0.8 0.8 0 1 0 1.6 0a0.8 0.8 0 1 0 -1.6 0M131.7 231.3a0.8 0.8 0 1 0 1.6 0a0.8 0.8 0 1 0 -1.6 0M128.9 236.4a0.8 0.8 0 1 0 1.6 0a0.8 0.8 0 1 0 -1.6 0M134.8 235.0a0.8 0.8 0 1 0 1.6 0a0.8 0.8 0 1 0 -1.6 0M127.8 233.4a0.8 0.8 0 1 0 1.6 0a0.8 0.8 0 1 0 -1.6 0M134.3 230.7a0.8 0.8 0 1 0 1.6 0a0.8 0.8 0 1 0 -1.6 0M129.1 230.5a0.8 0.8 0 1 0 1.6 0a0.8 0.8 0 1 0 -1.6 0M135.0 237.6a0.8 0.8 0 1 0 1.6 0a0.8 0.8 0 1 0 -1.6 0M127.1 230.8a0.8 0.8 0 1 0 1.6 0a0.8 0.8 0 1 0 -1.6 0M129.4 225.8a0.8 0.8 0 1 0 1.6 0a0.8 0.8 0 1 0 -1.6 0M133.7 239.7a0.8 0.8 0 1 0 1.6 0a0.8 0.8 0 1 0 -1.6 0M118.9 230.9a0.8 0.8 0 1 0 1.6 0a0.8 0.8 0 1 0 -1.6 0M124.2 227.9a0.8 0.8 0 1 0 1.6 0a0.8 0.8 0 1 0 -1.6 0M131.8 232.6a0.8 0.8 0 1 0 1.6 0a0.8 0.8 0 1 0 -1.6 0M120.0 237.8a0.8 0.8 0 1 0 1.6 0a0.8 0.8 0 1 0 -1.6 0M125.9 223.3a0.8 0.8 0 1 0 1.6 0a0.8 0.8 0 1 0 -1.6 0M123.3 227.9a0.8 0.8 0 1 0 1.6 0a0.8 0.8 0 1 0 -1.6 0M133.5 233.4a0.8 0.8 0 1 0 1.6 0a0.8 0.8 0 1 0 -1.6 0M123.7 236.5a0.8 0.8 0 1 0 1.6 0a0.8 0.8 0 1 0 -1.6 0M136.2 234.8a0.8 0.8 0 1 0 1.6 0a0.8 0.8 0 1 0 -1.6 0M129.2 236.9a0.8 0.8 0 1 0 1.6 0a0.8 0.8 0 1 0 -1.6 0M127.5 237.5a0.8 0.8 0 1 0 1.6 0a0.8 0.8 0 1 0 -1.6 0M126.1 239.5a0.8 0.8 0 1 0 1.6 0a0.8 0.8 0 1 0 -1.6 0M125.0 225.4a0.8 0.8 0 1 0 1.6 0a0.8 0.8 0 1 0 -1.6 0M123.1 236.2a0.8 0.8 0 1 0 1.6 0a0.8 0.8 0 1 0 -1.6 0M121.3 230.3a0.8 0.8 0 1 0 1.6 0a0.8 0.8 0 1 0 -1.6 0M126.6 237.8a0.8 0.8 0 1 0 1.6 0a0.8 0.8 0 1 0 -1.6 0M129.9 226.0a0.8 0.8 0 1 0 1.6 0a0.8 0.8 0 1 0 -1.6 0M120.9 226.7a0.8 0.8 0 1 0 1.6 0a0.8 0.8 0 1 0 -1.6 0M122.5 224.5a0.8 0.8 0 1 0 1.6 0a0.8 0.8 0 1 0 -1.6 0M124.3 236.3a0.8 0.8 0 1 0 1.6 0a0.8 0.8 0 1 0 -1.6 0M124.6 234.3a0.8 0.8 0 1 0 1.6 0a0.8 0.8 0 1 0 -1.6 0M129.9 227.3a0.8 0.8 0 1 0 1.6 0a0.8 0.8 0 1 0 -1.6 0M125.2 222.4a0.8 0.8 0 1 0 1.6 0a0.8 0.8 0 1 0 -1.6 0M133.9 231.2a0.8 0.8 0 1 0 1.6 0a0.8 0.8 0 1 0 -1.6 0M119.5 238.5a0.8 0.8 0 1 0 1.6 0a0.8 0.8 0 1 0 -1.6 0M131.8 234.9a0.8 0.8 0 1 0 1.6 0a0.8 0.8 0 1 0 -1.6 0M117.3 236.7a0.8 0.8 0 1 0 1.6 0a0.8 0.8 0 1 0 -1.6 0M125.2 226.8a0.8 0.8 0 1 0 1.6 0a0.8 0.8 0 1 0 -1.6 0" fill="#22249a" opacity="0.9"/>
<path d="M164.6 227.2a0.75 0.75 0 1 0 1.5 0a0.75 0.75 0 1 0 -1.5 0M160.5 230.5a0.75 0.75 0 1 0 1.5 0a0.75 0.75 0 1 0 -1.5 0M155.1 232.0a0.75 0.75 0 1 0 1.5 0a0.75 0.75 0 1 0 -1.5 0M153.6 218.3a0.75 0.75 0 1 0 1.5 0a0.75 0.75 0 1 0 -1.5 0M161.0 225.6a0.75 0.75 0 1 0 1.5 0a0.75 0.75 0 1 0 -1.5 0M162.2 231.6a0.75 0.75 0 1 0 1.5 0a0.75 0.75 0 1 0 -1.5 0M170.0 239.5a0.75 0.75 0 1 0 1.5 0a0.75 0.75 0 1 0 -1.5 0M158.5 210.4a0.75 0.75 0 1 0 1.5 0a0.75 0.75 0 1 0 -1.5 0M158.5 212.2a0.75 0.75 0 1 0 1.5 0a0.75 0.75 0 1 0 -1.5 0M158.7 221.0a0.75 0.75 0 1 0 1.5 0a0.75 0.75 0 1 0 -1.5 0M153.5 235.5a0.75 0.75 0 1 0 1.5 0a0.75 0.75 0 1 0 -1.5 0M153.6 211.1a0.75 0.75 0 1 0 1.5 0a0.75 0.75 0 1 0 -1.5 0M155.1 214.6a0.75 0.75 0 1 0 1.5 0a0.75 0.75 0 1 0 -1.5 0M161.9 238.7a0.75 0.75 0 1 0 1.5 0a0.75 0.75 0 1 0 -1.5 0M166.4 209.9a0.75 0.75 0 1 0 1.5 0a0.75 0.75 0 1 0 -1.5 0M157.1 209.4a0.75 0.75 0 1 0 1.5 0a0.75 0.75 0 1 0 -1.5 0M158.2 219.1a0.75 0.75 0 1 0 1.5 0a0.75 0.75 0 1 0 -1.5 0M165.3 209.7a0.75 0.75 0 1 0 1.5 0a0.75 0.75 0 1 0 -1.5 0M163.8 230.8a0.75 0.75 0 1 0 1.5 0a0.75 0.75 0 1 0 -1.5 0M164.8 226.3a0.75 0.75 0 1 0 1.5 0a0.75 0.75 0 1 0 -1.5 0M164.6 233.3a0.75 0.75 0 1 0 1.5 0a0.75 0.75 0 1 0 -1.5 0M158.3 211.2a0.75 0.75 0 1 0 1.5 0a0.75 0.75 0 1 0 -1.5 0M159.1 217.0a0.75 0.75 0 1 0 1.5 0a0.75 0.75 0 1 0 -1.5 0M154.9 211.4a0.75 0.75 0 1 0 1.5 0a0.75 0.75 0 1 0 -1.5 0M152.7 230.0a0.75 0.75 0 1 0 1.5 0a0.75 0.75 0 1 0 -1.5 0M157.2 227.8a0.75 0.75 0 1 0 1.5 0a0.75 0.75 0 1 0 -1.5 0M153.6 214.9a0.75 0.75 0 1 0 1.5 0a0.75 0.75 0 1 0 -1.5 0M155.5 228.2a0.75 0.75 0 1 0 1.5 0a0.75 0.75 0 1 0 -1.5 0M166.9 218.3a0.75 0.75 0 1 0 1.5 0a0.75 0.75 0 1 0 -1.5 0M155.4 212.8a0.75 0.75 0 1 0 1.5 0a0.75 0.75 0 1 0 -1.5 0M165.0 217.5a0.75 0.75 0 1 0 1.5 0a0.75 0.75 0 1 0 -1.5 0M157.4 223.7a0.75 0.75 0 1 0 1.5 0a0.75 0.75 0 1 0 -1.5 0M164.8 218.8a0.75 0.75 0 1 0 1.5 0a0.75 0.75 0 1 0 -1.5 0M159.8 221.0a0.75 0.75 0 1 0 1.5 0a0.75 0.75 0 1 0 -1.5 0M152.7 231.9a0.75 0.75 0 1 0 1.5 0a0.75 0.75 0 1 0 -1.5 0M155.6 224.7a0.75 0.75 0 1 0 1.5 0a0.75 0.75 0 1 0 -1.5 0M160.4 239.6a0.75 0.75 0 1 0 1.5 0a0.75 0.75 0 1 0 -1.5 0M161.1 227.6a0.75 0.75 0 1 0 1.5 0a0.75 0.75 0 1 0 -1.5 0M154.2 216.1a0.75 0.75 0 1 0 1.5 0a0.75 0.75 0 1 0 -1.5 0M154.7 218.8a0.75 0.75 0 1 0 1.5 0a0.75 0.75 0 1 0 -1.5 0M156.2 228.7a0.75 0.75 0 1 0 1.5 0a0.75 0.75 0 1 0 -1.5 0M152.6 226.0a0.75 0.75 0 1 0 1.5 0a0.75 0.75 0 1 0 -1.5 0M155.6 216.2a0.75 0.75 0 1 0 1.5 0a0.75 0.75 0 1 0 -1.5 0M154.3 225.6a0.75 0.75 0 1 0 1.5 0a0.75 0.75 0 1 0 -1.5 0M160.4 216.6a0.75 0.75 0 1 0 1.5 0a0.75 0.75 0 1 0 -1.5 0M158.0 212.0a0.75 0.75 0 1 0 1.5 0a0.75 0.75 0 1 0 -1.5 0M153.2 233.0a0.75 0.75 0 1 0 1.5 0a0.75 0.75 0 1 0 -1.5 0M156.7 215.5a0.75 0.75 0 1 0 1.5 0a0.75 0.75 0 1 0 -1.5 0M156.7 220.6a0.75 0.75 0 1 0 1.5 0a0.75 0.75 0 1 0 -1.5 0M164.0 226.6a0.75 0.75 0 1 0 1.5 0a0.75 0.75 0 1 0 -1.5 0M155.5 215.5a0.75 0.75 0 1 0 1.5 0a0.75 0.75 0 1 0 -1.5 0M153.8 236.1a0.75 0.75 0 1 0 1.5 0a0.75 0.75 0 1 0 -1.5 0M168.9 219.8a0.75 0.75 0 1 0 1.5 0a0.75 0.75 0 1 0 -1.5 0M163.3 236.2a0.75 0.75 0 1 0 1.5 0a0.75 0.75 0 1 0 -1.5 0M162.1 235.0a0.75 0.75 0 1 0 1.5 0a0.75 0.75 0 1 0 -1.5 0M162.0 218.4a0.75 0.75 0 1 0 1.5 0a0.75 0.75 0 1 0 -1.5 0M153.5 235.3a0.75 0.75 0 1 0 1.5 0a0.75 0.75 0 1 0 -1.5 0M153.7 210.1a0.75 0.75 0 1 0 1.5 0a0.75 0.75 0 1 0 -1.5 0M159.8 213.6a0.75 0.75 0 1 0 1.5 0a0.75 0.75 0 1 0 -1.5 0M172.4 229.5a0.75 0.75 0 1 0 1.5 0a0.75 0.75 0 1 0 -1.5 0" fill="#b4303a" opacity="0.75"/>
<path d="M151.9 239.8a0.8 0.8 0 1 0 1.6 0a0.8 0.8 0 1 0 -1.6 0M151.4 219.0a0.8 0.8 0 1 0 1.6 0a0.8 0.8 0 1 0 -1.6 0M150.9 226.6a0.8 0.8 0 1 0 1.6 0a0.8 0.8 0 1 0 -1.6 0M153.8 235.6a0.8 0.8 0 1 0 1.6 0a0.8 0.8 0 1 0 -1.6 0M152.7 231.3a0.8 0.8 0 1 0 1.6 0a0.8 0.8 0 1 0 -1.6 0M150.3 235.7a0.8 0.8 0 1 0 1.6 0a0.8 0.8 0 1 0 -1.6 0M154.0 227.3a0.8 0.8 0 1 0 1.6 0a0.8 0.8 0 1 0 -1.6 0M151.0 227.2a0.8 0.8 0 1 0 1.6 0a0.8 0.8 0 1 0 -1.6 0M156.9 228.3a0.8 0.8 0 1 0 1.6 0a0.8 0.8 0 1 0 -1.6 0M155.6 226.2a0.8 0.8 0 1 0 1.6 0a0.8 0.8 0 1 0 -1.6 0M156.2 227.8a0.8 0.8 0 1 0 1.6 0a0.8 0.8 0 1 0 -1.6 0M155.3 231.0a0.8 0.8 0 1 0 1.6 0a0.8 0.8 0 1 0 -1.6 0M154.5 224.8a0.8 0.8 0 1 0 1.6 0a0.8 0.8 0 1 0 -1.6 0M151.8 233.6a0.8 0.8 0 1 0 1.6 0a0.8 0.8 0 1 0 -1.6 0M151.6 236.8a0.8 0.8 0 1 0 1.6 0a0.8 0.8 0 1 0 -1.6 0M150.3 229.5a0.8 0.8 0 1 0 1.6 0a0.8 0.8 0 1 0 -1.6 0M153.5 230.0a0.8 0.8 0 1 0 1.6 0a0.8 0.8 0 1 0 -1.6 0M151.2 230.2a0.8 0.8 0 1 0 1.6 0a0.8 0.8 0 1 0 -1.6 0M150.9 239.1a0.8 0.8 0 1 0 1.6 0a0.8 0.8 0 1 0 -1.6 0M152.0 233.6a0.8 0.8 0 1 0 1.6 0a0.8 0.8 0 1 0 -1.6 0M154.5 229.5a0.8 0.8 0 1 0 1.6 0a0.8 0.8 0 1 0 -1.6 0M154.1 234.4a0.8 0.8 0 1 0 1.6 0a0.8 0.8 0 1 0 -1.6 0M152.1 229.6a0.8 0.8 0 1 0 1.6 0a0.8 0.8 0 1 0 -1.6 0M151.9 218.3a0.8 0.8 0 1 0 1.6 0a0.8 0.8 0 1 0 -1.6 0M150.1 238.3a0.8 0.8 0 1 0 1.6 0a0.8 0.8 0 1 0 -1.6 0M154.0 222.5a0.8 0.8 0 1 0 1.6 0a0.8 0.8 0 1 0 -1.6 0M150.6 238.2a0.8 0.8 0 1 0 1.6 0a0.8 0.8 0 1 0 -1.6 0M153.7 224.1a0.8 0.8 0 1 0 1.6 0a0.8 0.8 0 1 0 -1.6 0M152.3 234.4a0.8 0.8 0 1 0 1.6 0a0.8 0.8 0 1 0 -1.6 0M150.1 235.1a0.8 0.8 0 1 0 1.6 0a0.8 0.8 0 1 0 -1.6 0M157.0 226.0a0.8 0.8 0 1 0 1.6 0a0.8 0.8 0 1 0 -1.6 0M151.9 239.8a0.8 0.8 0 1 0 1.6 0a0.8 0.8 0 1 0 -1.6 0M151.3 219.0a0.8 0.8 0 1 0 1.6 0a0.8 0.8 0 1 0 -1.6 0M156.4 222.1a0.8 0.8 0 1 0 1.6 0a0.8 0.8 0 1 0 -1.6 0M156.9 226.7a0.8 0.8 0 1 0 1.6 0a0.8 0.8 0 1 0 -1.6 0M154.5 231.0a0.8 0.8 0 1 0 1.6 0a0.8 0.8 0 1 0 -1.6 0M154.0 235.2a0.8 0.8 0 1 0 1.6 0a0.8 0.8 0 1 0 -1.6 0M154.9 232.0a0.8 0.8 0 1 0 1.6 0a0.8 0.8 0 1 0 -1.6 0M154.7 227.6a0.8 0.8 0 1 0 1.6 0a0.8 0.8 0 1 0 -1.6 0M150.1 238.4a0.8 0.8 0 1 0 1.6 0a0.8 0.8 0 1 0 -1.6 0M157.4 227.6a0.8 0.8 0 1 0 1.6 0a0.8 0.8 0 1 0 -1.6 0M150.9 236.9a0.8 0.8 0 1 0 1.6 0a0.8 0.8 0 1 0 -1.6 0M152.5 227.0a0.8 0.8 0 1 0 1.6 0a0.8 0.8 0 1 0 -1.6 0M154.2 234.5a0.8 0.8 0 1 0 1.6 0a0.8 0.8 0 1 0 -1.6 0M152.9 232.4a0.8 0.8 0 1 0 1.6 0a0.8 0.8 0 1 0 -1.6 0M155.3 223.9a0.8 0.8 0 1 0 1.6 0a0.8 0.8 0 1 0 -1.6 0M150.0 227.1a0.8 0.8 0 1 0 1.6 0a0.8 0.8 0 1 0 -1.6 0M151.0 232.6a0.8 0.8 0 1 0 1.6 0a0.8 0.8 0 1 0 -1.6 0M153.0 229.2a0.8 0.8 0 1 0 1.6 0a0.8 0.8 0 1 0 -1.6 0M156.3 223.1a0.8 0.8 0 1 0 1.6 0a0.8 0.8 0 1 0 -1.6 0M156.1 229.9a0.8 0.8 0 1 0 1.6 0a0.8 0.8 0 1 0 -1.6 0M152.7 231.5a0.8 0.8 0 1 0 1.6 0a0.8 0.8 0 1 0 -1.6 0M153.3 234.5a0.8 0.8 0 1 0 1.6 0a0.8 0.8 0 1 0 -1.6 0M150.0 221.9a0.8 0.8 0 1 0 1.6 0a0.8 0.8 0 1 0 -1.6 0M151.9 239.4a0.8 0.8 0 1 0 1.6 0a0.8 0.8 0 1 0 -1.6 0M151.4 230.6a0.8 0.8 0 1 0 1.6 0a0.8 0.8 0 1 0 -1.6 0M156.3 222.3a0.8 0.8 0 1 0 1.6 0a0.8 0.8 0 1 0 -1.6 0M152.9 229.5a0.8 0.8 0 1 0 1.6 0a0.8 0.8 0 1 0 -1.6 0M151.6 225.2a0.8 0.8 0 1 0 1.6 0a0.8 0.8 0 1 0 -1.6 0M154.2 232.7a0.8 0.8 0 1 0 1.6 0a0.8 0.8 0 1 0 -1.6 0M155.8 226.9a0.8 0.8 0 1 0 1.6 0a0.8 0.8 0 1 0 -1.6 0M151.2 234.8a0.8 0.8 0 1 0 1.6 0a0.8 0.8 0 1 0 -1.6 0M153.1 235.5a0.8 0.8 0 1 0 1.6 0a0.8 0.8 0 1 0 -1.6 0M153.0 223.5a0.8 0.8 0 1 0 1.6 0a0.8 0.8 0 1 0 -1.6 0M158.9 223.6a0.8 0.8 0 1 0 1.6 0a0.8 0.8 0 1 0 -1.6 0M150.5 226.2a0.8 0.8 0 1 0 1.6 0a0.8 0.8 0 1 0 -1.6 0M152.5 238.7a0.8 0.8 0 1 0 1.6 0a0.8 0.8 0 1 0 -1.6 0M150.4 238.6a0.8 0.8 0 1 0 1.6 0a0.8 0.8 0 1 0 -1.6 0M151.1 239.5a0.8 0.8 0 1 0 1.6 0a0.8 0.8 0 1 0 -1.6 0M153.5 236.6a0.8 0.8 0 1 0 1.6 0a0.8 0.8 0 1 0 -1.6 0M150.4 231.1a0.8 0.8 0 1 0 1.6 0a0.8 0.8 0 1 0 -1.6 0M152.5 237.7a0.8 0.8 0 1 0 1.6 0a0.8 0.8 0 1 0 -1.6 0M154.8 225.0a0.8 0.8 0 1 0 1.6 0a0.8 0.8 0 1 0 -1.6 0M152.5 230.3a0.8 0.8 0 1 0 1.6 0a0.8 0.8 0 1 0 -1.6 0M153.5 234.3a0.8 0.8 0 1 0 1.6 0a0.8 0.8 0 1 0 -1.6 0M155.8 219.2a0.8 0.8 0 1 0 1.6 0a0.8 0.8 0 1 0 -1.6 0M152.4 230.9a0.8 0.8 0 1 0 1.6 0a0.8 0.8 0 1 0 -1.6 0M152.7 233.0a0.8 0.8 0 1 0 1.6 0a0.8 0.8 0 1 0 -1.6 0M150.8 238.8a0.8 0.8 0 1 0 1.6 0a0.8 0.8 0 1 0 -1.6 0M154.3 233.4a0.8 0.8 0 1 0 1.6 0a0.8 0.8 0 1 0 -1.6 0M154.8 232.2a0.8 0.8 0 1 0 1.6 0a0.8 0.8 0 1 0 -1.6 0M152.2 218.2a0.8 0.8 0 1 0 1.6 0a0.8 0.8 0 1 0 -1.6 0M152.7 222.0a0.8 0.8 0 1 0 1.6 0a0.8 0.8 0 1 0 -1.6 0M151.8 226.5a0.8 0.8 0 1 0 1.6 0a0.8 0.8 0 1 0 -1.6 0M151.7 218.5a0.8 0.8 0 1 0 1.6 0a0.8 0.8 0 1 0 -1.6 0M152.6 225.4a0.8 0.8 0 1 0 1.6 0a0.8 0.8 0 1 0 -1.6 0M153.0 233.6a0.8 0.8 0 1 0 1.6 0a0.8 0.8 0 1 0 -1.6 0M153.1 222.7a0.8 0.8 0 1 0 1.6 0a0.8 0.8 0 1 0 -1.6 0M150.8 233.0a0.8 0.8 0 1 0 1.6 0a0.8 0.8 0 1 0 -1.6 0M156.0 230.4a0.8 0.8 0 1 0 1.6 0a0.8 0.8 0 1 0 -1.6 0M157.4 224.3a0.8 0.8 0 1 0 1.6 0a0.8 0.8 0 1 0 -1.6 0M152.4 239.3a0.8 0.8 0 1 0 1.6 0a0.8 0.8 0 1 0 -1.6 0M150.7 227.8a0.8 0.8 0 1 0 1.6 0a0.8 0.8 0 1 0 -1.6 0M151.7 221.6a0.8 0.8 0 1 0 1.6 0a0.8 0.8 0 1 0 -1.6 0M150.9 228.8a0.8 0.8 0 1 0 1.6 0a0.8 0.8 0 1 0 -1.6 0M151.7 238.1a0.8 0.8 0 1 0 1.6 0a0.8 0.8 0 1 0 -1.6 0M151.4 238.7a0.8 0.8 0 1 0 1.6 0a0.8 0.8 0 1 0 -1.6 0M154.1 226.1a0.8 0.8 0 1 0 1.6 0a0.8 0.8 0 1 0 -1.6 0M156.5 229.2a0.8 0.8 0 1 0 1.6 0a0.8 0.8 0 1 0 -1.6 0M150.7 219.8a0.8 0.8 0 1 0 1.6 0a0.8 0.8 0 1 0 -1.6 0M154.5 219.5a0.8 0.8 0 1 0 1.6 0a0.8 0.8 0 1 0 -1.6 0M152.5 232.1a0.8 0.8 0 1 0 1.6 0a0.8 0.8 0 1 0 -1.6 0M155.3 230.2a0.8 0.8 0 1 0 1.6 0a0.8 0.8 0 1 0 -1.6 0M155.4 221.6a0.8 0.8 0 1 0 1.6 0a0.8 0.8 0 1 0 -1.6 0M153.9 223.9a0.8 0.8 0 1 0 1.6 0a0.8 0.8 0 1 0 -1.6 0M151.4 221.7a0.8 0.8 0 1 0 1.6 0a0.8 0.8 0 1 0 -1.6 0M155.9 231.4a0.8 0.8 0 1 0 1.6 0a0.8 0.8 0 1 0 -1.6 0M150.5 240.1a0.8 0.8 0 1 0 1.6 0a0.8 0.8 0 1 0 -1.6 0M150.7 222.4a0.8 0.8 0 1 0 1.6 0a0.8 0.8 0 1 0 -1.6 0M153.1 230.1a0.8 0.8 0 1 0 1.6 0a0.8 0.8 0 1 0 -1.6 0M150.8 232.2a0.8 0.8 0 1 0 1.6 0a0.8 0.8 0 1 0 -1.6 0M150.8 234.5a0.8 0.8 0 1 0 1.6 0a0.8 0.8 0 1 0 -1.6 0M156.0 223.2a0.8 0.8 0 1 0 1.6 0a0.8 0.8 0 1 0 -1.6 0M154.4 221.7a0.8 0.8 0 1 0 1.6 0a0.8 0.8 0 1 0 -1.6 0M151.9 239.0a0.8 0.8 0 1 0 1.6 0a0.8 0.8 0 1 0 -1.6 0M150.4 232.1a0.8 0.8 0 1 0 1.6 0a0.8 0.8 0 1 0 -1.6 0M154.7 229.7a0.8 0.8 0 1 0 1.6 0a0.8 0.8 0 1 0 -1.6 0M151.5 240.1a0.8 0.8 0 1 0 1.6 0a0.8 0.8 0 1 0 -1.6 0M153.0 237.8a0.8 0.8 0 1 0 1.6 0a0.8 0.8 0 1 0 -1.6 0M156.4 226.6a0.8 0.8 0 1 0 1.6 0a0.8 0.8 0 1 0 -1.6 0M152.3 231.4a0.8 0.8 0 1 0 1.6 0a0.8 0.8 0 1 0 -1.6 0M152.6 236.6a0.8 0.8 0 1 0 1.6 0a0.8 0.8 0 1 0 -1.6 0M152.4 238.1a0.8 0.8 0 1 0 1.6 0a0.8 0.8 0 1 0 -1.6 0M154.9 227.2a0.8 0.8 0 1 0 1.6 0a0.8 0.8 0 1 0 -1.6 0M155.7 226.3a0.8 0.8 0 1 0 1.6 0a0.8 0.8 0 1 0 -1.6 0M151.2 231.1a0.8 0.8 0 1 0 1.6 0a0.8 0.8 0 1 0 -1.6 0M154.9 224.2a0.8 0.8 0 1 0 1.6 0a0.8 0.8 0 1 0 -1.6 0M153.1 233.4a0.8 0.8 0 1 0 1.6 0a0.8 0.8 0 1 0 -1.6 0M153.6 233.3a0.8 0.8 0 1 0 1.6 0a0.8 0.8 0 1 0 -1.6 0M155.1 231.8a0.8 0.8 0 1 0 1.6 0a0.8 0.8 0 1 0 -1.6 0M154.6 225.2a0.8 0.8 0 1 0 1.6 0a0.8 0.8 0 1 0 -1.6 0M154.3 218.1a0.8 0.8 0 1 0 1.6 0a0.8 0.8 0 1 0 -1.6 0M152.8 236.1a0.8 0.8 0 1 0 1.6 0a0.8 0.8 0 1 0 -1.6 0M153.6 236.5a0.8 0.8 0 1 0 1.6 0a0.8 0.8 0 1 0 -1.6 0M153.4 234.8a0.8 0.8 0 1 0 1.6 0a0.8 0.8 0 1 0 -1.6 0M150.2 232.0a0.8 0.8 0 1 0 1.6 0a0.8 0.8 0 1 0 -1.6 0M155.5 221.9a0.8 0.8 0 1 0 1.6 0a0.8 0.8 0 1 0 -1.6 0M155.9 221.4a0.8 0.8 0 1 0 1.6 0a0.8 0.8 0 1 0 -1.6 0M152.3 228.0a0.8 0.8 0 1 0 1.6 0a0.8 0.8 0 1 0 -1.6 0M153.0 231.6a0.8 0.8 0 1 0 1.6 0a0.8 0.8 0 1 0 -1.6 0M154.2 226.2a0.8 0.8 0 1 0 1.6 0a0.8 0.8 0 1 0 -1.6 0M153.9 234.7a0.8 0.8 0 1 0 1.6 0a0.8 0.8 0 1 0 -1.6 0M152.5 237.6a0.8 0.8 0 1 0 1.6 0a0.8 0.8 0 1 0 -1.6 0M151.3 233.6a0.8 0.8 0 1 0 1.6 0a0.8 0.8 0 1 0 -1.6 0M152.1 236.3a0.8 0.8 0 1 0 1.6 0a0.8 0.8 0 1 0 -1.6 0M156.4 227.2a0.8 0.8 0 1 0 1.6 0a0.8 0.8 0 1 0 -1.6 0M155.3 224.9a0.8 0.8 0 1 0 1.6 0a0.8 0.8 0 1 0 -1.6 0M154.5 232.0a0.8 0.8 0 1 0 1.6 0a0.8 0.8 0 1 0 -1.6 0M153.0 232.8a0.8 0.8 0 1 0 1.6 0a0.8 0.8 0 1 0 -1.6 0M153.7 229.4a0.8 0.8 0 1 0 1.6 0a0.8 0.8 0 1 0 -1.6 0M153.5 220.5a0.8 0.8 0 1 0 1.6 0a0.8 0.8 0 1 0 -1.6 0M152.4 234.3a0.8 0.8 0 1 0 1.6 0a0.8 0.8 0 1 0 -1.6 0M153.8 229.1a0.8 0.8 0 1 0 1.6 0a0.8 0.8 0 1 0 -1.6 0M154.9 231.2a0.8 0.8 0 1 0 1.6 0a0.8 0.8 0 1 0 -1.6 0M152.3 223.7a0.8 0.8 0 1 0 1.6 0a0.8 0.8 0 1 0 -1.6 0M156.5 222.7a0.8 0.8 0 1 0 1.6 0a0.8 0.8 0 1 0 -1.6 0M152.2 229.3a0.8 0.8 0 1 0 1.6 0a0.8 0.8 0 1 0 -1.6 0M152.2 226.1a0.8 0.8 0 1 0 1.6 0a0.8 0.8 0 1 0 -1.6 0M152.0 238.8a0.8 0.8 0 1 0 1.6 0a0.8 0.8 0 1 0 -1.6 0M151.9 238.7a0.8 0.8 0 1 0 1.6 0a0.8 0.8 0 1 0 -1.6 0M152.8 218.7a0.8 0.8 0 1 0 1.6 0a0.8 0.8 0 1 0 -1.6 0M150.9 231.4a0.8 0.8 0 1 0 1.6 0a0.8 0.8 0 1 0 -1.6 0M150.4 220.9a0.8 0.8 0 1 0 1.6 0a0.8 0.8 0 1 0 -1.6 0M156.0 228.9a0.8 0.8 0 1 0 1.6 0a0.8 0.8 0 1 0 -1.6 0M150.5 235.0a0.8 0.8 0 1 0 1.6 0a0.8 0.8 0 1 0 -1.6 0M151.8 236.0a0.8 0.8 0 1 0 1.6 0a0.8 0.8 0 1 0 -1.6 0M152.1 238.2a0.8 0.8 0 1 0 1.6 0a0.8 0.8 0 1 0 -1.6 0M153.9 222.4a0.8 0.8 0 1 0 1.6 0a0.8 0.8 0 1 0 -1.6 0M153.2 230.6a0.8 0.8 0 1 0 1.6 0a0.8 0.8 0 1 0 -1.6 0M150.1 237.9a0.8 0.8 0 1 0 1.6 0a0.8 0.8 0 1 0 -1.6 0M154.1 233.7a0.8 0.8 0 1 0 1.6 0a0.8 0.8 0 1 0 -1.6 0M151.6 221.7a0.8 0.8 0 1 0 1.6 0a0.8 0.8 0 1 0 -1.6 0M154.5 231.6a0.8 0.8 0 1 0 1.6 0a0.8 0.8 0 1 0 -1.6 0M152.5 235.3a0.8 0.8 0 1 0 1.6 0a0.8 0.8 0 1 0 -1.6 0M152.2 230.7a0.8 0.8 0 1 0 1.6 0a0.8 0.8 0 1 0 -1.6 0M151.4 231.5a0.8 0.8 0 1 0 1.6 0a0.8 0.8 0 1 0 -1.6 0M152.9 227.2a0.8 0.8 0 1 0 1.6 0a0.8 0.8 0 1 0 -1.6 0M151.8 236.7a0.8 0.8 0 1 0 1.6 0a0.8 0.8 0 1 0 -1.6 0M156.0 231.6a0.8 0.8 0 1 0 1.6 0a0.8 0.8 0 1 0 -1.6 0M152.9 232.8a0.8 0.8 0 1 0 1.6 0a0.8 0.8 0 1 0 -1.6 0M152.5 228.0a0.8 0.8 0 1 0 1.6 0a0.8 0.8 0 1 0 -1.6 0M151.6 234.3a0.8 0.8 0 1 0 1.6 0a0.8 0.8 0 1 0 -1.6 0M152.2 236.1a0.8 0.8 0 1 0 1.6 0a0.8 0.8 0 1 0 -1.6 0M151.3 238.4a0.8 0.8 0 1 0 1.6 0a0.8 0.8 0 1 0 -1.6 0M150.3 239.8a0.8 0.8 0 1 0 1.6 0a0.8 0.8 0 1 0 -1.6 0M151.7 224.4a0.8 0.8 0 1 0 1.6 0a0.8 0.8 0 1 0 -1.6 0M159.9 222.1a0.8 0.8 0 1 0 1.6 0a0.8 0.8 0 1 0 -1.6 0M152.8 228.4a0.8 0.8 0 1 0 1.6 0a0.8 0.8 0 1 0 -1.6 0M150.9 237.0a0.8 0.8 0 1 0 1.6 0a0.8 0.8 0 1 0 -1.6 0M152.8 231.8a0.8 0.8 0 1 0 1.6 0a0.8 0.8 0 1 0 -1.6 0M150.2 218.7a0.8 0.8 0 1 0 1.6 0a0.8 0.8 0 1 0 -1.6 0M153.9 235.3a0.8 0.8 0 1 0 1.6 0a0.8 0.8 0 1 0 -1.6 0M154.9 226.8a0.8 0.8 0 1 0 1.6 0a0.8 0.8 0 1 0 -1.6 0M151.8 226.6a0.8 0.8 0 1 0 1.6 0a0.8 0.8 0 1 0 -1.6 0M155.1 218.8a0.8 0.8 0 1 0 1.6 0a0.8 0.8 0 1 0 -1.6 0M150.2 237.6a0.8 0.8 0 1 0 1.6 0a0.8 0.8 0 1 0 -1.6 0M153.7 234.9a0.8 0.8 0 1 0 1.6 0a0.8 0.8 0 1 0 -1.6 0M150.4 235.8a0.8 0.8 0 1 0 1.6 0a0.8 0.8 0 1 0 -1.6 0M151.4 221.9a0.8 0.8 0 1 0 1.6 0a0.8 0.8 0 1 0 -1.6 0M154.2 224.2a0.8 0.8 0 1 0 1.6 0a0.8 0.8 0 1 0 -1.6 0M155.8 224.6a0.8 0.8 0 1 0 1.6 0a0.8 0.8 0 1 0 -1.6 0M151.7 240.0a0.8 0.8 0 1 0 1.6 0a0.8 0.8 0 1 0 -1.6 0M152.8 236.8a0.8 0.8 0 1 0 1.6 0a0.8 0.8 0 1 0 -1.6 0M154.2 231.0a0.8 0.8 0 1 0 1.6 0a0.8 0.8 0 1 0 -1.6 0M156.3 225.6a0.8 0.8 0 1 0 1.6 0a0.8 0.8 0 1 0 -1.6 0M151.3 239.6a0.8 0.8 0 1 0 1.6 0a0.8 0.8 0 1 0 -1.6 0M150.9 236.2a0.8 0.8 0 1 0 1.6 0a0.8 0.8 0 1 0 -1.6 0M152.3 233.9a0.8 0.8 0 1 0 1.6 0a0.8 0.8 0 1 0 -1.6 0M152.6 234.9a0.8 0.8 0 1 0 1.6 0a0.8 0.8 0 1 0 -1.6 0M153.8 227.5a0.8 0.8 0 1 0 1.6 0a0.8 0.8 0 1 0 -1.6 0M157.2 224.6a0.8 0.8 0 1 0 1.6 0a0.8 0.8 0 1 0 -1.6 0M151.8 222.3a0.8 0.8 0 1 0 1.6 0a0.8 0.8 0 1 0 -1.6 0M152.6 225.3a0.8 0.8 0 1 0 1.6 0a0.8 0.8 0 1 0 -1.6 0M151.2 236.3a0.8 0.8 0 1 0 1.6 0a0.8 0.8 0 1 0 -1.6 0M152.8 237.0a0.8 0.8 0 1 0 1.6 0a0.8 0.8 0 1 0 -1.6 0M150.4 239.9a0.8 0.8 0 1 0 1.6 0a0.8 0.8 0 1 0 -1.6 0M154.2 233.1a0.8 0.8 0 1 0 1.6 0a0.8 0.8 0 1 0 -1.6 0M152.6 218.1a0.8 0.8 0 1 0 1.6 0a0.8 0.8 0 1 0 -1.6 0M152.8 237.2a0.8 0.8 0 1 0 1.6 0a0.8 0.8 0 1 0 -1.6 0M150.5 224.9a0.8 0.8 0 1 0 1.6 0a0.8 0.8 0 1 0 -1.6 0M151.4 238.0a0.8 0.8 0 1 0 1.6 0a0.8 0.8 0 1 0 -1.6 0M151.7 238.9a0.8 0.8 0 1 0 1.6 0a0.8 0.8 0 1 0 -1.6 0M150.4 221.4a0.8 0.8 0 1 0 1.6 0a0.8 0.8 0 1 0 -1.6 0M151.1 224.5a0.8 0.8 0 1 0 1.6 0a0.8 0.8 0 1 0 -1.6 0M150.3 235.7a0.8 0.8 0 1 0 1.6 0a0.8 0.8 0 1 0 -1.6 0M154.7 223.3a0.8 0.8 0 1 0 1.6 0a0.8 0.8 0 1 0 -1.6 0M153.0 232.9a0.8 0.8 0 1 0 1.6 0a0.8 0.8 0 1 0 -1.6 0M156.5 229.8a0.8 0.8 0 1 0 1.6 0a0.8 0.8 0 1 0 -1.6 0M151.2 238.3a0.8 0.8 0 1 0 1.6 0a0.8 0.8 0 1 0 -1.6 0M151.1 237.6a0.8 0.8 0 1 0 1.6 0a0.8 0.8 0 1 0 -1.6 0M150.9 237.5a0.8 0.8 0 1 0 1.6 0a0.8 0.8 0 1 0 -1.6 0M152.8 228.8a0.8 0.8 0 1 0 1.6 0a0.8 0.8 0 1 0 -1.6 0M151.1 239.4a0.8 0.8 0 1 0 1.6 0a0.8 0.8 0 1 0 -1.6 0M155.2 229.7a0.8 0.8 0 1 0 1.6 0a0.8 0.8 0 1 0 -1.6 0M151.7 229.5a0.8 0.8 0 1 0 1.6 0a0.8 0.8 0 1 0 -1.6 0M156.4 223.3a0.8 0.8 0 1 0 1.6 0a0.8 0.8 0 1 0 -1.6 0M150.4 236.1a0.8 0.8 0 1 0 1.6 0a0.8 0.8 0 1 0 -1.6 0M151.2 238.2a0.8 0.8 0 1 0 1.6 0a0.8 0.8 0 1 0 -1.6 0M151.8 239.9a0.8 0.8 0 1 0 1.6 0a0.8 0.8 0 1 0 -1.6 0M151.7 240.0a0.8 0.8 0 1 0 1.6 0a0.8 0.8 0 1 0 -1.6 0M156.1 222.1a0.8 0.8 0 1 0 1.6 0a0.8 0.8 0 1 0 -1.6 0M153.0 238.1a0.8 0.8 0 1 0 1.6 0a0.8 0.8 0 1 0 -1.6 0M153.6 236.5a0.8 0.8 0 1 0 1.6 0a0.8 0.8 0 1 0 -1.6 0M152.9 234.4a0.8 0.8 0 1 0 1.6 0a0.8 0.8 0 1 0 -1.6 0M153.4 231.5a0.8 0.8 0 1 0 1.6 0a0.8 0.8 0 1 0 -1.6 0M155.0 231.5a0.8 0.8 0 1 0 1.6 0a0.8 0.8 0 1 0 -1.6 0M150.4 230.4a0.8 0.8 0 1 0 1.6 0a0.8 0.8 0 1 0 -1.6 0M154.2 234.4a0.8 0.8 0 1 0 1.6 0a0.8 0.8 0 1 0 -1.6 0M154.2 222.9a0.8 0.8 0 1 0 1.6 0a0.8 0.8 0 1 0 -1.6 0M152.3 222.3a0.8 0.8 0 1 0 1.6 0a0.8 0.8 0 1 0 -1.6 0M151.3 236.5a0.8 0.8 0 1 0 1.6 0a0.8 0.8 0 1 0 -1.6 0M155.6 230.7a0.8 0.8 0 1 0 1.6 0a0.8 0.8 0 1 0 -1.6 0M153.9 220.7a0.8 0.8 0 1 0 1.6 0a0.8 0.8 0 1 0 -1.6 0M155.1 229.4a0.8 0.8 0 1 0 1.6 0a0.8 0.8 0 1 0 -1.6 0M151.5 239.9a0.8 0.8 0 1 0 1.6 0a0.8 0.8 0 1 0 -1.6 0M154.0 229.5a0.8 0.8 0 1 0 1.6 0a0.8 0.8 0 1 0 -1.6 0M151.1 232.9a0.8 0.8 0 1 0 1.6 0a0.8 0.8 0 1 0 -1.6 0M156.0 226.3a0.8 0.8 0 1 0 1.6 0a0.8 0.8 0 1 0 -1.6 0M157.4 222.6a0.8 0.8 0 1 0 1.6 0a0.8 0.8 0 1 0 -1.6 0M151.9 234.7a0.8 0.8 0 1 0 1.6 0a0.8 0.8 0 1 0 -1.6 0M150.4 237.8a0.8 0.8 0 1 0 1.6 0a0.8 0.8 0 1 0 -1.6 0M159.7 222.2a0.8 0.8 0 1 0 1.6 0a0.8 0.8 0 1 0 -1.6 0M159.3 223.4a0.8 0.8 0 1 0 1.6 0a0.8 0.8 0 1 0 -1.6 0M154.0 231.3a0.8 0.8 0 1 0 1.6 0a0.8 0.8 0 1 0 -1.6 0M153.0 235.2a0.8 0.8 0 1 0 1.6 0a0.8 0.8 0 1 0 -1.6 0M152.9 238.4a0.8 0.8 0 1 0 1.6 0a0.8 0.8 0 1 0 -1.6 0M152.6 237.4a0.8 0.8 0 1 0 1.6 0a0.8 0.8 0 1 0 -1.6 0M150.1 236.6a0.8 0.8 0 1 0 1.6 0a0.8 0.8 0 1 0 -1.6 0M155.4 230.1a0.8 0.8 0 1 0 1.6 0a0.8 0.8 0 1 0 -1.6 0M154.8 231.0a0.8 0.8 0 1 0 1.6 0a0.8 0.8 0 1 0 -1.6 0M151.1 220.7a0.8 0.8 0 1 0 1.6 0a0.8 0.8 0 1 0 -1.6 0M150.3 227.8a0.8 0.8 0 1 0 1.6 0a0.8 0.8 0 1 0 -1.6 0M151.9 221.9a0.8 0.8 0 1 0 1.6 0a0.8 0.8 0 1 0 -1.6 0M150.5 220.4a0.8 0.8 0 1 0 1.6 0a0.8 0.8 0 1 0 -1.6 0M150.1 227.7a0.8 0.8 0 1 0 1.6 0a0.8 0.8 0 1 0 -1.6 0M152.2 239.7a0.8 0.8 0 1 0 1.6 0a0.8 0.8 0 1 0 -1.6 0M152.9 219.4a0.8 0.8 0 1 0 1.6 0a0.8 0.8 0 1 0 -1.6 0M151.1 235.9a0.8 0.8 0 1 0 1.6 0a0.8 0.8 0 1 0 -1.6 0M153.2 234.3a0.8 0.8 0 1 0 1.6 0a0.8 0.8 0 1 0 -1.6 0M153.3 233.4a0.8 0.8 0 1 0 1.6 0a0.8 0.8 0 1 0 -1.6 0M153.9 229.5a0.8 0.8 0 1 0 1.6 0a0.8 0.8 0 1 0 -1.6 0M151.7 221.2a0.8 0.8 0 1 0 1.6 0a0.8 0.8 0 1 0 -1.6 0M151.7 237.4a0.8 0.8 0 1 0 1.6 0a0.8 0.8 0 1 0 -1.6 0M155.4 229.9a0.8 0.8 0 1 0 1.6 0a0.8 0.8 0 1 0 -1.6 0M153.4 234.3a0.8 0.8 0 1 0 1.6 0a0.8 0.8 0 1 0 -1.6 0M152.1 234.7a0.8 0.8 0 1 0 1.6 0a0.8 0.8 0 1 0 -1.6 0M150.5 239.9a0.8 0.8 0 1 0 1.6 0a0.8 0.8 0 1 0 -1.6 0M153.4 226.7a0.8 0.8 0 1 0 1.6 0a0.8 0.8 0 1 0 -1.6 0M150.5 236.1a0.8 0.8 0 1 0 1.6 0a0.8 0.8 0 1 0 -1.6 0M152.1 238.0a0.8 0.8 0 1 0 1.6 0a0.8 0.8 0 1 0 -1.6 0M151.0 231.1a0.8 0.8 0 1 0 1.6 0a0.8 0.8 0 1 0 -1.6 0M152.4 221.5a0.8 0.8 0 1 0 1.6 0a0.8 0.8 0 1 0 -1.6 0M155.5 225.6a0.8 0.8 0 1 0 1.6 0a0.8 0.8 0 1 0 -1.6 0M150.5 239.8a0.8 0.8 0 1 0 1.6 0a0.8 0.8 0 1 0 -1.6 0M151.9 225.1a0.8 0.8 0 1 0 1.6 0a0.8 0.8 0 1 0 -1.6 0M150.2 237.4a0.8 0.8 0 1 0 1.6 0a0.8 0.8 0 1 0 -1.6 0M153.8 235.1a0.8 0.8 0 1 0 1.6 0a0.8 0.8 0 1 0 -1.6 0M157.2 226.3a0.8 0.8 0 1 0 1.6 0a0.8 0.8 0 1 0 -1.6 0M152.2 231.6a0.8 0.8 0 1 0 1.6 0a0.8 0.8 0 1 0 -1.6 0M152.3 230.1a0.8 0.8 0 1 0 1.6 0a0.8 0.8 0 1 0 -1.6 0M151.7 223.8a0.8 0.8 0 1 0 1.6 0a0.8 0.8 0 1 0 -1.6 0M154.5 223.2a0.8 0.8 0 1 0 1.6 0a0.8 0.8 0 1 0 -1.6 0M153.3 223.4a0.8 0.8 0 1 0 1.6 0a0.8 0.8 0 1 0 -1.6 0M152.4 222.1a0.8 0.8 0 1 0 1.6 0a0.8 0.8 0 1 0 -1.6 0M152.6 236.4a0.8 0.8 0 1 0 1.6 0a0.8 0.8 0 1 0 -1.6 0M155.7 230.5a0.8 0.8 0 1 0 1.6 0a0.8 0.8 0 1 0 -1.6 0M154.4 228.7a0.8 0.8 0 1 0 1.6 0a0.8 0.8 0 1 0 -1.6 0M150.4 239.1a0.8 0.8 0 1 0 1.6 0a0.8 0.8 0 1 0 -1.6 0M151.8 238.2a0.8 0.8 0 1 0 1.6 0a0.8 0.8 0 1 0 -1.6 0M150.6 236.1a0.8 0.8 0 1 0 1.6 0a0.8 0.8 0 1 0 -1.6 0M155.0 232.8a0.8 0.8 0 1 0 1.6 0a0.8 0.8 0 1 0 -1.6 0M156.9 224.7a0.8 0.8 0 1 0 1.6 0a0.8 0.8 0 1 0 -1.6 0M151.6 239.2a0.8 0.8 0 1 0 1.6 0a0.8 0.8 0 1 0 -1.6 0M150.2 238.6a0.8 0.8 0 1 0 1.6 0a0.8 0.8 0 1 0 -1.6 0M150.3 232.4a0.8 0.8 0 1 0 1.6 0a0.8 0.8 0 1 0 -1.6 0M150.3 228.6a0.8 0.8 0 1 0 1.6 0a0.8 0.8 0 1 0 -1.6 0M156.2 230.1a0.8 0.8 0 1 0 1.6 0a0.8 0.8 0 1 0 -1.6 0M157.1 228.2a0.8 0.8 0 1 0 1.6 0a0.8 0.8 0 1 0 -1.6 0M151.8 221.7a0.8 0.8 0 1 0 1.6 0a0.8 0.8 0 1 0 -1.6 0M150.9 239.9a0.8 0.8 0 1 0 1.6 0a0.8 0.8 0 1 0 -1.6 0M158.2 225.2a0.8 0.8 0 1 0 1.6 0a0.8 0.8 0 1 0 -1.6 0M155.3 222.1a0.8 0.8 0 1 0 1.6 0a0.8 0.8 0 1 0 -1.6 0M155.3 231.2a0.8 0.8 0 1 0 1.6 0a0.8 0.8 0 1 0 -1.6 0M154.0 231.6a0.8 0.8 0 1 0 1.6 0a0.8 0.8 0 1 0 -1.6 0M150.2 234.8a0.8 0.8 0 1 0 1.6 0a0.8 0.8 0 1 0 -1.6 0M153.9 221.8a0.8 0.8 0 1 0 1.6 0a0.8 0.8 0 1 0 -1.6 0M151.6 224.6a0.8 0.8 0 1 0 1.6 0a0.8 0.8 0 1 0 -1.6 0M151.2 239.2a0.8 0.8 0 1 0 1.6 0a0.8 0.8 0 1 0 -1.6 0M152.1 233.4a0.8 0.8 0 1 0 1.6 0a0.8 0.8 0 1 0 -1.6 0M151.1 239.5a0.8 0.8 0 1 0 1.6 0a0.8 0.8 0 1 0 -1.6 0M157.1 228.4a0.8 0.8 0 1 0 1.6 0a0.8 0.8 0 1 0 -1.6 0M152.4 224.3a0.8 0.8 0 1 0 1.6 0a0.8 0.8 0 1 0 -1.6 0M155.9 230.4a0.8 0.8 0 1 0 1.6 0a0.8 0.8 0 1 0 -1.6 0M152.4 232.2a0.8 0.8 0 1 0 1.6 0a0.8 0.8 0 1 0 -1.6 0M157.5 222.5a0.8 0.8 0 1 0 1.6 0a0.8 0.8 0 1 0 -1.6 0M153.5 219.4a0.8 0.8 0 1 0 1.6 0a0.8 0.8 0 1 0 -1.6 0M152.1 228.5a0.8 0.8 0 1 0 1.6 0a0.8 0.8 0 1 0 -1.6 0M153.1 235.5a0.8 0.8 0 1 0 1.6 0a0.8 0.8 0 1 0 -1.6 0M150.4 219.8a0.8 0.8 0 1 0 1.6 0a0.8 0.8 0 1 0 -1.6 0M158.5 224.2a0.8 0.8 0 1 0 1.6 0a0.8 0.8 0 1 0 -1.6 0M151.5 231.8a0.8 0.8 0 1 0 1.6 0a0.8 0.8 0 1 0 -1.6 0M152.8 230.6a0.8 0.8 0 1 0 1.6 0a0.8 0.8 0 1 0 -1.6 0M152.6 239.0a0.8 0.8 0 1 0 1.6 0a0.8 0.8 0 1 0 -1.6 0M152.3 235.2a0.8 0.8 0 1 0 1.6 0a0.8 0.8 0 1 0 -1.6 0M152.9 237.1a0.8 0.8 0 1 0 1.6 0a0.8 0.8 0 1 0 -1.6 0M151.3 231.3a0.8 0.8 0 1 0 1.6 0a0.8 0.8 0 1 0 -1.6 0M151.8 238.5a0.8 0.8 0 1 0 1.6 0a0.8 0.8 0 1 0 -1.6 0M155.2 218.2a0.8 0.8 0 1 0 1.6 0a0.8 0.8 0 1 0 -1.6 0M154.5 220.3a0.8 0.8 0 1 0 1.6 0a0.8 0.8 0 1 0 -1.6 0M151.8 236.5a0.8 0.8 0 1 0 1.6 0a0.8 0.8 0 1 0 -1.6 0M157.5 227.5a0.8 0.8 0 1 0 1.6 0a0.8 0.8 0 1 0 -1.6 0M156.4 227.8a0.8 0.8 0 1 0 1.6 0a0.8 0.8 0 1 0 -1.6 0M150.2 233.2a0.8 0.8 0 1 0 1.6 0a0.8 0.8 0 1 0 -1.6 0M150.0 231.9a0.8 0.8 0 1 0 1.6 0a0.8 0.8 0 1 0 -1.6 0M153.0 219.5a0.8 0.8 0 1 0 1.6 0a0.8 0.8 0 1 0 -1.6 0M156.8 227.9a0.8 0.8 0 1 0 1.6 0a0.8 0.8 0 1 0 -1.6 0M153.3 229.7a0.8 0.8 0 1 0 1.6 0a0.8 0.8 0 1 0 -1.6 0M158.8 222.2a0.8 0.8 0 1 0 1.6 0a0.8 0.8 0 1 0 -1.6 0M154.8 232.8a0.8 0.8 0 1 0 1.6 0a0.8 0.8 0 1 0 -1.6 0M153.1 235.2a0.8 0.8 0 1 0 1.6 0a0.8 0.8 0 1 0 -1.6 0M151.1 237.2a0.8 0.8 0 1 0 1.6 0a0.8 0.8 0 1 0 -1.6 0M151.4 223.1a0.8 0.8 0 1 0 1.6 0a0.8 0.8 0 1 0 -1.6 0M157.7 225.7a0.8 0.8 0 1 0 1.6 0a0.8 0.8 0 1 0 -1.6 0M155.6 218.7a0.8 0.8 0 1 0 1.6 0a0.8 0.8 0 1 0 -1.6 0M150.8 238.0a0.8 0.8 0 1 0 1.6 0a0.8 0.8 0 1 0 -1.6 0M158.0 226.6a0.8 0.8 0 1 0 1.6 0a0.8 0.8 0 1 0 -1.6 0M153.6 231.0a0.8 0.8 0 1 0 1.6 0a0.8 0.8 0 1 0 -1.6 0M154.8 228.7a0.8 0.8 0 1 0 1.6 0a0.8 0.8 0 1 0 -1.6 0M154.0 233.6a0.8 0.8 0 1 0 1.6 0a0.8 0.8 0 1 0 -1.6 0M155.0 222.9a0.8 0.8 0 1 0 1.6 0a0.8 0.8 0 1 0 -1.6 0M152.8 232.8a0.8 0.8 0 1 0 1.6 0a0.8 0.8 0 1 0 -1.6 0M154.2 232.8a0.8 0.8 0 1 0 1.6 0a0.8 0.8 0 1 0 -1.6 0M150.6 237.0a0.8 0.8 0 1 0 1.6 0a0.8 0.8 0 1 0 -1.6 0M154.1 233.4a0.8 0.8 0 1 0 1.6 0a0.8 0.8 0 1 0 -1.6 0M154.3 229.6a0.8 0.8 0 1 0 1.6 0a0.8 0.8 0 1 0 -1.6 0M153.1 232.8a0.8 0.8 0 1 0 1.6 0a0.8 0.8 0 1 0 -1.6 0M151.6 236.9a0.8 0.8 0 1 0 1.6 0a0.8 0.8 0 1 0 -1.6 0M155.6 219.6a0.8 0.8 0 1 0 1.6 0a0.8 0.8 0 1 0 -1.6 0M151.3 235.7a0.8 0.8 0 1 0 1.6 0a0.8 0.8 0 1 0 -1.6 0M152.8 238.4a0.8 0.8 0 1 0 1.6 0a0.8 0.8 0 1 0 -1.6 0" fill="#9c0c16" opacity="0.9"/>
<path d="M52.9 219.8a0.6 0.6 0 1 0 1.2 0a0.6 0.6 0 1 0 -1.2 0M46.4 231.0a0.6 0.6 0 1 0 1.2 0a0.6 0.6 0 1 0 -1.2 0M84.4 224.3a0.6 0.6 0 1 0 1.2 0a0.6 0.6 0 1 0 -1.2 0M118.2 197.5a0.6 0.6 0 1 0 1.2 0a0.6 0.6 0 1 0 -1.2 0M119.7 203.0a0.6 0.6 0 1 0 1.2 0a0.6 0.6 0 1 0 -1.2 0M174.6 189.5a0.6 0.6 0 1 0 1.2 0a0.6 0.6 0 1 0 -1.2 0M171.2 195.5a0.6 0.6 0 1 0 1.2 0a0.6 0.6 0 1 0 -1.2 0M172.0 200.1a0.6 0.6 0 1 0 1.2 0a0.6 0.6 0 1 0 -1.2 0M160.4 212.0a0.6 0.6 0 1 0 1.2 0a0.6 0.6 0 1 0 -1.2 0" fill="#9a9a9a" opacity="1"/>
<path d="M118.8 207.5a0.7 0.7 0 1 0 1.4 0a0.7 0.7 0 1 0 -1.4 0" fill="#2a31a0" opacity="1"/>
<text x="55.30" y="222.20" font-size="6.2" fill="#333" font-style="italic" textLength="11.90" lengthAdjust="spacingAndGlyphs">PPBP</text>
<text x="43.50" y="239.20" font-size="6.2" fill="#333" font-style="italic" textLength="9.80" lengthAdjust="spacingAndGlyphs">PF4</text>
<text x="76.50" y="235.40" font-size="6.2" fill="#333" font-style="italic" textLength="13.20" lengthAdjust="spacingAndGlyphs">SAT1</text>
<text x="115.80" y="196.90" font-size="6.2" fill="#333" font-style="italic" textLength="19.50" lengthAdjust="spacingAndGlyphs">DUSP23</text>
<text x="102.00" y="204.60" font-size="6.2" fill="#333" font-style="italic" textLength="17.80" lengthAdjust="spacingAndGlyphs">MCTP1</text>
<text x="93.70" y="213.20" font-size="6.2" fill="#333" font-style="italic" textLength="21.50" lengthAdjust="spacingAndGlyphs">RBPMS2</text>
<text x="146.60" y="192.50" font-size="6.2" fill="#333" font-style="italic" textLength="16.80" lengthAdjust="spacingAndGlyphs">RASIP3</text>
<text x="168.50" y="189.40" font-size="6.2" fill="#333" font-style="italic" textLength="20.50" lengthAdjust="spacingAndGlyphs">SMIM15</text>
<text x="174.50" y="195.40" font-size="6.2" fill="#333" font-style="italic" textLength="18.40" lengthAdjust="spacingAndGlyphs">WASF1</text>
<line x1="40.80" y1="188.60" x2="40.80" y2="244.00" stroke="#111" stroke-width="1.3"/>
<line x1="40.20" y1="243.40" x2="175.60" y2="243.40" stroke="#111" stroke-width="1.3"/>
<line x1="37.20" y1="241.30" x2="40.80" y2="241.30" stroke="#111" stroke-width="0.9"/>
<text x="34.60" y="243.30" font-size="5.7" fill="#4a4a4a" text-anchor="end">0</text>
<line x1="37.20" y1="226.06" x2="40.80" y2="226.06" stroke="#111" stroke-width="0.9"/>
<text x="34.60" y="228.06" font-size="5.7" fill="#4a4a4a" text-anchor="end">50</text>
<line x1="37.20" y1="210.83" x2="40.80" y2="210.83" stroke="#111" stroke-width="0.9"/>
<text x="34.60" y="212.83" font-size="5.7" fill="#4a4a4a" text-anchor="end">100</text>
<line x1="37.20" y1="195.59" x2="40.80" y2="195.59" stroke="#111" stroke-width="0.9"/>
<text x="34.60" y="197.59" font-size="5.7" fill="#4a4a4a" text-anchor="end">150</text>
<line x1="63.15" y1="243.40" x2="63.15" y2="247.20" stroke="#111" stroke-width="0.9"/>
<text x="61.95" y="256.40" font-size="5.9" fill="#4a4a4a" text-anchor="middle">−3</text>
<line x1="89.90" y1="243.40" x2="89.90" y2="247.20" stroke="#111" stroke-width="0.9"/>
<text x="88.70" y="256.40" font-size="5.9" fill="#4a4a4a" text-anchor="middle">−2</text>
<line x1="116.65" y1="243.40" x2="116.65" y2="247.20" stroke="#111" stroke-width="0.9"/>
<text x="115.45" y="256.40" font-size="5.9" fill="#4a4a4a" text-anchor="middle">−1</text>
<line x1="143.40" y1="243.40" x2="143.40" y2="247.20" stroke="#111" stroke-width="0.9"/>
<text x="143.40" y="256.40" font-size="5.9" fill="#4a4a4a" text-anchor="middle">0</text>
<line x1="170.15" y1="243.40" x2="170.15" y2="247.20" stroke="#111" stroke-width="0.9"/>
<text x="170.15" y="256.40" font-size="5.9" fill="#4a4a4a" text-anchor="middle">1</text>
<text x="91.40" y="271.20" font-size="8.3" fill="#2a2a2a" textLength="33.70" lengthAdjust="spacingAndGlyphs">Fold change</text>
<text x="17.7" y="249.0" font-size="7.4" fill="#333" transform="rotate(-90 17.7 249.0)" textLength="70.7" lengthAdjust="spacingAndGlyphs">−log10 adjusted <tspan font-style="italic">P</tspan> value</text>
<text x="305.00" y="161.30" font-size="8.6" fill="#2a2a2a" textLength="88.70" lengthAdjust="spacingAndGlyphs">Enriched in control platelet-like</text>
<text x="338.70" y="171.30" font-size="8.6" fill="#2a2a2a" textLength="33.80" lengthAdjust="spacingAndGlyphs">-log10 FDR</text>
<text x="305.40" y="179.40" font-size="6.2" fill="#333" text-anchor="middle">0</text>
<line x1="305.40" y1="182.00" x2="305.40" y2="184.80" stroke="#111" stroke-width="0.9"/>
<text x="337.40" y="179.40" font-size="6.2" fill="#333" text-anchor="middle">10</text>
<line x1="337.40" y1="182.00" x2="337.40" y2="184.80" stroke="#111" stroke-width="0.9"/>
<text x="369.40" y="179.40" font-size="6.2" fill="#333" text-anchor="middle">20</text>
<line x1="369.40" y1="182.00" x2="369.40" y2="184.80" stroke="#111" stroke-width="0.9"/>
<line x1="305.40" y1="184.80" x2="390.40" y2="184.80" stroke="#111" stroke-width="1.2"/>
<line x1="305.40" y1="184.20" x2="305.40" y2="245.60" stroke="#111" stroke-width="1.2"/>
<rect x="305.90" y="188.00" width="78.70" height="2.60" fill="#c8102e"/>
<text x="247.50" y="191.30" font-size="5.8" fill="#333" textLength="55.80" lengthAdjust="spacingAndGlyphs">cytoplasmic translation</text>
<rect x="305.90" y="193.60" width="71.30" height="2.60" fill="#c8102e"/>
<text x="278.30" y="196.90" font-size="5.8" fill="#333" textLength="25.00" lengthAdjust="spacingAndGlyphs">translation</text>
<rect x="305.90" y="199.10" width="58.50" height="2.60" fill="#c8102e"/>
<text x="218.00" y="202.40" font-size="5.8" fill="#333" textLength="85.30" lengthAdjust="spacingAndGlyphs">ribosomal small subunit biogenesis</text>
<rect x="305.90" y="204.70" width="25.10" height="2.60" fill="#c8102e"/>
<text x="251.00" y="208.00" font-size="5.8" fill="#333" textLength="52.30" lengthAdjust="spacingAndGlyphs">translational initiation</text>
<rect x="305.90" y="210.20" width="25.10" height="2.60" fill="#c8102e"/>
<text x="262.90" y="213.50" font-size="5.8" fill="#333" textLength="40.40" lengthAdjust="spacingAndGlyphs">rRNA processing</text>
<rect x="370.80" y="187.50" width="1.20" height="3.60" fill="#fff"/>
<rect x="374.80" y="193.10" width="1.30" height="3.60" fill="#fff"/>
<text x="387.50" y="191.00" font-size="5.7" fill="#333" textLength="12.90" lengthAdjust="spacingAndGlyphs">109.1</text>
<text x="379.20" y="196.70" font-size="5.7" fill="#333" textLength="9.20" lengthAdjust="spacingAndGlyphs">84.7</text>
<rect x="267.50" y="216.60" width="37.30" height="2.60" fill="#1f5a96"/>
<text x="307.00" y="219.90" font-size="5.8" fill="#333" textLength="50.70" lengthAdjust="spacingAndGlyphs">platelet aggregation</text>
<rect x="269.40" y="222.30" width="35.40" height="2.60" fill="#1f5a96"/>
<text x="307.00" y="225.60" font-size="5.8" fill="#333" textLength="44.30" lengthAdjust="spacingAndGlyphs">platelet activation</text>
<rect x="285.80" y="227.90" width="19.00" height="2.60" fill="#1f5a96"/>
<text x="307.00" y="231.20" font-size="5.8" fill="#333" textLength="90.00" lengthAdjust="spacingAndGlyphs">integrin-mediated signaling pathway</text>
<rect x="294.40" y="233.60" width="10.40" height="2.60" fill="#1f5a96"/>
<text x="307.00" y="236.90" font-size="5.8" fill="#333" textLength="42.70" lengthAdjust="spacingAndGlyphs">platelet formation</text>
<rect x="294.40" y="239.20" width="10.40" height="2.60" fill="#1f5a96"/>
<text x="307.00" y="242.50" font-size="5.8" fill="#333" textLength="72.00" lengthAdjust="spacingAndGlyphs">megakaryocyte development</text>
<line x1="236.60" y1="245.40" x2="305.40" y2="245.40" stroke="#111" stroke-width="1.2"/>
<line x1="241.30" y1="245.40" x2="241.30" y2="248.20" stroke="#111" stroke-width="0.9"/>
<text x="241.30" y="255.20" font-size="6.2" fill="#333" text-anchor="middle">20</text>
<line x1="273.30" y1="245.40" x2="273.30" y2="248.20" stroke="#111" stroke-width="0.9"/>
<text x="273.30" y="255.20" font-size="6.2" fill="#333" text-anchor="middle">10</text>
<text x="240.80" y="263.40" font-size="8.6" fill="#2a2a2a" textLength="33.00" lengthAdjust="spacingAndGlyphs">-log10 FDR</text>
<text x="218.80" y="274.70" font-size="8.4" fill="#2a2a2a" textLength="76.60" lengthAdjust="spacingAndGlyphs">Enriched in control MK-like</text>
<text x="8.90" y="301.70" font-size="15.8" fill="#111" font-weight="bold" textLength="14.70" lengthAdjust="spacingAndGlyphs">M</text>
<defs>
<radialGradient id="mkOut" cx="0.5" cy="0.5" r="0.5"><stop offset="0" stop-color="#ec949b"/><stop offset="0.65" stop-color="#f2adb1"/><stop offset="1" stop-color="#f8d3d5"/></radialGradient>
<radialGradient id="bOut" cx="0.5" cy="0.5" r="0.5"><stop offset="0" stop-color="#979bd9"/><stop offset="0.8" stop-color="#a6a9df"/><stop offset="1" stop-color="#b9bce7"/></radialGradient>
<radialGradient id="bNuc" cx="0.5" cy="0.5" r="0.5"><stop offset="0" stop-color="#3a3290"/><stop offset="0.75" stop-color="#4d45a0"/><stop offset="1" stop-color="#6560b4"/></radialGradient>
<radialGradient id="aOut" cx="0.5" cy="0.5" r="0.5"><stop offset="0" stop-color="#3f4fb2"/><stop offset="0.8" stop-color="#5262bd"/><stop offset="1" stop-color="#7885cc"/></radialGradient>
<marker id="ah2" viewBox="0 0 10 10" refX="9" refY="5" markerWidth="4.2" markerHeight="4.2" orient="auto"><path d="M0,0 L10,5 L0,10 z" fill="#111"/></marker>
</defs>
<path d="M89.3,323.4 Q89.9,325.0 90.2,326.9 Q90.5,328.9 89.0,330.3 Q87.6,331.8 85.5,332.2 Q83.3,332.5 81.3,332.8 Q79.3,333.0 77.5,332.2 Q75.7,331.3 74.2,330.0 Q72.7,328.7 72.1,326.8 Q71.5,325.0 72.6,323.4 Q73.8,321.8 75.0,320.6 Q76.3,319.3 77.7,317.8 Q79.2,316.4 81.3,316.7 Q83.4,317.1 85.5,317.7 Q87.6,318.2 88.2,320.0 Q88.8,321.9 89.3,323.4Z" fill="url(#mkOut)"/>
<path d="M86.2,323.6 Q87.0,324.6 86.7,325.8 Q86.4,327.0 85.0,327.3 Q83.6,327.6 82.7,327.9 Q81.9,328.3 80.7,329.0 Q79.6,329.7 78.5,329.1 Q77.4,328.5 76.6,327.6 Q75.9,326.7 76.0,325.7 Q76.1,324.6 76.1,323.6 Q76.0,322.5 76.8,321.7 Q77.5,320.8 78.6,320.4 Q79.7,320.0 80.8,320.3 Q81.9,320.7 83.0,320.9 Q84.1,321.1 84.7,321.9 Q85.4,322.7 86.2,323.6Z" fill="#e27c87"/>
<text x="59.10" y="313.20" font-size="6.2" fill="#3a3a3a" textLength="53.80" lengthAdjust="spacingAndGlyphs">normal hematopoiesis</text>
<text x="31.80" y="326.10" font-size="6.2" fill="#3a3a3a" textLength="38.00" lengthAdjust="spacingAndGlyphs">Megakaryocyte</text>
<line x1="81.4" y1="337" x2="81.4" y2="354" stroke="#111" stroke-width="1.1" marker-end="url(#ah2)"/>
<text x="93.70" y="348.60" font-size="6.2" fill="#3a3a3a" textLength="28.50" lengthAdjust="spacingAndGlyphs">enucleation</text>
<text x="50.60" y="365.70" font-size="6.4" fill="#3a3a3a" textLength="20.80" lengthAdjust="spacingAndGlyphs">Platelets</text>
<polygon points="81.9,359.8 78.7,360.7 76.7,363.4 75.8,360.2 73.1,358.2 76.3,357.3 78.3,354.6 79.2,357.8" fill="#c22a3c"/>
<polygon points="90.0,366.0 86.7,365.4 83.7,367.1 84.3,363.8 82.6,360.8 85.9,361.4 88.9,359.7 88.3,363.0" fill="#c22a3c"/>
<polygon points="84.3,368.3 81.2,369.7 79.8,372.8 78.4,369.7 75.3,368.3 78.4,366.9 79.8,363.8 81.2,366.9" fill="#c22a3c"/>
<text x="64.20" y="379.80" font-size="6.4" fill="#3a3a3a" textLength="34.90" lengthAdjust="spacingAndGlyphs">Active splicing</text>
<text x="59.10" y="386.50" font-size="6.4" fill="#3a3a3a" textLength="45.10" lengthAdjust="spacingAndGlyphs">protein translation</text>
<text x="119.30" y="333.40" font-size="6.2" fill="#3a3a3a" textLength="20.00" lengthAdjust="spacingAndGlyphs">RB1 low</text>
<text x="96.20" y="339.90" font-size="6.2" fill="#3a3a3a" textLength="66.90" lengthAdjust="spacingAndGlyphs">E2F1/CDKN2A activity high</text>
<text x="118.60" y="363.60" font-size="6.2" fill="#3a3a3a" textLength="21.40" lengthAdjust="spacingAndGlyphs">RB1 high</text>
<text x="96.20" y="370.00" font-size="6.2" fill="#3a3a3a" textLength="65.10" lengthAdjust="spacingAndGlyphs">E2F1/CDKN2A activity low</text>
<text x="153.20" y="306.40" font-size="6.2" fill="#3a3a3a" textLength="23.10" lengthAdjust="spacingAndGlyphs">Cells with</text>
<text x="144.70" y="312.60" font-size="6.2" fill="#3a3a3a" textLength="40.10" lengthAdjust="spacingAndGlyphs">NUP98::KDM5A</text>
<path d="M180.1,323.3 Q180.2,325.2 180.1,327.1 Q180.1,329.1 178.4,330.4 Q176.8,331.8 174.8,332.9 Q172.8,334.0 170.4,334.1 Q168.0,334.1 166.3,332.7 Q164.6,331.2 163.4,329.9 Q162.2,328.5 160.5,326.8 Q158.8,325.2 160.1,323.4 Q161.5,321.6 162.9,320.2 Q164.3,318.8 166.0,317.1 Q167.7,315.4 170.2,316.1 Q172.7,316.7 175.2,317.2 Q177.6,317.7 178.8,319.5 Q179.9,321.4 180.1,323.3Z" fill="url(#bOut)"/>
<path d="M172.9,322.9 Q173.2,323.8 172.9,324.7 Q172.5,325.6 172.0,326.4 Q171.5,327.3 170.5,327.6 Q169.4,327.8 168.4,327.8 Q167.4,327.7 166.3,327.5 Q165.3,327.3 164.2,326.7 Q163.1,326.0 162.9,324.9 Q162.7,323.8 163.0,322.7 Q163.3,321.6 164.4,321.1 Q165.4,320.5 166.3,319.9 Q167.2,319.3 168.4,319.4 Q169.5,319.6 170.4,320.1 Q171.3,320.6 171.9,321.3 Q172.5,322.0 172.9,322.9Z" fill="url(#bNuc)"/>
<line x1="170.4" y1="338.5" x2="170.4" y2="354.5" stroke="#111" stroke-width="1.1" marker-end="url(#ah2)"/>
<text x="173.30" y="348.10" font-size="6.2" fill="#3a3a3a" textLength="35.30" lengthAdjust="spacingAndGlyphs">differentiation</text>
<path d="M179.0,363.3 Q179.8,364.8 179.5,366.5 Q179.2,368.2 178.0,369.6 Q176.8,371.0 175.0,371.9 Q173.2,372.8 171.2,372.6 Q169.1,372.4 167.2,371.8 Q165.2,371.2 164.9,369.4 Q164.5,367.5 163.7,366.2 Q162.8,364.8 162.7,363.0 Q162.6,361.2 164.1,360.0 Q165.6,358.9 167.3,357.9 Q169.0,356.9 170.9,357.7 Q172.8,358.5 174.5,358.8 Q176.3,359.1 177.2,360.5 Q178.1,361.9 179.0,363.3Z" fill="url(#aOut)"/>
<path d="M174.2,363.4 Q174.7,364.2 174.5,365.1 Q174.3,365.9 173.5,366.5 Q172.8,367.0 172.0,367.2 Q171.1,367.5 170.3,367.3 Q169.5,367.2 168.6,367.2 Q167.7,367.2 167.2,366.5 Q166.7,365.7 166.4,365.0 Q166.0,364.2 166.4,363.4 Q166.8,362.7 167.2,361.9 Q167.6,361.2 168.5,361.0 Q169.5,360.9 170.4,360.7 Q171.3,360.4 172.1,360.8 Q173.0,361.2 173.4,361.9 Q173.8,362.7 174.2,363.4Z" fill="#283088"/>
<text x="161.30" y="381.10" font-size="6.2" fill="#3a3a3a" textLength="23.10" lengthAdjust="spacingAndGlyphs">apoptosis</text>
<text x="222.60" y="306.40" font-size="6.2" fill="#3a3a3a" textLength="24.20" lengthAdjust="spacingAndGlyphs">Cells with</text>
<text x="202.5" y="312.6" font-size="6.2" fill="#3a3a3a" textLength="65.5" lengthAdjust="spacingAndGlyphs">NUP98::KDM5A&amp; <tspan font-style="italic">RB1</tspan> loss</text>
<path d="M234.0,322.4 Q233.8,324.5 233.1,326.2 Q232.5,327.9 231.7,329.8 Q230.9,331.7 228.6,331.9 Q226.4,332.1 224.4,332.6 Q222.3,333.2 220.5,332.1 Q218.6,331.1 217.7,329.5 Q216.8,327.8 215.7,326.2 Q214.7,324.5 215.7,322.8 Q216.8,321.2 217.7,319.5 Q218.5,317.7 220.5,317.4 Q222.6,317.0 224.5,316.9 Q226.4,316.9 228.5,317.3 Q230.5,317.8 232.3,319.0 Q234.1,320.3 234.0,322.4Z" fill="url(#bOut)"/>
<path d="M228.1,322.1 Q227.9,323.3 228.2,324.5 Q228.5,325.8 227.2,326.3 Q225.9,326.8 225.0,327.6 Q224.1,328.5 222.9,328.0 Q221.7,327.6 220.6,327.2 Q219.6,326.9 218.3,326.4 Q217.0,325.8 217.3,324.5 Q217.7,323.3 217.6,322.2 Q217.5,321.0 218.4,320.2 Q219.4,319.4 220.5,319.0 Q221.6,318.5 222.8,318.5 Q224.0,318.4 225.0,319.1 Q226.0,319.8 227.2,320.3 Q228.3,320.9 228.1,322.1Z" fill="url(#bNuc)"/>
<text x="238.00" y="321.90" font-size="6.4" fill="#3a3a3a" textLength="37.70" lengthAdjust="spacingAndGlyphs">Maintanance of</text>
<text x="238.00" y="328.30" font-size="6.4" fill="#3a3a3a" textLength="68.40" lengthAdjust="spacingAndGlyphs">high E2F1/CDKN2A activity</text>
<path d="M226.4,336.6 A7.3,7.3 0 1 1 218.6,339.6" fill="none" stroke="#222" stroke-width="1.3" marker-end="url(#ah2)"/>
<text x="236.40" y="342.20" font-size="6.4" fill="#3a3a3a" textLength="30.00" lengthAdjust="spacingAndGlyphs">self-renewal</text>
<text x="236.40" y="349.60" font-size="6.4" fill="#3a3a3a" textLength="28.90" lengthAdjust="spacingAndGlyphs">at MK stage</text>
</svg></body></html>
